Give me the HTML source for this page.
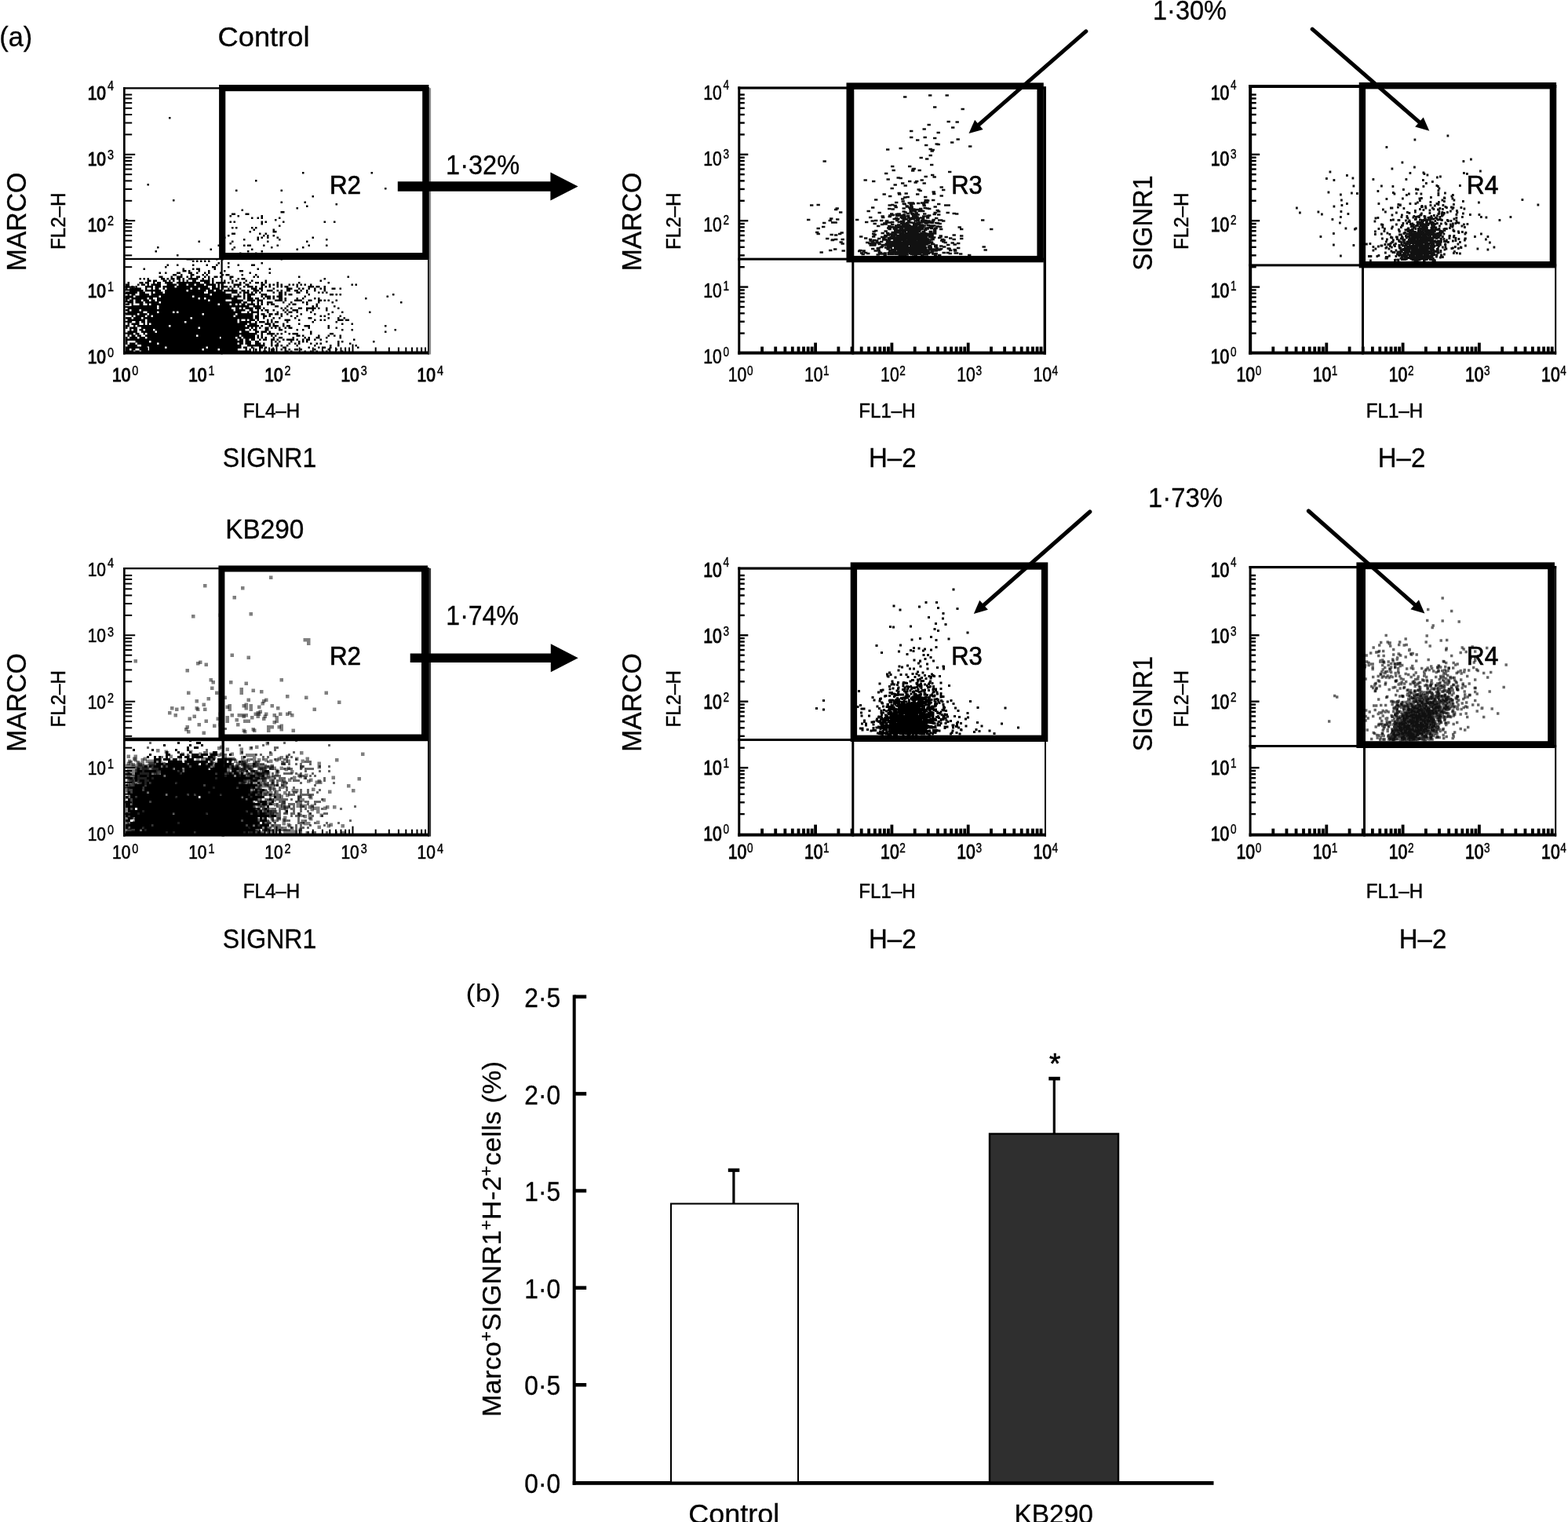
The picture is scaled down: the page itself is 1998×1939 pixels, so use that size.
<!DOCTYPE html>
<html lang="en"><head><meta charset="utf-8"><title>Figure</title>
<style>html,body{margin:0;padding:0;background:#fff}svg{display:block}text{font-family:'Liberation Sans', sans-serif;fill:#000}</style>
</head><body>
<svg width="1998" height="1939" viewBox="0 0 1998 1939">
<rect width="1998" height="1939" fill="#fff"/>
<path d="M215 150.25h2.5m65 47.5h2.5m100 22.5h2.5m85 0h2.5m-150 10h2.5m-140 5h2.5m300 5h2.5m-192.5 2.5h2.5m55 0h2.5m37.5 7.5h2.5m-180 5h2.5m135 2.5h2.5m27.5 0h2.5m37.5 2.5h2.5m-40 2.5h2.5m-15 2.5h2.5m-72.5 2.5h2.5m47.5 2.5h5m-67.5 2.5h5m12.5 0h5m-25 2.5h2.5m7.5 0h2.5m27.5 0h2.5m-15 2.5h2.5m5 0h2.5m2.5 0h2.5m20 0h2.5m-197.5 2.5h2.5m187.5 0h2.5m-60 2.5h2.5m2.5 0h2.5m32.5 0h2.5m2.5 0h2.5m20 0h2.5m50 0h2.5m10 0h2.5m-95 2.5h2.5m20 2.5h2.5m-62.5 2.5h2.5m2.5 0h2.5m17.5 0h2.5m2.5 0h2.5m-5 2.5h2.5m22.5 0h2.5m-32.5 2.5h2.5m27.5 0h5m-57.5 2.5h5m30 0h2.5m5 0h2.5m-57.5 2.5h2.5m5 0h2.5m42.5 0h2.5m2.5 0h2.5m5 0h2.5m-65 2.5h2.5m40 0h2.5m2.5 0h2.5m5 0h2.5m10 0h2.5m42.5 0h2.5m-90 2.5h2.5m15 0h2.5m25 0h2.5m57.5 0h2.5m-165 2.5h2.5m40 0h2.5m42.5 0h2.5m47.5 0h2.5m-100 2.5h2.5m-17.5 2.5h2.5m30 0h2.5m2.5 0h5m15 0h2.5m15 0h2.5m37.5 0h2.5m20 0h2.5m-217.5 2.5h2.5m95 0h2.5m45 0h2.5m37.5 0h2.5m-120 2.5h2.5m25 0h2.5m22.5 0h2.5m55 0h2.5m-182.5 2.5h2.5m115 0h2.5m15 0h2.5m-30 2.5h2.5m17.5 0h2.5m-102.5 2.5h2.5m52.5 0h2.5m55 0h2.5m10 0h2.5m-17.5 2.5h2.5m30 0h2.5m67.5 0h2.5m-202.5 2.5h7.5m30 0h2.5m5 0h2.5m72.5 0h2.5m-115 2.5h2.5m2.5 0h2.5m2.5 0h2.5m2.5 0h2.5m2.5 0h2.5m10 2.5h2.5m10 0h2.5m40 0h2.5m-122.5 2.5h2.5m10 0h2.5m17.5 0h2.5m15 0h2.5m10 0h2.5m25 0h2.5m15 0h5m-115 2.5h2.5m57.5 0h5m15 0h2.5m-110 2.5h2.5m47.5 0h2.5m10 0h2.5m2.5 0h5m17.5 0h2.5m52.5 0h2.5m12.5 0h2.5m-112.5 2.5h5m2.5 0h2.5m10 0h2.5m10 0h2.5m17.5 0h2.5m17.5 0h5m-107.5 2.5h2.5m5 0h2.5m12.5 0h5m10 0h5m5 0h2.5m7.5 0h2.5m2.5 0h2.5m12.5 0h2.5m35 0h2.5m22.5 0h2.5m-125 2.5h5m5 0h2.5m10 0h5m10 0h2.5m2.5 0h2.5m17.5 0h2.5m2.5 0h5m15 0h2.5m15 0h2.5m-125 2.5h5m10 0h2.5m5 0h7.5m5 0h2.5m2.5 0h2.5m5 0h5m5 0h2.5m2.5 0h2.5m5 0h5m2.5 0h2.5m10 0h5m25 0h2.5m2.5 0h2.5m50 0h2.5m60 0h2.5m-267.5 2.5h2.5m2.5 0h2.5m2.5 0h2.5m15 0h5m2.5 0h2.5m2.5 0h5m2.5 0h5m2.5 0h2.5m5 0h12.5m5 0h2.5m5 0h2.5m2.5 0h2.5m20 0h2.5m7.5 0h2.5m2.5 0h5m100 0h2.5m-227.5 2.5h5m2.5 0h5m7.5 0h5m2.5 0h2.5m2.5 0h2.5m5 0h2.5m2.5 0h2.5m2.5 0h2.5m5 0h5m5 0h12.5m2.5 0h2.5m12.5 0h2.5m7.5 0h2.5m2.5 0h2.5m10 0h2.5m5 0h2.5m15 0h2.5m67.5 0h2.5m-247.5 2.5h2.5m12.5 0h5m2.5 0h5m5 0h2.5m2.5 0h5m5 0h10m5 0h30m5 0h7.5m2.5 0h2.5m2.5 0h12.5m2.5 0h2.5m2.5 0h2.5m7.5 0h2.5m2.5 0h2.5m5 0h2.5m5 0h5m2.5 0h2.5m2.5 0h2.5m12.5 0h2.5m25 0h2.5m35 0h2.5m-260 2.5h5m10 0h2.5m2.5 0h5m2.5 0h2.5m2.5 0h12.5m7.5 0h12.5m2.5 0h10m2.5 0h7.5m2.5 0h10m2.5 0h12.5m2.5 0h2.5m2.5 0h2.5m12.5 0h10m5 0h5m15 0h5m5 0h2.5m2.5 0h2.5m2.5 0h2.5m2.5 0h2.5m7.5 0h2.5m2.5 0h2.5m2.5 0h2.5m2.5 0h2.5m2.5 0h2.5m5 0h2.5m50 0h2.5m2.5 0h2.5m-295 2.5h5m2.5 0h2.5m2.5 0h2.5m10 0h10m2.5 0h7.5m2.5 0h15m2.5 0h40m5 0h5m2.5 0h2.5m2.5 0h7.5m2.5 0h2.5m2.5 0h2.5m2.5 0h2.5m5 0h2.5m2.5 0h7.5m2.5 0h2.5m5 0h2.5m2.5 0h2.5m2.5 0h2.5m7.5 0h2.5m2.5 0h2.5m2.5 0h5m10 0h2.5m12.5 0h7.5m2.5 0h5m5 0h2.5m-255 2.5h2.5m2.5 0h15m5 0h2.5m5 0h2.5m2.5 0h5m5 0h2.5m2.5 0h30m2.5 0h7.5m2.5 0h12.5m2.5 0h10m2.5 0h2.5m5 0h2.5m2.5 0h2.5m7.5 0h2.5m12.5 0h7.5m2.5 0h5m12.5 0h2.5m15 0h7.5m7.5 0h2.5m2.5 0h2.5m5 0h2.5m5 0h2.5m5 0h2.5m2.5 0h2.5m7.5 0h5m5 0h2.5m-270 2.5h17.5m2.5 0h20m5 0h27.5m2.5 0h22.5m2.5 0h7.5m2.5 0h7.5m2.5 0h17.5m5 0h5m2.5 0h2.5m5 0h7.5m2.5 0h2.5m5 0h7.5m5 0h2.5m2.5 0h2.5m5 0h5m5 0h5m2.5 0h2.5m5 0h2.5m7.5 0h2.5m10 0h2.5m-255 2.5h15m2.5 0h7.5m7.5 0h2.5m2.5 0h10m2.5 0h50m5 0h22.5m7.5 0h7.5m2.5 0h2.5m2.5 0h7.5m2.5 0h2.5m2.5 0h2.5m2.5 0h2.5m15 0h2.5m5 0h5m2.5 0h2.5m12.5 0h5m7.5 0h2.5m12.5 0h2.5m2.5 0h2.5m2.5 0h2.5m-255 2.5h2.5m2.5 0h5m5 0h12.5m2.5 0h75m2.5 0h25m7.5 0h2.5m5 0h2.5m2.5 0h10m7.5 0h7.5m15 0h5m2.5 0h2.5m2.5 0h5m20 0h2.5m25 0h5m2.5 0h2.5m2.5 0h2.5m65 0h2.5m-342.5 2.5h10m2.5 0h30m2.5 0h40m2.5 0h47.5m2.5 0h10m2.5 0h2.5m2.5 0h5m12.5 0h2.5m2.5 0h7.5m2.5 0h2.5m2.5 0h7.5m27.5 0h2.5m102.5 0h2.5m-335 2.5h5m2.5 0h20m2.5 0h5m5 0h52.5m2.5 0h5m2.5 0h40m7.5 0h2.5m2.5 0h7.5m2.5 0h5m5 0h2.5m2.5 0h5m2.5 0h2.5m5 0h5m2.5 0h2.5m12.5 0h2.5m5 0h2.5m12.5 0h2.5m2.5 0h2.5m57.5 0h2.5m-307.5 2.5h2.5m2.5 0h5m2.5 0h7.5m2.5 0h7.5m2.5 0h5m2.5 0h65m2.5 0h20m7.5 0h15m5 0h10m2.5 0h7.5m15 0h10m2.5 0h2.5m10 0h10m7.5 0h5m7.5 0h5m2.5 0h2.5m2.5 0h2.5m7.5 0h2.5m-267.5 2.5h7.5m2.5 0h10m2.5 0h17.5m2.5 0h102.5m2.5 0h5m5 0h2.5m5 0h2.5m2.5 0h2.5m5 0h7.5m12.5 0h2.5m7.5 0h2.5m12.5 0h2.5m2.5 0h2.5m12.5 0h2.5m15 0h2.5m85 0h2.5m-352.5 2.5h5m2.5 0h2.5m7.5 0h5m5 0h2.5m2.5 0h85m2.5 0h12.5m2.5 0h5m2.5 0h2.5m2.5 0h5m2.5 0h10m2.5 0h2.5m2.5 0h2.5m5 0h2.5m2.5 0h5m17.5 0h2.5m2.5 0h5m12.5 0h2.5m10 0h2.5m-237.5 2.5h32.5m2.5 0h115m5 0h10m17.5 0h5m10 0h2.5m30 0h2.5m2.5 0h2.5m20 0h2.5m-265 2.5h37.5m2.5 0h92.5m5 0h5m2.5 0h2.5m2.5 0h10m2.5 0h7.5m2.5 0h2.5m20 0h2.5m2.5 0h2.5m5 0h2.5m7.5 0h5m5 0h12.5m2.5 0h2.5m7.5 0h2.5m12.5 0h2.5m-272.5 2.5h5m2.5 0h10m2.5 0h117.5m2.5 0h12.5m5 0h5m5 0h2.5m2.5 0h2.5m2.5 0h5m5 0h2.5m10 0h2.5m2.5 0h2.5m5 0h7.5m10 0h2.5m5 0h2.5m15 0h2.5m-255 2.5h20m5 0h12.5m2.5 0h17.5m2.5 0h2.5m2.5 0h80m7.5 0h2.5m2.5 0h10m10 0h2.5m10 0h2.5m7.5 0h2.5m2.5 0h5m5 0h2.5m15 0h2.5m25 0h2.5m10 0h2.5m32.5 0h2.5m-312.5 2.5h15m2.5 0h10m2.5 0h67.5m2.5 0h40m2.5 0h20m5 0h2.5m2.5 0h5m5 0h5m2.5 0h5m2.5 0h2.5m5 0h2.5m15 0h2.5m15 0h2.5m15 0h2.5m-252.5 2.5h2.5m2.5 0h12.5m2.5 0h5m2.5 0h102.5m2.5 0h22.5m2.5 0h5m5 0h5m2.5 0h2.5m12.5 0h2.5m10 0h2.5m5 0h2.5m27.5 0h2.5m2.5 0h2.5m17.5 0h2.5m-275 2.5h7.5m2.5 0h10m2.5 0h60m2.5 0h77.5m2.5 0h5m5 0h2.5m10 0h2.5m5 0h2.5m17.5 0h2.5m15 0h5m20 0h2.5m10 0h2.5m5 0h2.5m-277.5 2.5h22.5m2.5 0h115m2.5 0h2.5m5 0h2.5m2.5 0h7.5m2.5 0h2.5m10 0h2.5m2.5 0h2.5m15 0h7.5m10 0h2.5m17.5 0h2.5m5 0h2.5m2.5 0h2.5m15 0h7.5m2.5 0h5m-282.5 2.5h5m5 0h5m2.5 0h5m2.5 0h47.5m2.5 0h65m2.5 0h15m5 0h2.5m2.5 0h7.5m2.5 0h2.5m2.5 0h2.5m2.5 0h5m10 0h2.5m30 0h2.5m27.5 0h2.5m-267.5 2.5h2.5m2.5 0h10m5 0h2.5m2.5 0h2.5m2.5 0h122.5m2.5 0h10m10 0h7.5m2.5 0h2.5m10 0h2.5m17.5 0h2.5m52.5 0h2.5m10 0h2.5m-290 2.5h5m5 0h2.5m2.5 0h40m2.5 0h95m2.5 0h15m2.5 0h2.5m7.5 0h2.5m2.5 0h7.5m5 0h2.5m2.5 0h5m17.5 0h7.5m22.5 0h2.5m70 0h2.5m-332.5 2.5h2.5m2.5 0h10m5 0h72.5m2.5 0h62.5m2.5 0h2.5m2.5 0h2.5m2.5 0h2.5m5 0h5m2.5 0h2.5m2.5 0h2.5m2.5 0h2.5m5 0h2.5m2.5 0h5m20 0h2.5m22.5 0h2.5m7.5 0h2.5m-265 2.5h2.5m2.5 0h5m2.5 0h5m2.5 0h10m2.5 0h115m5 0h2.5m2.5 0h5m10 0h5m12.5 0h5m17.5 0h2.5m5 0h2.5m47.5 0h2.5m10 0h2.5m52.5 0h2.5m-342.5 2.5h12.5m5 0h17.5m2.5 0h105m2.5 0h10m7.5 0h5m2.5 0h7.5m2.5 0h2.5m17.5 0h2.5m30 0h2.5m92.5 0h2.5m-330 2.5h7.5m2.5 0h5m5 0h2.5m2.5 0h140m5 0h2.5m5 0h10m2.5 0h2.5m2.5 0h2.5m7.5 0h2.5m2.5 0h7.5m15 0h2.5m22.5 0h5m-262.5 2.5h2.5m2.5 0h5m2.5 0h5m5 0h65m2.5 0h52.5m2.5 0h17.5m2.5 0h2.5m2.5 0h2.5m10 0h2.5m2.5 0h2.5m25 0h5m2.5 0h2.5m17.5 0h2.5m10 0h2.5m5 0h2.5m5 0h2.5m-275 2.5h2.5m2.5 0h10m2.5 0h7.5m2.5 0h92.5m2.5 0h17.5m2.5 0h5m2.5 0h15m2.5 0h2.5m2.5 0h2.5m2.5 0h2.5m7.5 0h2.5m5 0h5m12.5 0h2.5m12.5 0h2.5m2.5 0h2.5m7.5 0h5m7.5 0h2.5m15 0h2.5m-275 2.5h142.5m2.5 0h5m2.5 0h5m2.5 0h5m5 0h2.5m2.5 0h5m5 0h5m2.5 0h2.5m5 0h2.5m2.5 0h10m2.5 0h2.5m5 0h2.5m2.5 0h5m5 0h2.5m5 0h2.5m40 0h2.5m-292.5 2.5h2.5m10 0h17.5m2.5 0h117.5m2.5 0h7.5m5 0h5m15 0h2.5m2.5 0h2.5m2.5 0h2.5m12.5 0h2.5m7.5 0h2.5m2.5 0h2.5m2.5 0h2.5m22.5 0h2.5m12.5 0h2.5m2.5 0h2.5m37.5 0h2.5m-317.5 2.5h2.5m2.5 0h7.5m2.5 0h25m2.5 0h100m2.5 0h5m2.5 0h7.5m5 0h7.5m2.5 0h2.5m7.5 0h2.5m5 0h2.5m12.5 0h2.5m5 0h2.5m2.5 0h2.5m12.5 0h2.5m5 0h2.5m2.5 0h2.5m20 0h2.5m12.5 0h2.5m-285 2.5h12.5m5 0h127.5m7.5 0h22.5m7.5 0h2.5m2.5 0h5m2.5 0h2.5m5 0h2.5m10 0h2.5m20 0h2.5m17.5 0h2.5m7.5 0h2.5m20 0h2.5m-295 2.5h27.5m2.5 0h20m2.5 0h50m2.5 0h42.5m2.5 0h5m5 0h2.5m7.5 0h5m2.5 0h2.5m20 0h5m27.5 0h2.5m10 0h2.5m2.5 0h5m5 0h2.5m32.5 0h2.5m-297.5 2.5h5m2.5 0h5m5 0h10m2.5 0h67.5m2.5 0h17.5m2.5 0h22.5m10 0h2.5m2.5 0h2.5m5 0h2.5m2.5 0h2.5m12.5 0h5m7.5 0h2.5m2.5 0h2.5m2.5 0h2.5m5 0h5m2.5 0h2.5m15 0h2.5m15 0h2.5m7.5 0h2.5m-270 2.5h10m2.5 0h5m2.5 0h140m5 0h2.5m2.5 0h2.5m2.5 0h5m5 0h5m12.5 0h5m2.5 0h2.5m15 0h2.5m5 0h2.5m5 0h2.5m5 0h2.5m2.5 0h2.5m17.5 0h2.5" stroke="#000" stroke-width="2.5" fill="none"/>
<rect x="157.00" y="111.20" width="390.00" height="2.30" fill="#000"/>
<rect x="157.00" y="111.20" width="2.70" height="340.30" fill="#000"/>
<rect x="157.00" y="447.50" width="390.00" height="4.00" fill="#000"/>
<rect x="545.00" y="111.20" width="2.00" height="340.30" fill="#000"/>
<rect x="157.00" y="328.80" width="390.00" height="2.20" fill="#000"/>
<rect x="281.50" y="111.20" width="2.20" height="340.30" fill="#000"/>
<rect x="159.20" y="423.59" width="9.00" height="2.00" fill="#000"/>
<rect x="186.70" y="442.50" width="2.00" height="5.50" fill="#000"/>
<rect x="159.20" y="408.73" width="9.00" height="2.00" fill="#000"/>
<rect x="203.78" y="442.50" width="2.00" height="5.50" fill="#000"/>
<rect x="159.20" y="398.19" width="9.00" height="2.00" fill="#000"/>
<rect x="215.90" y="442.50" width="2.00" height="5.50" fill="#000"/>
<rect x="159.20" y="390.01" width="9.00" height="2.00" fill="#000"/>
<rect x="225.30" y="442.50" width="2.00" height="5.50" fill="#000"/>
<rect x="159.20" y="383.32" width="9.00" height="2.00" fill="#000"/>
<rect x="232.98" y="442.50" width="2.00" height="5.50" fill="#000"/>
<rect x="159.20" y="377.67" width="9.00" height="2.00" fill="#000"/>
<rect x="239.47" y="442.50" width="2.00" height="5.50" fill="#000"/>
<rect x="159.20" y="372.78" width="9.00" height="2.00" fill="#000"/>
<rect x="245.10" y="442.50" width="2.00" height="5.50" fill="#000"/>
<rect x="159.20" y="368.46" width="9.00" height="2.00" fill="#000"/>
<rect x="250.06" y="442.50" width="2.00" height="5.50" fill="#000"/>
<rect x="159.20" y="364.60" width="13.00" height="2.00" fill="#000"/>
<rect x="254.50" y="438.50" width="2.00" height="9.50" fill="#000"/>
<rect x="159.20" y="339.19" width="9.00" height="2.00" fill="#000"/>
<rect x="283.70" y="442.50" width="2.00" height="5.50" fill="#000"/>
<rect x="159.20" y="324.33" width="9.00" height="2.00" fill="#000"/>
<rect x="300.78" y="442.50" width="2.00" height="5.50" fill="#000"/>
<rect x="159.20" y="313.79" width="9.00" height="2.00" fill="#000"/>
<rect x="312.90" y="442.50" width="2.00" height="5.50" fill="#000"/>
<rect x="159.20" y="305.61" width="9.00" height="2.00" fill="#000"/>
<rect x="322.30" y="442.50" width="2.00" height="5.50" fill="#000"/>
<rect x="159.20" y="298.92" width="9.00" height="2.00" fill="#000"/>
<rect x="329.98" y="442.50" width="2.00" height="5.50" fill="#000"/>
<rect x="159.20" y="293.27" width="9.00" height="2.00" fill="#000"/>
<rect x="336.47" y="442.50" width="2.00" height="5.50" fill="#000"/>
<rect x="159.20" y="288.38" width="9.00" height="2.00" fill="#000"/>
<rect x="342.10" y="442.50" width="2.00" height="5.50" fill="#000"/>
<rect x="159.20" y="284.06" width="9.00" height="2.00" fill="#000"/>
<rect x="347.06" y="442.50" width="2.00" height="5.50" fill="#000"/>
<rect x="159.20" y="280.20" width="13.00" height="2.00" fill="#000"/>
<rect x="351.50" y="438.50" width="2.00" height="9.50" fill="#000"/>
<rect x="159.20" y="254.79" width="9.00" height="2.00" fill="#000"/>
<rect x="380.70" y="442.50" width="2.00" height="5.50" fill="#000"/>
<rect x="159.20" y="239.93" width="9.00" height="2.00" fill="#000"/>
<rect x="397.78" y="442.50" width="2.00" height="5.50" fill="#000"/>
<rect x="159.20" y="229.39" width="9.00" height="2.00" fill="#000"/>
<rect x="409.90" y="442.50" width="2.00" height="5.50" fill="#000"/>
<rect x="159.20" y="221.21" width="9.00" height="2.00" fill="#000"/>
<rect x="419.30" y="442.50" width="2.00" height="5.50" fill="#000"/>
<rect x="159.20" y="214.52" width="9.00" height="2.00" fill="#000"/>
<rect x="426.98" y="442.50" width="2.00" height="5.50" fill="#000"/>
<rect x="159.20" y="208.87" width="9.00" height="2.00" fill="#000"/>
<rect x="433.47" y="442.50" width="2.00" height="5.50" fill="#000"/>
<rect x="159.20" y="203.98" width="9.00" height="2.00" fill="#000"/>
<rect x="439.10" y="442.50" width="2.00" height="5.50" fill="#000"/>
<rect x="159.20" y="199.66" width="9.00" height="2.00" fill="#000"/>
<rect x="444.06" y="442.50" width="2.00" height="5.50" fill="#000"/>
<rect x="159.20" y="195.80" width="13.00" height="2.00" fill="#000"/>
<rect x="448.50" y="438.50" width="2.00" height="9.50" fill="#000"/>
<rect x="159.20" y="170.39" width="9.00" height="2.00" fill="#000"/>
<rect x="477.70" y="442.50" width="2.00" height="5.50" fill="#000"/>
<rect x="159.20" y="155.53" width="9.00" height="2.00" fill="#000"/>
<rect x="494.78" y="442.50" width="2.00" height="5.50" fill="#000"/>
<rect x="159.20" y="144.99" width="9.00" height="2.00" fill="#000"/>
<rect x="506.90" y="442.50" width="2.00" height="5.50" fill="#000"/>
<rect x="159.20" y="136.81" width="9.00" height="2.00" fill="#000"/>
<rect x="516.30" y="442.50" width="2.00" height="5.50" fill="#000"/>
<rect x="159.20" y="130.12" width="9.00" height="2.00" fill="#000"/>
<rect x="523.98" y="442.50" width="2.00" height="5.50" fill="#000"/>
<rect x="159.20" y="124.47" width="9.00" height="2.00" fill="#000"/>
<rect x="530.47" y="442.50" width="2.00" height="5.50" fill="#000"/>
<rect x="159.20" y="119.58" width="9.00" height="2.00" fill="#000"/>
<rect x="536.10" y="442.50" width="2.00" height="5.50" fill="#000"/>
<rect x="541.06" y="442.50" width="2.00" height="5.50" fill="#000"/>
<rect x="546.50" y="112.20" width="2.60" height="339.30" fill="#8a8a8a"/>
<rect x="283.20" y="112.10" width="259.10" height="214.00" fill="none" stroke="#000" stroke-width="8.2"/>
<path d="M259 746.25h4.5m54 36h4.5m-72 63h4.5m-18 9h4.5m27 22.5h4.5m58.5 4.5h4.5m-54 4.5h4.5m-22.5 4.5h4.5m162 4.5h4.5m-144 4.5h4.5m13.5 0h4.5m4.5 0h4.5m22.5 0h4.5m-126 4.5h4.5m22.5 0h4.5m4.5 0h4.5m27 0h4.5m22.5 0h4.5m76.5 0h4.5m-189 4.5h4.5m108 0h4.5m36 0h4.5m-126 4.5h4.5m58.5 0h4.5m13.5 0h4.5m4.5 0h4.5m-40.5 4.5h4.5m-22.5 4.5h4.5m-49.5 4.5h4.5m99 0h9m4.5 0h4.5m-49.5 4.5h4.5m9 0h4.5m13.5 0h4.5m27 0h4.5m-45 9h4.5m-58.5 13.5h4.5m36 0h4.5m-112.5 4.5h4.5m27 0h4.5m31.5 4.5h4.5m31.5 0h13.5m-157.5 4.5h4.5m9 0h4.5m40.5 0h4.5m18 0h4.5m4.5 0h13.5m13.5 0h13.5m22.5 0h4.5m27 0h4.5m18 0h4.5m9 0h4.5m-229.5 4.5h4.5m4.5 0h4.5m18 0h9m13.5 0h4.5m27 0h4.5m4.5 0h4.5m4.5 0h4.5m9 0h4.5m4.5 0h4.5m13.5 0h4.5m9 0h4.5m31.5 0h4.5m-202.5 4.5h58.5m9 0h18m13.5 0h9m4.5 0h4.5m9 0h4.5m9 0h4.5m4.5 0h9m4.5 0h4.5m4.5 0h9m4.5 0h4.5m-175.5 4.5h36m4.5 0h4.5m9 0h13.5m4.5 0h18m4.5 0h18m18 0h9m4.5 0h4.5m9 0h4.5m27 0h4.5m-207 4.5h4.5m9 0h18m4.5 0h4.5m4.5 0h13.5m4.5 0h18m4.5 0h9m4.5 0h49.5m4.5 0h4.5m9 0h18m-184.5 4.5h49.5m4.5 0h4.5m13.5 0h22.5m4.5 0h4.5m9 0h40.5m4.5 0h13.5m9 0h4.5m36 0h4.5m-220.5 4.5h31.5m4.5 0h99m13.5 0h9m4.5 0h9m31.5 0h4.5m22.5 0h4.5m-234 4.5h22.5m4.5 0h13.5m4.5 0h22.5m13.5 0h9m4.5 0h18m4.5 0h22.5m4.5 0h9m18 0h4.5m4.5 0h4.5m9 0h4.5m-198 4.5h18m4.5 0h31.5m4.5 0h4.5m9 0h18m4.5 0h27m4.5 0h22.5m4.5 0h13.5m27 0h4.5m-202.5 4.5h4.5m9 0h4.5m9 0h58.5m4.5 0h18m9 0h9m9 0h9m4.5 0h9m4.5 0h13.5m36 0h9m67.5 0h4.5m-283.5 4.5h18m4.5 0h13.5m9 0h4.5m9 0h31.5m4.5 0h4.5m4.5 0h13.5m9 0h4.5m13.5 0h9m13.5 0h4.5m-180 4.5h4.5m4.5 0h49.5m4.5 0h9m4.5 0h4.5m4.5 0h4.5m4.5 0h9m4.5 0h4.5m4.5 0h4.5m4.5 0h4.5m4.5 0h13.5m9 0h4.5m72 0h4.5m-229.5 4.5h4.5m4.5 0h9m9 0h36m4.5 0h18m4.5 0h27m9 0h4.5m4.5 0h18m18 0h9m-189 4.5h4.5m4.5 0h4.5m4.5 0h40.5m9 0h9m9 0h45m4.5 0h9m4.5 0h9m4.5 0h9m4.5 0h4.5m9 0h4.5m-193.5 4.5h9m9 0h13.5m4.5 0h9m9 0h9m4.5 0h31.5m4.5 0h18m4.5 0h4.5m4.5 0h18m4.5 0h9m36 0h4.5m31.5 0h9m4.5 0h4.5m-256.5 4.5h27m9 0h13.5m4.5 0h18m4.5 0h85.5m4.5 0h4.5m4.5 0h4.5m4.5 0h9m9 0h4.5m36 0h4.5m-247.5 4.5h45m4.5 0h4.5m18 0h4.5m4.5 0h4.5m4.5 0h13.5m4.5 0h49.5m4.5 0h9m4.5 0h4.5m4.5 0h4.5m31.5 0h4.5m22.5 0h4.5m-252 4.5h4.5m13.5 0h4.5m4.5 0h31.5m4.5 0h22.5m4.5 0h13.5m13.5 0h9m9 0h27m13.5 0h4.5m4.5 0h4.5m4.5 0h4.5m36 0h4.5m-238.5 4.5h4.5m4.5 0h4.5m4.5 0h9m4.5 0h9m4.5 0h4.5m4.5 0h31.5m4.5 0h4.5m13.5 0h22.5m4.5 0h4.5m4.5 0h27m9 0h4.5m58.5 0h4.5m-247.5 4.5h4.5m4.5 0h31.5m4.5 0h9m4.5 0h9m9 0h4.5m4.5 0h4.5m4.5 0h31.5m4.5 0h4.5m9 0h9m4.5 0h4.5m4.5 0h4.5m13.5 0h4.5m18 0h4.5m45 0h4.5m13.5 0h4.5m-279 4.5h13.5m9 0h27m4.5 0h22.5m4.5 0h13.5m4.5 0h22.5m4.5 0h31.5m4.5 0h4.5m13.5 0h4.5m36 0h4.5m-220.5 4.5h4.5m13.5 0h4.5m4.5 0h4.5m4.5 0h67.5m4.5 0h27m4.5 0h9m4.5 0h13.5m58.5 0h4.5m40.5 0h4.5" stroke="#000" stroke-width="4.5" fill="none" opacity="0.5"/>
<path d="M296.5 761.25h4.5m-22.5 22.5h4.5m103.5 31.5h9m-4.5 4.5h4.5m-81 18h4.5m-148.5 4.5h4.5m85.5 4.5h4.5m4.5 22.5h4.5m18 0h4.5m9 9h4.5m-72 4.5h4.5m31.5 0h4.5m27 0h4.5m103.5 0h4.5m-54 4.5h4.5m-54 4.5h4.5m18 0h4.5m-9 4.5h4.5m-49.5 4.5h4.5m36 0h4.5m-54 9h4.5m40.5 0h9m4.5 0h4.5m13.5 0h4.5m4.5 0h4.5m-81 4.5h4.5m27 0h4.5m27 0h4.5m-94.5 4.5h4.5m22.5 0h4.5m18 0h9m31.5 0h4.5m-103.5 4.5h4.5m22.5 0h4.5m18 0h4.5m-67.5 9h4.5m67.5 0h4.5m4.5 9h4.5m22.5 0h4.5m-63 13.5h4.5m13.5 0h4.5m-99 4.5h4.5m90 0h4.5m72 0h4.5m-225 4.5h4.5m4.5 0h4.5m40.5 0h4.5m18 0h4.5m121.5 0h4.5m-198 4.5h4.5m4.5 0h4.5m18 0h4.5m13.5 0h4.5m67.5 0h4.5m18 0h4.5m9 0h4.5m4.5 0h4.5m9 0h4.5m72 0h4.5m-270 4.5h4.5m9 0h9m4.5 0h9m4.5 0h9m9 0h4.5m4.5 0h4.5m4.5 0h4.5m13.5 0h9m4.5 0h13.5m18 0h4.5m4.5 0h4.5m9 0h4.5m31.5 0h4.5m40.5 0h4.5m-234 4.5h13.5m4.5 0h9m4.5 0h4.5m4.5 0h13.5m9 0h9m18 0h13.5m9 0h18m4.5 0h13.5m13.5 0h9m36 0h4.5m18 0h4.5m-247.5 4.5h27m4.5 0h13.5m4.5 0h22.5m9 0h22.5m9 0h9m13.5 0h18m4.5 0h4.5m27 0h4.5m-193.5 4.5h58.5m4.5 0h13.5m4.5 0h9m13.5 0h4.5m4.5 0h22.5m4.5 0h4.5m9 0h4.5m4.5 0h18m9 0h4.5m-193.5 4.5h4.5m4.5 0h49.5m4.5 0h13.5m4.5 0h22.5m4.5 0h27m4.5 0h27m4.5 0h18m22.5 0h4.5m9 0h4.5m31.5 0h4.5m-265.5 4.5h9m4.5 0h76.5m4.5 0h13.5m4.5 0h40.5m4.5 0h9m18 0h4.5m9 0h4.5m27 0h4.5m9 0h4.5m-247.5 4.5h4.5m4.5 0h4.5m4.5 0h27m4.5 0h9m4.5 0h4.5m4.5 0h9m4.5 0h4.5m4.5 0h9m4.5 0h4.5m4.5 0h31.5m4.5 0h18m4.5 0h4.5m4.5 0h4.5m-189 4.5h27m4.5 0h27m9 0h13.5m4.5 0h40.5m4.5 0h4.5m4.5 0h9m9 0h4.5m4.5 0h4.5m9 0h9m-189 4.5h22.5m9 0h58.5m4.5 0h13.5m9 0h9m9 0h4.5m4.5 0h4.5m9 0h9m4.5 0h9m9 0h4.5m63 0h4.5m-256.5 4.5h4.5m9 0h4.5m4.5 0h36m4.5 0h22.5m9 0h22.5m4.5 0h13.5m4.5 0h4.5m4.5 0h4.5m4.5 0h13.5m9 0h4.5m13.5 0h4.5m-202.5 4.5h27m4.5 0h36m4.5 0h9m9 0h22.5m13.5 0h4.5m18 0h9m4.5 0h4.5m-171 4.5h13.5m4.5 0h72m4.5 0h27m13.5 0h27m4.5 0h4.5m27 0h4.5m13.5 0h4.5m-216 4.5h4.5m4.5 0h4.5m4.5 0h31.5m4.5 0h9m13.5 0h13.5m4.5 0h54m4.5 0h4.5m4.5 0h9m18 0h4.5m18 0h13.5m4.5 0h4.5m-225 4.5h54m4.5 0h13.5m9 0h9m4.5 0h18m4.5 0h40.5m4.5 0h9m49.5 0h4.5m-234 4.5h36m4.5 0h9m4.5 0h9m4.5 0h4.5m4.5 0h4.5m4.5 0h36m13.5 0h13.5m4.5 0h13.5m4.5 0h9m-184.5 4.5h9m9 0h27m4.5 0h13.5m9 0h4.5m4.5 0h9m4.5 0h22.5m4.5 0h9m4.5 0h18m4.5 0h9m13.5 0h4.5m40.5 0h4.5m-220.5 4.5h54m4.5 0h58.5m9 0h4.5m13.5 0h18m27 0h4.5m-202.5 4.5h13.5m4.5 0h9m4.5 0h36m4.5 0h18m4.5 0h22.5m4.5 0h45m31.5 0h4.5m22.5 0h9m-225 4.5h31.5m4.5 0h18m4.5 0h13.5m4.5 0h9m9 0h9m4.5 0h4.5m4.5 0h31.5m18 0h4.5m63 0h4.5m-247.5 4.5h40.5m9 0h18m9 0h4.5m4.5 0h40.5m9 0h18m4.5 0h4.5m13.5 0h4.5m-180 4.5h13.5m4.5 0h18m4.5 0h4.5m4.5 0h54m4.5 0h4.5m9 0h31.5m4.5 0h4.5m9 0h4.5m18 0h4.5" stroke="#000" stroke-width="4.5" fill="none" opacity="0.5"/>
<path d="M343 735.75h4.5m-40.5 13.5h4.5m-67.5 36h4.5m45 49.5h4.5m-45 9h4.5m9 22.5h4.5m85.5 0h4.5m-49.5 4.5h4.5m4.5 9h4.5m-40.5 9h4.5m99 0h4.5m-144 4.5h4.5m81 0h4.5m-81 4.5h4.5m18 0h4.5m27 0h4.5m-99 4.5h4.5m9 0h4.5m13.5 0h4.5m58.5 0h4.5m36 0h4.5m-27 4.5h4.5m-112.5 4.5h4.5m67.5 0h4.5m4.5 0h13.5m31.5 0h4.5m18 0h4.5m-135 4.5h4.5m31.5 0h4.5m54 0h4.5m9 4.5h4.5m-81 4.5h4.5m81 0h4.5m-126 4.5h4.5m81 0h4.5m31.5 0h4.5m-103.5 4.5h4.5m76.5 13.5h4.5m-63 4.5h4.5m40.5 0h4.5m-130.5 4.5h4.5m27 4.5h4.5m18 0h4.5m9 0h4.5m9 0h4.5m9 0h4.5m45 0h4.5m112.5 0h4.5m-198 4.5h9m9 0h4.5m18 0h4.5m45 0h4.5m-198 4.5h4.5m18 0h13.5m18 0h4.5m13.5 0h9m22.5 0h4.5m9 0h4.5m13.5 0h4.5m4.5 0h9m27 0h4.5m18 0h4.5m13.5 0h4.5m-220.5 4.5h4.5m4.5 0h4.5m9 0h9m9 0h18m9 0h4.5m9 0h4.5m4.5 0h4.5m4.5 0h4.5m4.5 0h9m4.5 0h9m9 0h22.5m-157.5 4.5h4.5m4.5 0h9m4.5 0h9m4.5 0h13.5m4.5 0h4.5m4.5 0h4.5m9 0h4.5m9 0h4.5m4.5 0h36m4.5 0h9m9 0h9m4.5 0h9m4.5 0h4.5m4.5 0h4.5m-198 4.5h49.5m4.5 0h4.5m4.5 0h27m4.5 0h27m4.5 0h4.5m4.5 0h4.5m9 0h9m4.5 0h9m9 0h4.5m13.5 0h4.5m-202.5 4.5h18m9 0h4.5m9 0h9m4.5 0h9m4.5 0h4.5m9 0h13.5m13.5 0h4.5m4.5 0h9m4.5 0h22.5m4.5 0h4.5m45 0h4.5m4.5 0h4.5m-229.5 4.5h58.5m4.5 0h13.5m9 0h49.5m9 0h22.5m4.5 0h4.5m117 0h4.5m-292.5 4.5h4.5m4.5 0h49.5m4.5 0h81m4.5 0h4.5m13.5 0h4.5m22.5 0h4.5m36 0h9m-247.5 4.5h9m4.5 0h22.5m4.5 0h27m9 0h4.5m4.5 0h9m4.5 0h4.5m4.5 0h13.5m9 0h31.5m4.5 0h13.5m18 0h4.5m76.5 0h4.5m-283.5 4.5h99m4.5 0h13.5m4.5 0h13.5m9 0h9m9 0h9m13.5 0h4.5m45 0h4.5m-238.5 4.5h31.5m4.5 0h9m4.5 0h22.5m13.5 0h49.5m4.5 0h4.5m4.5 0h4.5m4.5 0h13.5m9 0h4.5m13.5 0h4.5m-202.5 4.5h18m4.5 0h22.5m4.5 0h27m18 0h9m4.5 0h9m9 0h9m4.5 0h13.5m4.5 0h13.5m22.5 0h4.5m18 0h4.5m9 0h4.5m-234 4.5h81m4.5 0h4.5m4.5 0h9m4.5 0h9m4.5 0h4.5m4.5 0h4.5m9 0h13.5m4.5 0h4.5m18 0h4.5m27 0h9m22.5 0h4.5m-247.5 4.5h13.5m4.5 0h13.5m4.5 0h18m4.5 0h9m4.5 0h27m4.5 0h9m4.5 0h13.5m4.5 0h9m4.5 0h9m18 0h4.5m-184.5 4.5h9m4.5 0h13.5m4.5 0h9m4.5 0h18m4.5 0h27m4.5 0h13.5m4.5 0h9m4.5 0h4.5m4.5 0h4.5m13.5 0h4.5m9 0h4.5m22.5 0h9m22.5 0h4.5m18 0h4.5m4.5 0h4.5m-265.5 4.5h9m4.5 0h36m4.5 0h36m9 0h4.5m9 0h4.5m4.5 0h9m4.5 0h18m4.5 0h4.5m4.5 0h9m-175.5 4.5h18m4.5 0h27m9 0h18m9 0h31.5m9 0h9m9 0h4.5m4.5 0h9m9 0h4.5m9 0h4.5m27 0h4.5m9 0h4.5m-229.5 4.5h18m4.5 0h4.5m4.5 0h4.5m4.5 0h9m4.5 0h4.5m4.5 0h18m4.5 0h13.5m4.5 0h31.5m4.5 0h4.5m4.5 0h13.5m4.5 0h4.5m22.5 0h4.5m27 0h4.5m-225 4.5h18m9 0h13.5m4.5 0h13.5m4.5 0h18m4.5 0h27m4.5 0h40.5m18 0h4.5m31.5 0h4.5m-225 4.5h22.5m9 0h9m4.5 0h27m4.5 0h4.5m4.5 0h9m4.5 0h27m4.5 0h13.5m4.5 0h18m4.5 0h9m22.5 0h4.5m49.5 0h4.5m-261 4.5h4.5m4.5 0h22.5m4.5 0h27m4.5 0h4.5m9 0h9m4.5 0h27m13.5 0h4.5m4.5 0h13.5m13.5 0h9m18 0h4.5m4.5 0h4.5m-207 4.5h9m4.5 0h13.5m4.5 0h40.5m9 0h4.5m4.5 0h9m4.5 0h4.5m4.5 0h22.5m4.5 0h22.5m4.5 0h4.5m4.5 0h4.5m13.5 0h18" stroke="#000" stroke-width="4.5" fill="none" opacity="0.5"/>
<path d="M286 928.5h3m87 15h3m-189 3h3m147 0h3m18 0h3m-60 3h3m27 0h3m81 0h3m-234 3h3m93 0h3m33 0h3m27 0h6m-93 3h3m84 0h3m-93 3h6m42 0h3m33 0h3m27 0h3m-138 3h3m45 0h3m36 0h3m3 0h3m33 0h3m-165 3h3m45 0h3m15 0h3m60 0h3m3 0h3m21 0h3m3 0h3m-117 3h3m21 0h3m9 0h9m18 0h3m12 0h3m12 0h3m9 0h6m9 0h3m-138 3h3m24 0h3m33 0h6m15 0h6m9 0h3m21 0h3m21 0h9m-120 3h3m9 0h3m3 0h3m6 0h9m15 0h9m21 0h6m3 0h3m6 0h3m3 0h3m9 0h3m-96 3h3m6 0h3m9 0h9m9 0h3m3 0h3m33 0h6m18 0h3m9 0h3m-165 3h3m42 0h3m3 0h6m3 0h3m9 0h12m3 0h6m12 0h3m3 0h6m9 0h3m3 0h12m-102 3h3m12 0h3m3 0h3m3 0h3m6 0h3m15 0h3m33 0h3m15 0h3m9 0h3m-171 3h3m63 0h6m3 0h12m3 0h3m3 0h3m12 0h12m3 0h3m3 0h3m12 0h3m-123 3h6m3 0h3m15 0h6m18 0h6m12 0h12m24 0h6m6 0h3m3 0h3m-126 3h3m18 0h3m3 0h3m18 0h3m3 0h9m9 0h3m3 0h9m6 0h3m15 0h3m21 0h3m-156 3h3m18 0h3m27 0h3m6 0h3m12 0h6m3 0h6m3 0h9m12 0h9m30 0h3m-141 3h3m30 0h6m15 0h6m6 0h3m3 0h3m3 0h3m9 0h3m15 0h3m39 0h3m-132 3h3m3 0h3m12 0h3m12 0h3m6 0h6m3 0h6m3 0h3m39 0h3m-114 3h6m21 0h6m21 0h3m9 0h3m6 0h3m6 0h3m-102 3h6m6 0h3m18 0h3m6 0h3m12 0h3m3 0h3m3 0h3m9 0h3m6 0h3m15 0h3m6 0h3m12 0h3m-135 3h3m18 0h3m18 0h6m3 0h9m6 0h3m6 0h3m15 0h3m3 0h6m3 0h3m6 0h3m9 0h3m-147 3h3m12 0h3m36 0h6m3 0h3m3 0h6m3 0h9m3 0h9m9 0h9m6 0h18m-135 3h3m9 0h3m3 0h3m12 0h3m9 0h3m6 0h9m3 0h3m9 0h3m3 0h9m21 0h6m-102 3h3m33 0h3m3 0h3m3 0h3m3 0h6m3 0h3m3 0h15m3 0h3m6 0h3m27 0h3m-120 3h6m18 0h6m6 0h3m3 0h6m6 0h3m6 0h9m12 0h3m3 0h3m3 0h6m6 0h9m-141 3h3m24 0h3m9 0h3m6 0h9m3 0h15m3 0h3m3 0h3m3 0h6m3 0h9m6 0h3m6 0h3m6 0h3m-129 3h3m6 0h3m15 0h3m6 0h6m15 0h3m18 0h3m3 0h6m3 0h3m3 0h3m6 0h6m9 0h3m51 0h3m-183 3h3m27 0h3m18 0h6m6 0h3m3 0h3m3 0h6m3 0h9m6 0h6m6 0h3m3 0h3m18 0h3m21 0h3m-126 3h3m9 0h3m6 0h3m9 0h9m3 0h3m15 0h3m6 0h3m6 0h3m-117 3h3m15 0h3m12 0h3m3 0h3m3 0h3m3 0h6m3 0h12m3 0h6m3 0h6m3 0h6m3 0h3m12 0h3m15 0h6m-102 3h9m6 0h3m9 0h3m6 0h6m12 0h3m3 0h6m3 0h3m9 0h3m9 0h3m-144 3h3m6 0h3m9 0h6m6 0h3m3 0h3m12 0h6m3 0h3m12 0h3m3 0h6m21 0h3m-72 3h3m18 0h6m3 0h3m3 0h3m3 0h3m6 0h9m9 0h3m6 0h3m54 0h3m-165 3h3m18 0h3m9 0h3m3 0h6m6 0h12m3 0h3m27 0h9m12 0h3m12 0h3m12 0h3m-177 3h3m3 0h3m24 0h3m6 0h3m15 0h6m6 0h3m3 0h3m9 0h12m18 0h3m3 0h3m9 0h3m15 0h3m-138 3h3m36 0h3m12 0h3m3 0h3m3 0h3m3 0h12m9 0h3m3 0h3m3 0h6m3 0h3m-111 3h3m36 0h9m3 0h21m3 0h12m6 0h3m3 0h3m-93 3h3m21 0h3m9 0h6m6 0h3m6 0h3m24 0h3m3 0h3m6 0h3m3 0h6m12 0h3m9 0h3m-135 3h3m9 0h3m3 0h9m3 0h6m3 0h3m6 0h12m9 0h3m3 0h6m27 0h3m3 0h3" stroke="#000" stroke-width="3" fill="none" opacity="0.6"/>
<path d="M241 943.5h3m-18 3h3m21 0h6m-48 3h3m30 0h3m12 0h3m-21 3h3m6 0h6m-84 3h3m21 0h3m27 0h3m12 0h3m-30 3h3m12 0h3m12 0h3m27 0h6m-87 3h3m18 0h6m12 0h6m9 0h9m3 0h9m3 0h9m6 0h3m6 0h3m-108 3h3m6 0h3m3 0h3m6 0h3m12 0h6m3 0h6m3 0h15m6 0h6m39 0h3m-117 3h9m3 0h9m3 0h6m12 0h9m15 0h6m3 0h3m3 0h6m3 0h9m-99 3h3m3 0h3m9 0h18m3 0h30m12 0h6m3 0h3m3 0h3m9 0h3m-108 3h9m3 0h27m3 0h12m3 0h6m3 0h6m3 0h9m3 0h9m27 0h3m-141 3h3m3 0h3m3 0h9m3 0h3m3 0h27m3 0h24m6 0h9m3 0h6m3 0h3m-123 3h3m24 0h18m3 0h9m3 0h30m3 0h21m6 0h9m-129 3h6m3 0h15m6 0h21m3 0h3m3 0h54m6 0h6m12 0h3m6 0h3m12 0h6m-180 3h3m6 0h6m12 0h3m12 0h24m3 0h42m3 0h9m6 0h3m3 0h6m3 0h3m18 0h3m-159 3h3m3 0h9m3 0h18m3 0h75m3 0h9m3 0h3m3 0h6m6 0h6m9 0h3m-171 3h3m3 0h3m12 0h6m3 0h78m3 0h45m6 0h3m-159 3h3m3 0h6m6 0h120m12 0h6m-147 3h3m3 0h3m3 0h30m3 0h78m15 0h3m6 0h3m-171 3h3m9 0h12m3 0h72m3 0h66m24 0h3m-189 3h15m3 0h87m3 0h27m3 0h15m3 0h3m-156 3h12m3 0h135m6 0h3m6 0h3m-174 3h3m3 0h18m3 0h75m3 0h51m3 0h6m3 0h3m-168 3h45m3 0h24m3 0h6m3 0h30m3 0h33m3 0h6m18 0h3m-186 3h3m3 0h6m3 0h48m3 0h27m3 0h51m3 0h9m3 0h15m12 0h3m-189 3h3m3 0h144m3 0h12m15 0h3m-186 3h6m3 0h21m3 0h129m9 0h9m6 0h3m-189 3h6m3 0h162m3 0h6m3 0h3m-186 3h162m18 0h3m-180 3h3m3 0h3m3 0h150m3 0h3m6 0h3m-177 3h18m3 0h129m3 0h12m3 0h3m6 0h3m21 0h3m-207 3h3m3 0h9m3 0h42m3 0h39m3 0h54m3 0h6m3 0h6m-177 3h3m3 0h177m3 0h6m-189 3h6m3 0h156m3 0h3m3 0h3m-180 3h6m6 0h135m3 0h18m3 0h9m-174 3h60m3 0h102m3 0h3m-177 3h33m3 0h117m3 0h6m3 0h3m3 0h12m-183 3h3m3 0h15m3 0h132m3 0h15m3 0h3m-168 3h6m3 0h3m3 0h138m12 0h3m15 0h3m-198 3h51m3 0h6m3 0h24m3 0h60m3 0h3m6 0h3m3 0h3m24 0h3m-198 3h3m3 0h6m3 0h138m3 0h9m3 0h3" stroke="#000" stroke-width="3" fill="none"/>
<rect x="157.00" y="723.00" width="390.00" height="2.30" fill="#000"/>
<rect x="157.00" y="723.00" width="2.70" height="342.60" fill="#000"/>
<rect x="157.00" y="1061.60" width="390.00" height="4.00" fill="#000"/>
<rect x="545.00" y="723.00" width="2.00" height="342.60" fill="#000"/>
<rect x="157.00" y="939.60" width="390.00" height="4.60" fill="#000"/>
<rect x="282.50" y="723.00" width="3.40" height="342.60" fill="#000"/>
<rect x="159.20" y="1036.09" width="9.00" height="2.00" fill="#000"/>
<rect x="186.70" y="1056.60" width="2.00" height="5.50" fill="#000"/>
<rect x="159.20" y="1021.23" width="9.00" height="2.00" fill="#000"/>
<rect x="203.78" y="1056.60" width="2.00" height="5.50" fill="#000"/>
<rect x="159.20" y="1010.69" width="9.00" height="2.00" fill="#000"/>
<rect x="215.90" y="1056.60" width="2.00" height="5.50" fill="#000"/>
<rect x="159.20" y="1002.51" width="9.00" height="2.00" fill="#000"/>
<rect x="225.30" y="1056.60" width="2.00" height="5.50" fill="#000"/>
<rect x="159.20" y="995.82" width="9.00" height="2.00" fill="#000"/>
<rect x="232.98" y="1056.60" width="2.00" height="5.50" fill="#000"/>
<rect x="159.20" y="990.17" width="9.00" height="2.00" fill="#000"/>
<rect x="239.47" y="1056.60" width="2.00" height="5.50" fill="#000"/>
<rect x="159.20" y="985.28" width="9.00" height="2.00" fill="#000"/>
<rect x="245.10" y="1056.60" width="2.00" height="5.50" fill="#000"/>
<rect x="159.20" y="980.96" width="9.00" height="2.00" fill="#000"/>
<rect x="250.06" y="1056.60" width="2.00" height="5.50" fill="#000"/>
<rect x="159.20" y="977.10" width="13.00" height="2.00" fill="#000"/>
<rect x="254.50" y="1052.60" width="2.00" height="9.50" fill="#000"/>
<rect x="159.20" y="951.69" width="9.00" height="2.00" fill="#000"/>
<rect x="283.70" y="1056.60" width="2.00" height="5.50" fill="#000"/>
<rect x="159.20" y="936.83" width="9.00" height="2.00" fill="#000"/>
<rect x="300.78" y="1056.60" width="2.00" height="5.50" fill="#000"/>
<rect x="159.20" y="926.29" width="9.00" height="2.00" fill="#000"/>
<rect x="312.90" y="1056.60" width="2.00" height="5.50" fill="#000"/>
<rect x="159.20" y="918.11" width="9.00" height="2.00" fill="#000"/>
<rect x="322.30" y="1056.60" width="2.00" height="5.50" fill="#000"/>
<rect x="159.20" y="911.42" width="9.00" height="2.00" fill="#000"/>
<rect x="329.98" y="1056.60" width="2.00" height="5.50" fill="#000"/>
<rect x="159.20" y="905.77" width="9.00" height="2.00" fill="#000"/>
<rect x="336.47" y="1056.60" width="2.00" height="5.50" fill="#000"/>
<rect x="159.20" y="900.88" width="9.00" height="2.00" fill="#000"/>
<rect x="342.10" y="1056.60" width="2.00" height="5.50" fill="#000"/>
<rect x="159.20" y="896.56" width="9.00" height="2.00" fill="#000"/>
<rect x="347.06" y="1056.60" width="2.00" height="5.50" fill="#000"/>
<rect x="159.20" y="892.70" width="13.00" height="2.00" fill="#000"/>
<rect x="351.50" y="1052.60" width="2.00" height="9.50" fill="#000"/>
<rect x="159.20" y="867.29" width="9.00" height="2.00" fill="#000"/>
<rect x="380.70" y="1056.60" width="2.00" height="5.50" fill="#000"/>
<rect x="159.20" y="852.43" width="9.00" height="2.00" fill="#000"/>
<rect x="397.78" y="1056.60" width="2.00" height="5.50" fill="#000"/>
<rect x="159.20" y="841.89" width="9.00" height="2.00" fill="#000"/>
<rect x="409.90" y="1056.60" width="2.00" height="5.50" fill="#000"/>
<rect x="159.20" y="833.71" width="9.00" height="2.00" fill="#000"/>
<rect x="419.30" y="1056.60" width="2.00" height="5.50" fill="#000"/>
<rect x="159.20" y="827.02" width="9.00" height="2.00" fill="#000"/>
<rect x="426.98" y="1056.60" width="2.00" height="5.50" fill="#000"/>
<rect x="159.20" y="821.37" width="9.00" height="2.00" fill="#000"/>
<rect x="433.47" y="1056.60" width="2.00" height="5.50" fill="#000"/>
<rect x="159.20" y="816.48" width="9.00" height="2.00" fill="#000"/>
<rect x="439.10" y="1056.60" width="2.00" height="5.50" fill="#000"/>
<rect x="159.20" y="812.16" width="9.00" height="2.00" fill="#000"/>
<rect x="444.06" y="1056.60" width="2.00" height="5.50" fill="#000"/>
<rect x="159.20" y="808.30" width="13.00" height="2.00" fill="#000"/>
<rect x="448.50" y="1052.60" width="2.00" height="9.50" fill="#000"/>
<rect x="159.20" y="782.89" width="9.00" height="2.00" fill="#000"/>
<rect x="477.70" y="1056.60" width="2.00" height="5.50" fill="#000"/>
<rect x="159.20" y="768.03" width="9.00" height="2.00" fill="#000"/>
<rect x="494.78" y="1056.60" width="2.00" height="5.50" fill="#000"/>
<rect x="159.20" y="757.49" width="9.00" height="2.00" fill="#000"/>
<rect x="506.90" y="1056.60" width="2.00" height="5.50" fill="#000"/>
<rect x="159.20" y="749.31" width="9.00" height="2.00" fill="#000"/>
<rect x="516.30" y="1056.60" width="2.00" height="5.50" fill="#000"/>
<rect x="159.20" y="742.62" width="9.00" height="2.00" fill="#000"/>
<rect x="523.98" y="1056.60" width="2.00" height="5.50" fill="#000"/>
<rect x="159.20" y="736.97" width="9.00" height="2.00" fill="#000"/>
<rect x="530.47" y="1056.60" width="2.00" height="5.50" fill="#000"/>
<rect x="159.20" y="732.08" width="9.00" height="2.00" fill="#000"/>
<rect x="536.10" y="1056.60" width="2.00" height="5.50" fill="#000"/>
<rect x="541.06" y="1056.60" width="2.00" height="5.50" fill="#000"/>
<rect x="546.50" y="724.00" width="2.60" height="341.60" fill="#333"/>
<rect x="282.40" y="724.50" width="258.60" height="215.00" fill="none" stroke="#000" stroke-width="8"/>
<path d="M1183 121.5h4.4M1204.5 121.5h4.4M1151 123.5h4.4M1189 136.5h4.4M1224.5 139h4.4M1206.5 155h4.4M1217.5 155.5h4.4M1181.5 159h4.4M1212 162.5h4.4M1175.5 164.5h4.4M1159 167h4.4M1193.5 169h4.4M1159 175h4.4M1176.5 175h4.4M1189 176h4.4M1218.5 177.5h4.4M1167 178.5h4.4M1211 181.5h4.4M1191.5 183.5h4.4M1193.5 184h4.4M1178 185h4.4M1234 186.5h4.4M1145.5 189h4.4M1183.5 190h4.4M1129 190.5h4.4M1186.5 191h4.4M1185.5 192.5h4.4M1183.5 198h4.4M1171.5 201h4.4M1179 202.5h4.4M1048.5 205.5h4.4M1185 210h4.4M1135 212h4.4M1157 212h4.4M1162.5 215h4.4M1161.5 215.5h4.4M1136.5 217h4.4M1169.5 217h4.4M1161 217.5h4.4M1208 219h4.4M1127 221h4.4M1186 223h4.4M1177.5 225h4.4M1188.5 225.5h4.4M1142.5 226.5h4.4M1145.5 227h4.4M1129.5 228.5h4.4M1100.5 229.5h4.4M1172.5 229.5h4.4M1111 231h4.4M1157 231h4.4M1166 231h4.4M1164.5 232.5h4.4M1148 233.5h4.4M1175.5 233.5h4.4M1138.5 235.5h4.4M1151.5 236.5h4.4M1197.5 238.5h4.4M1134.5 240h4.4M1168.5 241.5h4.4M1200 242h4.4M1170.5 243h4.4M1187.5 244.5h4.4M1143.5 246h4.4M1152.5 246.5h4.4M1188 247h4.4M1124.5 247.5h4.4M1144 247.5h4.4M1167 247.5h4.4M1197.5 249.5h4.4M1132 250h4.4M1154.5 251h4.4M1177 251h4.4M1151 251.5h4.4M1148 253.5h4.4M1114 254.5h4.4M1177.5 255h4.4M1178.5 255h4.4M1187 255h4.4M1180 255.5h4.4M1148.5 256.5h4.4M1177 257.5h4.4M1140 258h4.4M1179 258h4.4M1156.5 258.5h4.4M1160.5 258.5h4.4M1173 258.5h4.4M1168 259h4.4M1149.5 259.5h4.4M1161.5 259.5h4.4M1150.5 260h4.4M1158.5 260h4.4M1175 260h4.4M1194 260h4.4M1040.5 261h4.4M1135 261h4.4M1032 261.5h4.4M1131.5 261.5h4.4M1159 261.5h4.4M1203 261.5h4.4M1206.5 261.5h4.4M1138.5 262h4.4M1175.5 262h4.4M1153.5 262.5h4.4M1154 263.5h4.4M1189.5 263.5h4.4M1139.5 264h4.4M1159.5 264h4.4M1110 264.5h4.4M1157 264.5h4.4M1176.5 265h4.4M1064.5 265.5h4.4M1149.5 265.5h4.4M1179.5 265.5h4.4M1131 266h4.4M1158 266h4.4M1159 266h4.4M1171 266h4.4M1182 266h4.4M1135.5 266.5h4.4M1162 266.5h4.4M1063 267h4.4M1164.5 267h4.4M1168.5 267h4.4M1164 268h4.4M1192.5 268h4.4M1158.5 268.5h4.4M1160 268.5h4.4M1172 268.5h4.4M1104.5 269h4.4M1163.5 269h4.4M1164 269h4.4M1169.5 269h4.4M1174 269h4.4M1149.5 269.5h4.4M1194 269.5h4.4M1158.5 270h4.4M1069 270.5h4.4M1151.5 270.5h4.4M1118.5 271h4.4M1189.5 271h4.4M1205.5 271h4.4M1165.5 271.5h4.4M1155 272h4.4M1160 272h4.4M1160.5 272h4.4M1213.5 272h4.4M1134 272.5h4.4M1142.5 272.5h4.4M1143.5 272.5h4.4M1176 272.5h4.4M1217 272.5h4.4M1140.5 273h4.4M1161 273h4.4M1163.5 273h4.4M1188.5 273h4.4M1140.5 273.5h4.4M1142 273.5h4.4M1150 273.5h4.4M1161.5 273.5h4.4M1167.5 273.5h4.4M1194 273.5h4.4M1135.5 274h4.4M1141 274h4.4M1132 274.5h4.4M1143 274.5h4.4M1146.5 274.5h4.4M1165 274.5h4.4M1182 274.5h4.4M1141 275h4.4M1155 275h4.4M1180.5 275h4.4M1122.5 275.5h4.4M1175 275.5h4.4M1179.5 275.5h4.4M1131.5 276h4.4M1150.5 276h4.4M1162 276h4.4M1162 276.5h4.4M1163.5 276.5h4.4M1166.5 276.5h4.4M1107 277h4.4M1123 277h4.4M1146.5 277h4.4M1155.5 277.5h4.4M1161 277.5h4.4M1172 277.5h4.4M1174 277.5h4.4M1180 277.5h4.4M1140 278h4.4M1148 278h4.4M1158.5 278h4.4M1163 278h4.4M1164.5 278h4.4M1168 278h4.4M1191 278h4.4M1057 278.5h4.4M1150.5 278.5h4.4M1159 278.5h4.4M1161.5 278.5h4.4M1137.5 279h4.4M1142 279h4.4M1149.5 279h4.4M1157.5 279h4.4M1162 279h4.4M1174 279h4.4M1065 279.5h4.4M1149.5 279.5h4.4M1152.5 279.5h4.4M1157.5 279.5h4.4M1167 279.5h4.4M1168 279.5h4.4M1028 280h4.4M1090 280h4.4M1167.5 280h4.4M1168 280h4.4M1187.5 280h4.4M1195 280.5h4.4M1197 280.5h4.4M1250 280.5h4.4M1055.5 281h4.4M1114 281h4.4M1121 281h4.4M1141 281h4.4M1156 281h4.4M1168 281h4.4M1173 281h4.4M1177 281h4.4M1109.5 281.5h4.4M1128 281.5h4.4M1164.5 281.5h4.4M1178 281.5h4.4M1178.5 281.5h4.4M1181 281.5h4.4M1186.5 281.5h4.4M1200 281.5h4.4M1146.5 282h4.4M1149 282h4.4M1174.5 282h4.4M1180 282h4.4M1181.5 282h4.4M1147 282.5h4.4M1149 282.5h4.4M1174 282.5h4.4M1102 283h4.4M1127.5 283h4.4M1135 283h4.4M1143.5 283h4.4M1148.5 283h4.4M1155.5 283h4.4M1174 283h4.4M1176.5 283h4.4M1179 283h4.4M1185 283h4.4M1059 283.5h4.4M1062.5 283.5h4.4M1129.5 283.5h4.4M1132 283.5h4.4M1158.5 283.5h4.4M1169.5 283.5h4.4M1171.5 283.5h4.4M1178 283.5h4.4M1180.5 283.5h4.4M1183 283.5h4.4M1186 283.5h4.4M1048 284h4.4M1154 284h4.4M1161.5 284h4.4M1167.5 284h4.4M1179 284h4.4M1185.5 284h4.4M1191 284h4.4M1192.5 284h4.4M1125 284.5h4.4M1164 284.5h4.4M1166 284.5h4.4M1177.5 284.5h4.4M1193 284.5h4.4M1112.5 285h4.4M1147 285h4.4M1149.5 285h4.4M1166 285h4.4M1195.5 285h4.4M1126.5 285.5h4.4M1153 285.5h4.4M1163 285.5h4.4M1122 286h4.4M1135 286h4.4M1151 286h4.4M1169 286h4.4M1143 286.5h4.4M1153 286.5h4.4M1155 286.5h4.4M1166 286.5h4.4M1171 286.5h4.4M1172.5 286.5h4.4M1156 287h4.4M1172.5 287h4.4M1180.5 287h4.4M1140 287.5h4.4M1149 287.5h4.4M1151.5 287.5h4.4M1163 287.5h4.4M1164.5 287.5h4.4M1171 287.5h4.4M1172.5 287.5h4.4M1175.5 287.5h4.4M1183.5 287.5h4.4M1188 287.5h4.4M1117 288h4.4M1131 288h4.4M1147 288h4.4M1156 288h4.4M1156.5 288h4.4M1164 288h4.4M1143 288.5h4.4M1146 288.5h4.4M1149 288.5h4.4M1155.5 288.5h4.4M1160.5 288.5h4.4M1163.5 288.5h4.4M1173 288.5h4.4M1185.5 288.5h4.4M1192.5 288.5h4.4M1047 289h4.4M1134.5 289h4.4M1154.5 289h4.4M1157.5 289h4.4M1161 289h4.4M1165 289h4.4M1170 289h4.4M1196 289h4.4M1133 289.5h4.4M1138.5 289.5h4.4M1150 289.5h4.4M1153.5 289.5h4.4M1159 289.5h4.4M1162 289.5h4.4M1162.5 289.5h4.4M1168 289.5h4.4M1173.5 289.5h4.4M1220.5 289.5h4.4M1142.5 290h4.4M1157 290h4.4M1159.5 290h4.4M1162.5 290h4.4M1169 290h4.4M1170.5 290h4.4M1181.5 290h4.4M1130 290.5h4.4M1146.5 290.5h4.4M1152.5 290.5h4.4M1153.5 290.5h4.4M1158 290.5h4.4M1169 290.5h4.4M1178 290.5h4.4M1190.5 290.5h4.4M1040.5 291h4.4M1139.5 291h4.4M1154.5 291h4.4M1163 291h4.4M1165 291h4.4M1185 291h4.4M1190 291h4.4M1137.5 291.5h4.4M1160.5 291.5h4.4M1167 291.5h4.4M1171 291.5h4.4M1173 291.5h4.4M1179.5 291.5h4.4M1131.5 292h4.4M1146 292h4.4M1156 292h4.4M1157 292h4.4M1163.5 292h4.4M1170 292h4.4M1170.5 292h4.4M1172 292h4.4M1197 292h4.4M1223 292h4.4M1261 292h4.4M1148 292.5h4.4M1152 292.5h4.4M1152.5 292.5h4.4M1154.5 292.5h4.4M1162 292.5h4.4M1162.5 292.5h4.4M1166.5 292.5h4.4M1189 292.5h4.4M1144.5 293h4.4M1147 293h4.4M1162 293h4.4M1164.5 293h4.4M1166.5 293h4.4M1169.5 293h4.4M1177 293h4.4M1140.5 293.5h4.4M1147.5 293.5h4.4M1152.5 293.5h4.4M1153 293.5h4.4M1160.5 293.5h4.4M1114 294h4.4M1139 294h4.4M1145 294h4.4M1148 294h4.4M1156 294h4.4M1162.5 294h4.4M1167 294h4.4M1126.5 294.5h4.4M1144 294.5h4.4M1150.5 294.5h4.4M1157.5 294.5h4.4M1169 294.5h4.4M1111.5 295h4.4M1144 295h4.4M1149 295h4.4M1158.5 295h4.4M1165.5 295h4.4M1167 295h4.4M1168.5 295h4.4M1174.5 295h4.4M1175 295h4.4M1183.5 295h4.4M1188.5 295h4.4M1189 295h4.4M1139.5 295.5h4.4M1163.5 295.5h4.4M1039 296h4.4M1135.5 296h4.4M1136 296h4.4M1139 296h4.4M1159 296h4.4M1159.5 296h4.4M1160 296h4.4M1161 296h4.4M1163.5 296h4.4M1183.5 296h4.4M1070.5 296.5h4.4M1143 296.5h4.4M1148.5 296.5h4.4M1156 296.5h4.4M1159 296.5h4.4M1163.5 296.5h4.4M1122.5 297h4.4M1129 297h4.4M1138.5 297h4.4M1153 297h4.4M1155 297h4.4M1155.5 297h4.4M1156.5 297h4.4M1160 297h4.4M1162.5 297h4.4M1165 297h4.4M1166.5 297h4.4M1172.5 297h4.4M1175.5 297h4.4M1145.5 297.5h4.4M1147.5 297.5h4.4M1148 297.5h4.4M1153 297.5h4.4M1162.5 297.5h4.4M1165.5 297.5h4.4M1173.5 297.5h4.4M1177.5 297.5h4.4M1185 297.5h4.4M1189 297.5h4.4M1040.5 298h4.4M1068 298h4.4M1111 298h4.4M1134.5 298h4.4M1146.5 298h4.4M1147 298h4.4M1154.5 298h4.4M1160 298h4.4M1166 298h4.4M1167.5 298h4.4M1168 298h4.4M1169 298h4.4M1174 298h4.4M1177.5 298h4.4M1179.5 298h4.4M1184 298h4.4M1131 298.5h4.4M1148 298.5h4.4M1152.5 298.5h4.4M1153 298.5h4.4M1160 298.5h4.4M1161 298.5h4.4M1181 298.5h4.4M1057.5 299h4.4M1112.5 299h4.4M1146 299h4.4M1152.5 299h4.4M1153 299h4.4M1155 299h4.4M1155.5 299h4.4M1159 299h4.4M1160.5 299h4.4M1165.5 299h4.4M1171 299h4.4M1181.5 299h4.4M1063 299.5h4.4M1130 299.5h4.4M1139 299.5h4.4M1145.5 299.5h4.4M1147 299.5h4.4M1149.5 299.5h4.4M1158 299.5h4.4M1159.5 299.5h4.4M1162.5 299.5h4.4M1169.5 299.5h4.4M1170.5 299.5h4.4M1173.5 299.5h4.4M1175.5 299.5h4.4M1184.5 299.5h4.4M1213.5 299.5h4.4M1126 300h4.4M1135 300h4.4M1136.5 300h4.4M1142.5 300h4.4M1150 300h4.4M1152.5 300h4.4M1153.5 300h4.4M1155.5 300h4.4M1156 300h4.4M1160 300h4.4M1163 300h4.4M1169 300h4.4M1175.5 300h4.4M1181 300h4.4M1185.5 300h4.4M1147.5 300.5h4.4M1151.5 300.5h4.4M1153.5 300.5h4.4M1160 300.5h4.4M1160.5 300.5h4.4M1161.5 300.5h4.4M1164.5 300.5h4.4M1165 300.5h4.4M1165.5 300.5h4.4M1166 300.5h4.4M1169.5 300.5h4.4M1171.5 300.5h4.4M1174 300.5h4.4M1177.5 300.5h4.4M1196.5 300.5h4.4M1223 300.5h4.4M1126.5 301h4.4M1141.5 301h4.4M1155.5 301h4.4M1156 301h4.4M1156.5 301h4.4M1160.5 301h4.4M1170.5 301h4.4M1174 301h4.4M1176 301h4.4M1095 301.5h4.4M1111 301.5h4.4M1143.5 301.5h4.4M1144 301.5h4.4M1145 301.5h4.4M1145.5 301.5h4.4M1149 301.5h4.4M1158.5 301.5h4.4M1168.5 301.5h4.4M1172 301.5h4.4M1174 301.5h4.4M1174.5 301.5h4.4M1175.5 301.5h4.4M1196.5 301.5h4.4M1122 302h4.4M1125 302h4.4M1125.5 302h4.4M1133.5 302h4.4M1143.5 302h4.4M1149.5 302h4.4M1154.5 302h4.4M1166.5 302h4.4M1167 302h4.4M1172.5 302h4.4M1182.5 302h4.4M1203.5 302h4.4M1137 302.5h4.4M1140 302.5h4.4M1141 302.5h4.4M1145 302.5h4.4M1146 302.5h4.4M1154.5 302.5h4.4M1156.5 302.5h4.4M1164.5 302.5h4.4M1165.5 302.5h4.4M1169.5 302.5h4.4M1177.5 302.5h4.4M1185 302.5h4.4M1188 302.5h4.4M1130.5 303h4.4M1133 303h4.4M1148 303h4.4M1150.5 303h4.4M1151.5 303h4.4M1152.5 303h4.4M1159.5 303h4.4M1172 303h4.4M1195 303h4.4M1101 303.5h4.4M1124 303.5h4.4M1137 303.5h4.4M1153 303.5h4.4M1153.5 303.5h4.4M1156.5 303.5h4.4M1161.5 303.5h4.4M1163.5 303.5h4.4M1165 303.5h4.4M1177 303.5h4.4M1209 303.5h4.4M1052 304h4.4M1118 304h4.4M1135 304h4.4M1151.5 304h4.4M1152.5 304h4.4M1160.5 304h4.4M1162.5 304h4.4M1170.5 304h4.4M1223 304h4.4M1131 304.5h4.4M1148 304.5h4.4M1151.5 304.5h4.4M1156 304.5h4.4M1157.5 304.5h4.4M1164.5 304.5h4.4M1168 304.5h4.4M1169.5 304.5h4.4M1170.5 304.5h4.4M1172.5 304.5h4.4M1173 304.5h4.4M1179 304.5h4.4M1063 305h4.4M1071.5 305h4.4M1107 305h4.4M1126 305h4.4M1139 305h4.4M1141 305h4.4M1145 305h4.4M1147 305h4.4M1151 305h4.4M1163 305h4.4M1163.5 305h4.4M1171.5 305h4.4M1177 305h4.4M1180 305h4.4M1186.5 305h4.4M1199 305h4.4M1213.5 305h4.4M1059 305.5h4.4M1124 305.5h4.4M1144.5 305.5h4.4M1145 305.5h4.4M1145.5 305.5h4.4M1157.5 305.5h4.4M1164.5 305.5h4.4M1169 305.5h4.4M1171.5 305.5h4.4M1174.5 305.5h4.4M1184.5 305.5h4.4M1058.5 306h4.4M1112 306h4.4M1130.5 306h4.4M1138 306h4.4M1141 306h4.4M1145.5 306h4.4M1147.5 306h4.4M1148 306h4.4M1149.5 306h4.4M1150 306h4.4M1150.5 306h4.4M1151.5 306h4.4M1159.5 306h4.4M1164.5 306h4.4M1170.5 306h4.4M1171.5 306h4.4M1172.5 306h4.4M1200.5 306h4.4M1115 306.5h4.4M1128.5 306.5h4.4M1141.5 306.5h4.4M1150 306.5h4.4M1162 306.5h4.4M1177.5 306.5h4.4M1179.5 306.5h4.4M1180 306.5h4.4M1198 306.5h4.4M1200 306.5h4.4M1107.5 307h4.4M1129.5 307h4.4M1149.5 307h4.4M1154.5 307h4.4M1158.5 307h4.4M1170.5 307h4.4M1175.5 307h4.4M1138.5 307.5h4.4M1142.5 307.5h4.4M1152.5 307.5h4.4M1156.5 307.5h4.4M1158 307.5h4.4M1170.5 307.5h4.4M1178 307.5h4.4M1180 307.5h4.4M1110 308h4.4M1121 308h4.4M1132.5 308h4.4M1134.5 308h4.4M1139 308h4.4M1144.5 308h4.4M1151 308h4.4M1153 308h4.4M1155.5 308h4.4M1156 308h4.4M1159 308h4.4M1161 308h4.4M1162 308h4.4M1164.5 308h4.4M1167.5 308h4.4M1168 308h4.4M1169 308h4.4M1169.5 308h4.4M1174 308h4.4M1176.5 308h4.4M1180.5 308h4.4M1182 308h4.4M1200 308h4.4M1069.5 308.5h4.4M1129 308.5h4.4M1143 308.5h4.4M1150.5 308.5h4.4M1169.5 308.5h4.4M1184.5 308.5h4.4M1103 309h4.4M1116 309h4.4M1148 309h4.4M1161.5 309h4.4M1164.5 309h4.4M1165.5 309h4.4M1168 309h4.4M1175 309h4.4M1185 309h4.4M1202.5 309h4.4M1112 309.5h4.4M1117.5 309.5h4.4M1139 309.5h4.4M1141 309.5h4.4M1142 309.5h4.4M1149 309.5h4.4M1151.5 309.5h4.4M1152 309.5h4.4M1153.5 309.5h4.4M1155 309.5h4.4M1158.5 309.5h4.4M1159.5 309.5h4.4M1164.5 309.5h4.4M1168 309.5h4.4M1169.5 309.5h4.4M1171 309.5h4.4M1175 309.5h4.4M1175.5 309.5h4.4M1211.5 309.5h4.4M1106 310h4.4M1131 310h4.4M1137 310h4.4M1145 310h4.4M1148.5 310h4.4M1152 310h4.4M1166.5 310h4.4M1174 310h4.4M1174.5 310h4.4M1177.5 310h4.4M1178 310h4.4M1181 310h4.4M1219 310h4.4M1071.5 310.5h4.4M1109.5 310.5h4.4M1127.5 310.5h4.4M1131 310.5h4.4M1135.5 310.5h4.4M1137.5 310.5h4.4M1142 310.5h4.4M1146 310.5h4.4M1147 310.5h4.4M1150.5 310.5h4.4M1153.5 310.5h4.4M1159 310.5h4.4M1164 310.5h4.4M1166.5 310.5h4.4M1167.5 310.5h4.4M1174.5 310.5h4.4M1112.5 311h4.4M1118.5 311h4.4M1133.5 311h4.4M1160.5 311h4.4M1165.5 311h4.4M1173.5 311h4.4M1186 311h4.4M1187 311h4.4M1136 311.5h4.4M1146.5 311.5h4.4M1149 311.5h4.4M1150 311.5h4.4M1154.5 311.5h4.4M1157 311.5h4.4M1159 311.5h4.4M1162.5 311.5h4.4M1163.5 311.5h4.4M1166.5 311.5h4.4M1169.5 311.5h4.4M1170.5 311.5h4.4M1173.5 311.5h4.4M1178.5 311.5h4.4M1214.5 311.5h4.4M1123 312h4.4M1126 312h4.4M1131.5 312h4.4M1137 312h4.4M1137.5 312h4.4M1139 312h4.4M1145 312h4.4M1145.5 312h4.4M1147 312h4.4M1171 312h4.4M1206 312h4.4M1107.5 312.5h4.4M1108.5 312.5h4.4M1112 312.5h4.4M1127 312.5h4.4M1141.5 312.5h4.4M1142 312.5h4.4M1142.5 312.5h4.4M1143 312.5h4.4M1150.5 312.5h4.4M1152.5 312.5h4.4M1153 312.5h4.4M1160.5 312.5h4.4M1165 312.5h4.4M1167 312.5h4.4M1168.5 312.5h4.4M1171.5 312.5h4.4M1174.5 312.5h4.4M1175.5 312.5h4.4M1190.5 312.5h4.4M1134 313h4.4M1147 313h4.4M1152 313h4.4M1153.5 313h4.4M1162.5 313h4.4M1163.5 313h4.4M1170.5 313h4.4M1175.5 313h4.4M1183 313h4.4M1130 313.5h4.4M1132 313.5h4.4M1136 313.5h4.4M1142.5 313.5h4.4M1159.5 313.5h4.4M1161.5 313.5h4.4M1173 313.5h4.4M1190 313.5h4.4M1197 313.5h4.4M1122 314h4.4M1131.5 314h4.4M1147.5 314h4.4M1153.5 314h4.4M1159 314h4.4M1159.5 314h4.4M1161.5 314h4.4M1165.5 314h4.4M1169.5 314h4.4M1174.5 314h4.4M1190 314h4.4M1139 314.5h4.4M1146 314.5h4.4M1149 314.5h4.4M1151.5 314.5h4.4M1165 314.5h4.4M1166.5 314.5h4.4M1168 314.5h4.4M1171 314.5h4.4M1181.5 314.5h4.4M1190.5 314.5h4.4M1201 314.5h4.4M1251.5 314.5h4.4M1120.5 315h4.4M1149.5 315h4.4M1153 315h4.4M1158.5 315h4.4M1159 315h4.4M1161 315h4.4M1169 315h4.4M1169.5 315h4.4M1171.5 315h4.4M1176.5 315h4.4M1182 315h4.4M1183.5 315h4.4M1127 315.5h4.4M1132.5 315.5h4.4M1139 315.5h4.4M1141.5 315.5h4.4M1142.5 315.5h4.4M1146.5 315.5h4.4M1148.5 315.5h4.4M1150.5 315.5h4.4M1156.5 315.5h4.4M1157.5 315.5h4.4M1159 315.5h4.4M1160 315.5h4.4M1162 315.5h4.4M1168.5 315.5h4.4M1173.5 315.5h4.4M1175 315.5h4.4M1183 315.5h4.4M1117.5 316h4.4M1129 316h4.4M1140.5 316h4.4M1161 316h4.4M1162 316h4.4M1165.5 316h4.4M1170.5 316h4.4M1172.5 316h4.4M1219 316h4.4M1116.5 316.5h4.4M1143.5 316.5h4.4M1145 316.5h4.4M1146 316.5h4.4M1148.5 316.5h4.4M1153.5 316.5h4.4M1157.5 316.5h4.4M1159 316.5h4.4M1169 316.5h4.4M1173 316.5h4.4M1177 316.5h4.4M1182.5 316.5h4.4M1192 316.5h4.4M1206.5 316.5h4.4M1110 317h4.4M1144.5 317h4.4M1146 317h4.4M1147.5 317h4.4M1148 317h4.4M1151 317h4.4M1157 317h4.4M1161 317h4.4M1164.5 317h4.4M1166 317h4.4M1167.5 317h4.4M1168 317h4.4M1169 317h4.4M1182.5 317h4.4M1197 317h4.4M1207.5 317h4.4M1062 317.5h4.4M1129.5 317.5h4.4M1139 317.5h4.4M1143 317.5h4.4M1149 317.5h4.4M1159 317.5h4.4M1185 317.5h4.4M1188 317.5h4.4M1191 317.5h4.4M1134.5 318h4.4M1137.5 318h4.4M1148 318h4.4M1149.5 318h4.4M1150 318h4.4M1158 318h4.4M1159.5 318h4.4M1168.5 318h4.4M1172.5 318h4.4M1174.5 318h4.4M1175.5 318h4.4M1195.5 318h4.4M1214.5 318h4.4M1143 318.5h4.4M1149 318.5h4.4M1151.5 318.5h4.4M1152 318.5h4.4M1154 318.5h4.4M1155 318.5h4.4M1159.5 318.5h4.4M1161.5 318.5h4.4M1163 318.5h4.4M1165 318.5h4.4M1173 318.5h4.4M1178.5 318.5h4.4M1183 318.5h4.4M1194 318.5h4.4M1253.5 318.5h4.4M1056 319h4.4M1094 319h4.4M1117.5 319h4.4M1134 319h4.4M1135.5 319h4.4M1138 319h4.4M1152.5 319h4.4M1154 319h4.4M1155.5 319h4.4M1162 319h4.4M1162.5 319h4.4M1209 319h4.4M1072.5 319.5h4.4M1098.5 319.5h4.4M1113.5 319.5h4.4M1132 319.5h4.4M1146.5 319.5h4.4M1167 319.5h4.4M1167.5 319.5h4.4M1176 319.5h4.4M1186 319.5h4.4M1190.5 319.5h4.4M1215 319.5h4.4M1093 320h4.4M1144 320h4.4M1144.5 320h4.4M1147.5 320h4.4M1156 320h4.4M1160 320h4.4M1160.5 320h4.4M1166.5 320h4.4M1167 320h4.4M1170 320h4.4M1171.5 320h4.4M1186 320h4.4M1098.5 320.5h4.4M1136.5 320.5h4.4M1144 320.5h4.4M1149.5 320.5h4.4M1150.5 320.5h4.4M1152 320.5h4.4M1155 320.5h4.4M1165.5 320.5h4.4M1170.5 320.5h4.4M1180 320.5h4.4M1140 321h4.4M1151 321h4.4M1151.5 321h4.4M1154.5 321h4.4M1165 321h4.4M1171.5 321h4.4M1172 321h4.4M1176.5 321h4.4M1044.5 321.5h4.4M1118.5 321.5h4.4M1140.5 321.5h4.4M1154 321.5h4.4M1156 321.5h4.4M1159 321.5h4.4M1160 321.5h4.4M1161.5 321.5h4.4M1168.5 321.5h4.4M1183 321.5h4.4M1185.5 321.5h4.4M1101 322h4.4M1120 322h4.4M1130.5 322h4.4M1133 322h4.4M1136 322h4.4M1144 322h4.4M1145 322h4.4M1145.5 322h4.4M1158 322h4.4M1161.5 322h4.4M1162.5 322h4.4M1165 322h4.4M1171.5 322h4.4M1173 322h4.4M1175 322h4.4M1200.5 322h4.4M1205.5 322h4.4M1096 322.5h4.4M1125.5 322.5h4.4M1140 322.5h4.4M1143 322.5h4.4M1148 322.5h4.4M1149 322.5h4.4M1150 322.5h4.4M1151 322.5h4.4M1159.5 322.5h4.4M1163 322.5h4.4M1164.5 322.5h4.4M1165 322.5h4.4M1179 322.5h4.4M1180.5 322.5h4.4M1215.5 322.5h4.4M1217 322.5h4.4M1104 323h4.4M1141.5 323h4.4M1153 323h4.4M1158 323h4.4M1166 323h4.4M1175.5 323h4.4M1181 323h4.4M1190.5 323h4.4M1208.5 323h4.4M1119 323.5h4.4M1123 323.5h4.4M1132 323.5h4.4M1132.5 323.5h4.4M1146 323.5h4.4M1148 323.5h4.4M1149.5 323.5h4.4M1163 323.5h4.4M1165.5 323.5h4.4M1166.5 323.5h4.4M1176 323.5h4.4M1187 323.5h4.4M1222 323.5h4.4M1097.5 324h4.4M1125.5 324h4.4M1130.5 324h4.4M1131.5 324h4.4M1135.5 324h4.4M1140 324h4.4M1159.5 324h4.4M1164 324h4.4M1165.5 324h4.4M1170 324h4.4M1189.5 324h4.4M1116.5 324.5h4.4M1153.5 324.5h4.4M1162 324.5h4.4M1177 324.5h4.4M1178.5 324.5h4.4M1125.5 325h4.4M1144.5 325h4.4M1145 325h4.4M1148.5 325h4.4M1151 325h4.4M1164.5 325h4.4M1173 325h4.4M1190 325h4.4M1195 325h4.4M1233 325h4.4" stroke="#111" stroke-width="2.3" fill="none"/>
<rect x="940.30" y="110.40" width="392.70" height="3.20" fill="#000"/>
<rect x="940.30" y="110.40" width="3.00" height="341.20" fill="#000"/>
<rect x="940.30" y="447.60" width="392.70" height="4.00" fill="#000"/>
<rect x="1329.60" y="110.40" width="3.40" height="341.20" fill="#000"/>
<rect x="940.30" y="328.60" width="392.70" height="3.00" fill="#000"/>
<rect x="1085.30" y="110.40" width="3.00" height="341.20" fill="#000"/>
<rect x="942.80" y="423.39" width="6.00" height="2.40" fill="#000"/>
<rect x="969.19" y="441.60" width="3.80" height="6.50" fill="#000"/>
<rect x="942.80" y="408.53" width="6.00" height="2.40" fill="#000"/>
<rect x="986.32" y="441.60" width="3.80" height="6.50" fill="#000"/>
<rect x="942.80" y="397.99" width="6.00" height="2.40" fill="#000"/>
<rect x="998.48" y="441.60" width="3.80" height="6.50" fill="#000"/>
<rect x="942.80" y="389.81" width="6.00" height="2.40" fill="#000"/>
<rect x="1007.91" y="441.60" width="3.80" height="6.50" fill="#000"/>
<rect x="942.80" y="383.12" width="6.00" height="2.40" fill="#000"/>
<rect x="1015.61" y="441.60" width="3.80" height="6.50" fill="#000"/>
<rect x="942.80" y="377.47" width="6.00" height="2.40" fill="#000"/>
<rect x="1022.13" y="441.60" width="3.80" height="6.50" fill="#000"/>
<rect x="942.80" y="372.58" width="6.00" height="2.40" fill="#000"/>
<rect x="1027.77" y="441.60" width="3.80" height="6.50" fill="#000"/>
<rect x="942.80" y="368.26" width="6.00" height="2.40" fill="#000"/>
<rect x="1032.75" y="441.60" width="3.80" height="6.50" fill="#000"/>
<rect x="942.80" y="364.40" width="10.50" height="2.40" fill="#000"/>
<rect x="1037.20" y="436.60" width="3.80" height="11.50" fill="#000"/>
<rect x="942.80" y="338.99" width="6.00" height="2.40" fill="#000"/>
<rect x="1066.49" y="441.60" width="3.80" height="6.50" fill="#000"/>
<rect x="942.80" y="324.13" width="6.00" height="2.40" fill="#000"/>
<rect x="1083.62" y="441.60" width="3.80" height="6.50" fill="#000"/>
<rect x="942.80" y="313.59" width="6.00" height="2.40" fill="#000"/>
<rect x="1095.78" y="441.60" width="3.80" height="6.50" fill="#000"/>
<rect x="942.80" y="305.41" width="6.00" height="2.40" fill="#000"/>
<rect x="1105.21" y="441.60" width="3.80" height="6.50" fill="#000"/>
<rect x="942.80" y="298.72" width="6.00" height="2.40" fill="#000"/>
<rect x="1112.91" y="441.60" width="3.80" height="6.50" fill="#000"/>
<rect x="942.80" y="293.07" width="6.00" height="2.40" fill="#000"/>
<rect x="1119.43" y="441.60" width="3.80" height="6.50" fill="#000"/>
<rect x="942.80" y="288.18" width="6.00" height="2.40" fill="#000"/>
<rect x="1125.07" y="441.60" width="3.80" height="6.50" fill="#000"/>
<rect x="942.80" y="283.86" width="6.00" height="2.40" fill="#000"/>
<rect x="1130.05" y="441.60" width="3.80" height="6.50" fill="#000"/>
<rect x="942.80" y="280.00" width="10.50" height="2.40" fill="#000"/>
<rect x="1134.50" y="436.60" width="3.80" height="11.50" fill="#000"/>
<rect x="942.80" y="254.59" width="6.00" height="2.40" fill="#000"/>
<rect x="1163.79" y="441.60" width="3.80" height="6.50" fill="#000"/>
<rect x="942.80" y="239.73" width="6.00" height="2.40" fill="#000"/>
<rect x="1180.92" y="441.60" width="3.80" height="6.50" fill="#000"/>
<rect x="942.80" y="229.19" width="6.00" height="2.40" fill="#000"/>
<rect x="1193.08" y="441.60" width="3.80" height="6.50" fill="#000"/>
<rect x="942.80" y="221.01" width="6.00" height="2.40" fill="#000"/>
<rect x="1202.51" y="441.60" width="3.80" height="6.50" fill="#000"/>
<rect x="942.80" y="214.32" width="6.00" height="2.40" fill="#000"/>
<rect x="1210.21" y="441.60" width="3.80" height="6.50" fill="#000"/>
<rect x="942.80" y="208.67" width="6.00" height="2.40" fill="#000"/>
<rect x="1216.73" y="441.60" width="3.80" height="6.50" fill="#000"/>
<rect x="942.80" y="203.78" width="6.00" height="2.40" fill="#000"/>
<rect x="1222.37" y="441.60" width="3.80" height="6.50" fill="#000"/>
<rect x="942.80" y="199.46" width="6.00" height="2.40" fill="#000"/>
<rect x="1227.35" y="441.60" width="3.80" height="6.50" fill="#000"/>
<rect x="942.80" y="195.60" width="10.50" height="2.40" fill="#000"/>
<rect x="1231.80" y="436.60" width="3.80" height="11.50" fill="#000"/>
<rect x="942.80" y="170.19" width="6.00" height="2.40" fill="#000"/>
<rect x="1261.09" y="441.60" width="3.80" height="6.50" fill="#000"/>
<rect x="942.80" y="155.33" width="6.00" height="2.40" fill="#000"/>
<rect x="1278.22" y="441.60" width="3.80" height="6.50" fill="#000"/>
<rect x="942.80" y="144.79" width="6.00" height="2.40" fill="#000"/>
<rect x="1290.38" y="441.60" width="3.80" height="6.50" fill="#000"/>
<rect x="942.80" y="136.61" width="6.00" height="2.40" fill="#000"/>
<rect x="1299.81" y="441.60" width="3.80" height="6.50" fill="#000"/>
<rect x="942.80" y="129.92" width="6.00" height="2.40" fill="#000"/>
<rect x="1307.51" y="441.60" width="3.80" height="6.50" fill="#000"/>
<rect x="942.80" y="124.27" width="6.00" height="2.40" fill="#000"/>
<rect x="1314.03" y="441.60" width="3.80" height="6.50" fill="#000"/>
<rect x="942.80" y="119.38" width="6.00" height="2.40" fill="#000"/>
<rect x="1319.67" y="441.60" width="3.80" height="6.50" fill="#000"/>
<rect x="1324.65" y="441.60" width="3.80" height="6.50" fill="#000"/>
<rect x="1082.70" y="109.60" width="242.90" height="220.50" fill="none" stroke="#000" stroke-width="8.4"/>
<path d="M1213.5 751h3M1178.5 767.5h3M1192 767.5h3M1137.5 772h3M1170 773h3M1194 774.5h3M1218.5 775.5h3M1145.5 777h3M1200.5 781.5h3M1182 786.5h3M1200 788h3M1191 794.5h3M1203.5 795.5h3M1159 798h3M1133 798.5h3M1137 799h3M1189.5 801.5h3M1194 803.5h3M1231.5 806h3M1185 811.5h3M1171 813.5h3M1207.5 814h3M1160.5 815h3M1191.5 815.5h3M1146 822h3M1115.5 822.5h3M1191.5 824.5h3M1163 825.5h3M1169.5 826h3M1177 827h3M1185 828h3M1159 828.5h3M1175 829h3M1162.5 829.5h3M1144 830h3M1122 831.5h3M1154.5 833.5h3M1175.5 834.5h3M1181 834.5h3M1184.5 837.5h3M1177.5 839.5h3M1163.5 841h3M1171 842h3M1188 842h3M1171 842.5h3M1169 845h3M1180 846h3M1155 848h3M1144.5 849h3M1171.5 849h3M1200.5 849h3M1201 849.5h3M1148 850h3M1193 850.5h3M1158 852h3M1163 852h3M1180.5 852h3M1201 852h3M1143.5 854h3M1168 856h3M1132 857h3M1174.5 857h3M1161.5 858.5h3M1166.5 858.5h3M1129 859h3M1186 859h3M1133.5 859.5h3M1146.5 859.5h3M1153.5 859.5h3M1169.5 860.5h3M1177 860.5h3M1187.5 860.5h3M1129.5 861h3M1182.5 861.5h3M1189 861.5h3M1196 861.5h3M1130.5 862h3M1155.5 862.5h3M1164.5 862.5h3M1185 862.5h3M1139.5 863h3M1173 863.5h3M1184.5 864h3M1178.5 864.5h3M1171 865h3M1168 866h3M1161 866.5h3M1162 866.5h3M1168.5 867h3M1172.5 867.5h3M1175 867.5h3M1135.5 868h3M1158.5 868h3M1184 868h3M1143 869.5h3M1150 869.5h3M1152.5 870h3M1167.5 870h3M1183 870h3M1197.5 870h3M1154 870.5h3M1166.5 870.5h3M1186.5 870.5h3M1119.5 871h3M1136 871h3M1149.5 871h3M1172 871h3M1167 871.5h3M1172 871.5h3M1182 871.5h3M1134.5 872h3M1138 872h3M1177 872h3M1142 872.5h3M1171 872.5h3M1149.5 873h3M1168 873h3M1170.5 873h3M1172.5 873.5h3M1180 873.5h3M1208 873.5h3M1149.5 874h3M1172 874h3M1132 874.5h3M1154 874.5h3M1155 874.5h3M1159 874.5h3M1170.5 874.5h3M1184 874.5h3M1188 874.5h3M1156 875.5h3M1167 875.5h3M1182.5 875.5h3M1143.5 876h3M1151.5 876h3M1160.5 876h3M1164 876h3M1181 876h3M1163.5 876.5h3M1172.5 876.5h3M1136.5 877h3M1155.5 877h3M1143 877.5h3M1160 877.5h3M1188 877.5h3M1197.5 877.5h3M1132.5 878h3M1168.5 878h3M1191 878h3M1149 878.5h3M1154.5 878.5h3M1187.5 878.5h3M1123.5 879h3M1151 879h3M1177 879h3M1121 879.5h3M1174 879.5h3M1182 879.5h3M1191 879.5h3M1141.5 880h3M1158.5 880h3M1166 880h3M1176 880h3M1093 880.5h3M1151 880.5h3M1168 880.5h3M1121.5 881h3M1143.5 881h3M1154.5 881h3M1163 881h3M1172.5 881h3M1153 881.5h3M1162 881.5h3M1162.5 881.5h3M1170 881.5h3M1170.5 881.5h3M1188.5 881.5h3M1118 882h3M1152.5 882h3M1176.5 882h3M1187.5 882h3M1192.5 882h3M1132.5 882.5h3M1135 882.5h3M1143 883.5h3M1163.5 883.5h3M1197.5 883.5h3M1135 884h3M1137.5 884h3M1159.5 884h3M1163.5 884h3M1177.5 884h3M1193 884h3M1139.5 884.5h3M1153.5 884.5h3M1165.5 884.5h3M1172 884.5h3M1177 884.5h3M1143.5 885h3M1146.5 885h3M1149 885h3M1155 885h3M1163.5 885h3M1170.5 885h3M1176.5 885h3M1186 885h3M1142 885.5h3M1180 885.5h3M1139 886h3M1163.5 886h3M1168 886h3M1184 886h3M1186 886h3M1189.5 886h3M1127.5 886.5h3M1132 886.5h3M1154.5 886.5h3M1169.5 886.5h3M1171.5 886.5h3M1197.5 886.5h3M1126 887h3M1155 887h3M1157 887h3M1187.5 887h3M1188 887h3M1189 887h3M1138 887.5h3M1152.5 887.5h3M1166 887.5h3M1169 887.5h3M1200.5 887.5h3M1162 888h3M1164.5 888h3M1170 888h3M1178.5 888h3M1197.5 888h3M1110.5 888.5h3M1161 888.5h3M1162.5 888.5h3M1178 888.5h3M1182.5 888.5h3M1183 888.5h3M1150 889h3M1155 889h3M1163 889h3M1164.5 889h3M1170.5 889h3M1173.5 889h3M1174.5 889h3M1177 889h3M1178 889h3M1181.5 889h3M1182.5 889h3M1142 889.5h3M1147 889.5h3M1167.5 889.5h3M1173 889.5h3M1121 890h3M1152 890h3M1159.5 890h3M1175.5 890h3M1120 890.5h3M1148.5 890.5h3M1166.5 890.5h3M1173.5 890.5h3M1176 890.5h3M1192.5 890.5h3M1144 891h3M1161 891h3M1162 891h3M1165 891h3M1172 891h3M1176 891h3M1177.5 891h3M1189.5 891h3M1140 891.5h3M1144 891.5h3M1161.5 891.5h3M1165.5 891.5h3M1169.5 891.5h3M1185.5 891.5h3M1194 891.5h3M1112.5 892h3M1133 892h3M1136 892h3M1140.5 892h3M1143 892h3M1157 892h3M1162.5 892h3M1169 892h3M1170.5 892h3M1174 892h3M1178.5 892h3M1180.5 892h3M1182 892h3M1193.5 892h3M1048 892.5h3M1132 892.5h3M1139.5 892.5h3M1163 892.5h3M1169.5 892.5h3M1183 892.5h3M1198 892.5h3M1210.5 892.5h3M1119.5 893h3M1134 893h3M1142.5 893h3M1150.5 893h3M1172.5 893h3M1179 893h3M1189.5 893h3M1138.5 893.5h3M1162.5 893.5h3M1171 893.5h3M1181 893.5h3M1183 893.5h3M1235 893.5h3M1141 894h3M1142.5 894h3M1145.5 894h3M1151.5 894h3M1153.5 894h3M1157 894h3M1169 894h3M1171 894h3M1179 894h3M1194.5 894h3M1199.5 894h3M1206 894h3M1132.5 894.5h3M1134.5 894.5h3M1138 894.5h3M1148.5 894.5h3M1164 894.5h3M1172 894.5h3M1175 894.5h3M1177.5 894.5h3M1178 894.5h3M1182.5 894.5h3M1190.5 894.5h3M1122 895h3M1163 895h3M1164 895h3M1172 895h3M1173.5 895h3M1182 895h3M1185 895h3M1139 895.5h3M1141.5 895.5h3M1148 895.5h3M1160.5 895.5h3M1161.5 895.5h3M1163 895.5h3M1168.5 895.5h3M1183 895.5h3M1195.5 895.5h3M1123 896h3M1138 896h3M1144 896h3M1148.5 896h3M1163.5 896h3M1165.5 896h3M1170.5 896h3M1172.5 896h3M1173 896h3M1175.5 896h3M1178.5 896h3M1183.5 896h3M1150.5 896.5h3M1156 896.5h3M1159 896.5h3M1160 896.5h3M1166.5 896.5h3M1170 896.5h3M1174 896.5h3M1192 896.5h3M1213.5 896.5h3M1148 897h3M1150.5 897h3M1155 897h3M1164.5 897h3M1167 897h3M1190 897h3M1191 897h3M1191.5 897h3M1129.5 897.5h3M1130 897.5h3M1139.5 897.5h3M1143 897.5h3M1145 897.5h3M1153.5 897.5h3M1156 897.5h3M1163 897.5h3M1167 897.5h3M1170 897.5h3M1171 897.5h3M1177.5 897.5h3M1182.5 897.5h3M1200.5 897.5h3M1134.5 898h3M1139.5 898h3M1150 898h3M1159.5 898h3M1160 898h3M1161.5 898h3M1165 898h3M1173 898h3M1178.5 898h3M1179.5 898h3M1095 898.5h3M1143 898.5h3M1147 898.5h3M1148 898.5h3M1158.5 898.5h3M1159.5 898.5h3M1160 898.5h3M1162.5 898.5h3M1163 898.5h3M1182 898.5h3M1135.5 899h3M1136 899h3M1145.5 899h3M1158.5 899h3M1163.5 899h3M1168.5 899h3M1171 899h3M1171.5 899h3M1172.5 899h3M1182 899h3M1191 899h3M1142 899.5h3M1147 899.5h3M1151 899.5h3M1156.5 899.5h3M1162 899.5h3M1167 899.5h3M1170 899.5h3M1175.5 899.5h3M1116.5 900h3M1124 900h3M1144.5 900h3M1149.5 900h3M1154 900h3M1154.5 900h3M1162.5 900h3M1169.5 900h3M1170 900h3M1170.5 900h3M1171 900h3M1176 900h3M1186.5 900h3M1189.5 900h3M1091.5 900.5h3M1128.5 900.5h3M1131.5 900.5h3M1152 900.5h3M1155.5 900.5h3M1161 900.5h3M1161.5 900.5h3M1162 900.5h3M1162.5 900.5h3M1167.5 900.5h3M1174 900.5h3M1201 900.5h3M1134.5 901h3M1144 901h3M1151 901h3M1151.5 901h3M1155.5 901h3M1156 901h3M1156.5 901h3M1166 901h3M1176 901h3M1184 901h3M1186.5 901h3M1132.5 901.5h3M1133.5 901.5h3M1138 901.5h3M1149 901.5h3M1151 901.5h3M1153 901.5h3M1154.5 901.5h3M1155 901.5h3M1156.5 901.5h3M1159.5 901.5h3M1163.5 901.5h3M1166 901.5h3M1175.5 901.5h3M1180.5 901.5h3M1182 901.5h3M1183.5 901.5h3M1185 901.5h3M1187.5 901.5h3M1202 901.5h3M1244.5 901.5h3M1136 902h3M1147 902h3M1151.5 902h3M1153 902h3M1154.5 902h3M1160.5 902h3M1183.5 902h3M1201 902h3M1216 902h3M1279.5 902h3M1039 902.5h3M1119 902.5h3M1138 902.5h3M1144 902.5h3M1145.5 902.5h3M1147 902.5h3M1150 902.5h3M1154 902.5h3M1161.5 902.5h3M1167.5 902.5h3M1170 902.5h3M1174.5 902.5h3M1184.5 902.5h3M1186.5 902.5h3M1096.5 903h3M1099.5 903h3M1131.5 903h3M1134 903h3M1153 903h3M1161 903h3M1165 903h3M1166.5 903h3M1169.5 903h3M1170 903h3M1180 903h3M1185.5 903h3M1186 903h3M1187 903h3M1139 903.5h3M1140.5 903.5h3M1156.5 903.5h3M1159 903.5h3M1159.5 903.5h3M1161 903.5h3M1172.5 903.5h3M1174 903.5h3M1183.5 903.5h3M1048 904h3M1135.5 904h3M1137.5 904h3M1141.5 904h3M1145 904h3M1156.5 904h3M1157 904h3M1159.5 904h3M1161.5 904h3M1164.5 904h3M1165 904h3M1165.5 904h3M1170.5 904h3M1173.5 904h3M1176 904h3M1176.5 904h3M1188 904h3M1191 904h3M1125 904.5h3M1143.5 904.5h3M1145.5 904.5h3M1146.5 904.5h3M1156 904.5h3M1157.5 904.5h3M1163 904.5h3M1164 904.5h3M1166 904.5h3M1176 904.5h3M1177.5 904.5h3M1183 904.5h3M1188.5 904.5h3M1199.5 904.5h3M1131 905h3M1145 905h3M1145.5 905h3M1148 905h3M1149 905h3M1150 905h3M1151.5 905h3M1161 905h3M1164 905h3M1166 905h3M1167 905h3M1169 905h3M1174 905h3M1201.5 905h3M1106.5 905.5h3M1121.5 905.5h3M1140 905.5h3M1144.5 905.5h3M1145.5 905.5h3M1147 905.5h3M1151 905.5h3M1151.5 905.5h3M1152.5 905.5h3M1154.5 905.5h3M1159 905.5h3M1160.5 905.5h3M1165 905.5h3M1171 905.5h3M1172 905.5h3M1179.5 905.5h3M1191 905.5h3M1204 905.5h3M1219.5 905.5h3M1128 906h3M1132.5 906h3M1138 906h3M1156.5 906h3M1157.5 906h3M1158 906h3M1160 906h3M1168 906h3M1175.5 906h3M1177.5 906h3M1184 906h3M1149.5 906.5h3M1157.5 906.5h3M1159.5 906.5h3M1161.5 906.5h3M1162.5 906.5h3M1168.5 906.5h3M1149.5 907h3M1154.5 907h3M1157 907h3M1164 907h3M1165 907h3M1166.5 907h3M1167 907h3M1169.5 907h3M1171 907h3M1177.5 907h3M1193 907h3M1197.5 907h3M1134 907.5h3M1137.5 907.5h3M1138 907.5h3M1141.5 907.5h3M1142.5 907.5h3M1145.5 907.5h3M1148.5 907.5h3M1151 907.5h3M1152.5 907.5h3M1154.5 907.5h3M1159 907.5h3M1163 907.5h3M1163.5 907.5h3M1164 907.5h3M1166.5 907.5h3M1168.5 907.5h3M1184.5 907.5h3M1185.5 907.5h3M1096 908h3M1121.5 908h3M1124 908h3M1137.5 908h3M1144.5 908h3M1151 908h3M1154 908h3M1158.5 908h3M1164.5 908h3M1165 908h3M1168.5 908h3M1171 908h3M1181.5 908h3M1182.5 908h3M1183 908h3M1187.5 908h3M1130.5 908.5h3M1133.5 908.5h3M1141 908.5h3M1144.5 908.5h3M1151 908.5h3M1155 908.5h3M1155.5 908.5h3M1158 908.5h3M1159 908.5h3M1161 908.5h3M1165 908.5h3M1172.5 908.5h3M1174 908.5h3M1176.5 908.5h3M1193.5 908.5h3M1194.5 908.5h3M1231.5 908.5h3M1135.5 909h3M1137 909h3M1145.5 909h3M1147.5 909h3M1148.5 909h3M1149 909h3M1154 909h3M1154.5 909h3M1159.5 909h3M1162.5 909h3M1163 909h3M1166 909h3M1174 909h3M1174.5 909h3M1182 909h3M1184 909h3M1196 909h3M1131 909.5h3M1140 909.5h3M1140.5 909.5h3M1152.5 909.5h3M1157.5 909.5h3M1159 909.5h3M1162 909.5h3M1171.5 909.5h3M1172 909.5h3M1176.5 909.5h3M1186.5 909.5h3M1187 909.5h3M1187.5 909.5h3M1133 910h3M1145 910h3M1155.5 910h3M1156 910h3M1158.5 910h3M1161.5 910h3M1164 910h3M1176 910h3M1180 910h3M1183.5 910h3M1202.5 910h3M1122 910.5h3M1134 910.5h3M1136 910.5h3M1136.5 910.5h3M1139.5 910.5h3M1145.5 910.5h3M1146 910.5h3M1148.5 910.5h3M1153.5 910.5h3M1156.5 910.5h3M1159.5 910.5h3M1160.5 910.5h3M1163.5 910.5h3M1165 910.5h3M1166.5 910.5h3M1170.5 910.5h3M1173 910.5h3M1173.5 910.5h3M1177.5 910.5h3M1198.5 910.5h3M1205 910.5h3M1127 911h3M1127.5 911h3M1141 911h3M1142 911h3M1146 911h3M1148.5 911h3M1153 911h3M1157.5 911h3M1158 911h3M1159 911h3M1159.5 911h3M1160 911h3M1164 911h3M1166.5 911h3M1167 911h3M1170.5 911h3M1175 911h3M1176.5 911h3M1183.5 911h3M1185.5 911h3M1204 911h3M1135 911.5h3M1143.5 911.5h3M1144.5 911.5h3M1146 911.5h3M1156 911.5h3M1160 911.5h3M1160.5 911.5h3M1163 911.5h3M1173.5 911.5h3M1185.5 911.5h3M1096.5 912h3M1106 912h3M1145 912h3M1147 912h3M1152.5 912h3M1154.5 912h3M1158 912h3M1158.5 912h3M1159 912h3M1161 912h3M1162 912h3M1164.5 912h3M1165 912h3M1167 912h3M1174.5 912h3M1182 912h3M1187.5 912h3M1201.5 912h3M1128.5 912.5h3M1129 912.5h3M1133.5 912.5h3M1136.5 912.5h3M1138.5 912.5h3M1144 912.5h3M1146.5 912.5h3M1147.5 912.5h3M1148 912.5h3M1150 912.5h3M1155 912.5h3M1156 912.5h3M1156.5 912.5h3M1166.5 912.5h3M1169.5 912.5h3M1175 912.5h3M1178 912.5h3M1179 912.5h3M1179.5 912.5h3M1186.5 912.5h3M1194 912.5h3M1215 912.5h3M1118.5 913h3M1139.5 913h3M1141.5 913h3M1146.5 913h3M1147 913h3M1149.5 913h3M1155.5 913h3M1156.5 913h3M1158.5 913h3M1165.5 913h3M1166.5 913h3M1168 913h3M1181.5 913h3M1206 913h3M1121.5 913.5h3M1137.5 913.5h3M1143.5 913.5h3M1148.5 913.5h3M1155 913.5h3M1161 913.5h3M1168 913.5h3M1174 913.5h3M1183 913.5h3M1192 913.5h3M1200.5 913.5h3M1221 913.5h3M1118 914h3M1128 914h3M1129.5 914h3M1132.5 914h3M1135.5 914h3M1141 914h3M1146 914h3M1146.5 914h3M1147.5 914h3M1149.5 914h3M1151.5 914h3M1154.5 914h3M1156 914h3M1157 914h3M1163 914h3M1164.5 914h3M1167 914h3M1169 914h3M1171 914h3M1176 914h3M1177 914h3M1178.5 914h3M1180 914h3M1181.5 914h3M1182.5 914h3M1186.5 914h3M1232 914h3M1122 914.5h3M1126.5 914.5h3M1130.5 914.5h3M1133 914.5h3M1135 914.5h3M1138 914.5h3M1139 914.5h3M1141.5 914.5h3M1143 914.5h3M1150 914.5h3M1153 914.5h3M1159 914.5h3M1162.5 914.5h3M1163 914.5h3M1163.5 914.5h3M1166.5 914.5h3M1167 914.5h3M1167.5 914.5h3M1171 914.5h3M1171.5 914.5h3M1173.5 914.5h3M1187.5 914.5h3M1195 914.5h3M1136 915h3M1145.5 915h3M1147 915h3M1147.5 915h3M1148 915h3M1154.5 915h3M1155.5 915h3M1160.5 915h3M1164.5 915h3M1165.5 915h3M1166.5 915h3M1170.5 915h3M1174.5 915h3M1175 915h3M1178.5 915h3M1200.5 915h3M1203.5 915h3M1127.5 915.5h3M1135 915.5h3M1139.5 915.5h3M1143 915.5h3M1147.5 915.5h3M1148.5 915.5h3M1153.5 915.5h3M1154.5 915.5h3M1156.5 915.5h3M1159.5 915.5h3M1161 915.5h3M1162 915.5h3M1169 915.5h3M1170 915.5h3M1170.5 915.5h3M1177 915.5h3M1179 915.5h3M1187 915.5h3M1116 916h3M1125 916h3M1127.5 916h3M1134 916h3M1136.5 916h3M1142 916h3M1144 916h3M1148 916h3M1149 916h3M1151 916h3M1154 916h3M1154.5 916h3M1160 916h3M1163.5 916h3M1165 916h3M1169 916h3M1169.5 916h3M1176 916h3M1178 916h3M1190.5 916h3M1229 916h3M1121 916.5h3M1123 916.5h3M1136.5 916.5h3M1141 916.5h3M1143 916.5h3M1145.5 916.5h3M1148.5 916.5h3M1152 916.5h3M1153 916.5h3M1153.5 916.5h3M1155.5 916.5h3M1156.5 916.5h3M1157.5 916.5h3M1159.5 916.5h3M1166.5 916.5h3M1172 916.5h3M1172.5 916.5h3M1184.5 916.5h3M1185.5 916.5h3M1188.5 916.5h3M1190.5 916.5h3M1197.5 916.5h3M1200.5 916.5h3M1125 917h3M1126 917h3M1130.5 917h3M1137.5 917h3M1141.5 917h3M1142 917h3M1144.5 917h3M1147 917h3M1150.5 917h3M1151.5 917h3M1152 917h3M1157.5 917h3M1158 917h3M1166 917h3M1168 917h3M1169.5 917h3M1172 917h3M1185.5 917h3M1188.5 917h3M1124 917.5h3M1135.5 917.5h3M1141.5 917.5h3M1147.5 917.5h3M1156 917.5h3M1161.5 917.5h3M1163.5 917.5h3M1177.5 917.5h3M1179.5 917.5h3M1182 917.5h3M1184.5 917.5h3M1191 917.5h3M1100 918h3M1115.5 918h3M1128.5 918h3M1138 918h3M1141.5 918h3M1146.5 918h3M1148.5 918h3M1153 918h3M1157.5 918h3M1159 918h3M1166.5 918h3M1170 918h3M1170.5 918h3M1171 918h3M1179.5 918h3M1187 918h3M1197.5 918h3M1204.5 918h3M1120.5 918.5h3M1132 918.5h3M1133 918.5h3M1139 918.5h3M1140 918.5h3M1140.5 918.5h3M1147.5 918.5h3M1148 918.5h3M1157 918.5h3M1157.5 918.5h3M1158 918.5h3M1159.5 918.5h3M1166 918.5h3M1178 918.5h3M1183.5 918.5h3M1210 918.5h3M1117.5 919h3M1126 919h3M1133 919h3M1137.5 919h3M1142 919h3M1147 919h3M1153 919h3M1153.5 919h3M1154 919h3M1156 919h3M1157.5 919h3M1174.5 919h3M1177 919h3M1177.5 919h3M1179.5 919h3M1184 919h3M1100 919.5h3M1112 919.5h3M1119 919.5h3M1120 919.5h3M1135 919.5h3M1143.5 919.5h3M1147.5 919.5h3M1148 919.5h3M1157 919.5h3M1159.5 919.5h3M1160 919.5h3M1161 919.5h3M1162.5 919.5h3M1164 919.5h3M1165 919.5h3M1172 919.5h3M1174 919.5h3M1180 919.5h3M1185 919.5h3M1194.5 919.5h3M1206.5 919.5h3M1109.5 920h3M1131 920h3M1143.5 920h3M1144.5 920h3M1147.5 920h3M1151 920h3M1152.5 920h3M1155 920h3M1160 920h3M1161 920h3M1165.5 920h3M1166.5 920h3M1167 920h3M1168.5 920h3M1177.5 920h3M1179.5 920h3M1187 920h3M1187.5 920h3M1219 920h3M1123 920.5h3M1126.5 920.5h3M1139.5 920.5h3M1150 920.5h3M1154.5 920.5h3M1163 920.5h3M1165 920.5h3M1166.5 920.5h3M1167.5 920.5h3M1168 920.5h3M1169.5 920.5h3M1175 920.5h3M1176 920.5h3M1176.5 920.5h3M1181 920.5h3M1183.5 920.5h3M1244 920.5h3M1134.5 921h3M1151.5 921h3M1152 921h3M1154.5 921h3M1155.5 921h3M1156.5 921h3M1162.5 921h3M1165.5 921h3M1175 921h3M1176.5 921h3M1185.5 921h3M1188.5 921h3M1120.5 921.5h3M1121 921.5h3M1123 921.5h3M1128 921.5h3M1137 921.5h3M1139 921.5h3M1146.5 921.5h3M1147 921.5h3M1150.5 921.5h3M1151.5 921.5h3M1155 921.5h3M1161.5 921.5h3M1164 921.5h3M1165 921.5h3M1166 921.5h3M1167.5 921.5h3M1168 921.5h3M1172 921.5h3M1179 921.5h3M1188 921.5h3M1189.5 921.5h3M1197.5 921.5h3M1203.5 921.5h3M1218 921.5h3M1223 921.5h3M1097 922h3M1102 922h3M1123.5 922h3M1133 922h3M1135 922h3M1138.5 922h3M1143 922h3M1143.5 922h3M1144.5 922h3M1151 922h3M1155.5 922h3M1160 922h3M1163.5 922h3M1164.5 922h3M1166.5 922h3M1169.5 922h3M1174.5 922h3M1175 922h3M1177.5 922h3M1193.5 922h3M1275 922h3M1135 922.5h3M1136 922.5h3M1139 922.5h3M1141.5 922.5h3M1146.5 922.5h3M1154.5 922.5h3M1155 922.5h3M1158 922.5h3M1158.5 922.5h3M1162.5 922.5h3M1111.5 923h3M1136.5 923h3M1145.5 923h3M1146 923h3M1149 923h3M1150.5 923h3M1151.5 923h3M1153 923h3M1154 923h3M1155 923h3M1156 923h3M1157.5 923h3M1161 923h3M1165.5 923h3M1173 923h3M1175.5 923h3M1178.5 923h3M1121.5 923.5h3M1137 923.5h3M1139 923.5h3M1139.5 923.5h3M1141 923.5h3M1142 923.5h3M1144.5 923.5h3M1145.5 923.5h3M1146 923.5h3M1147 923.5h3M1149.5 923.5h3M1150.5 923.5h3M1153 923.5h3M1154 923.5h3M1160 923.5h3M1161.5 923.5h3M1163 923.5h3M1164 923.5h3M1167.5 923.5h3M1172 923.5h3M1177 923.5h3M1177.5 923.5h3M1102 924h3M1122 924h3M1124.5 924h3M1125.5 924h3M1129 924h3M1129.5 924h3M1136 924h3M1136.5 924h3M1145 924h3M1145.5 924h3M1149 924h3M1151.5 924h3M1153 924h3M1154 924h3M1158.5 924h3M1161.5 924h3M1162 924h3M1162.5 924h3M1168 924h3M1173 924h3M1178.5 924h3M1194 924h3M1196 924h3M1212.5 924h3M1213.5 924h3M1123 924.5h3M1127.5 924.5h3M1129 924.5h3M1131 924.5h3M1131.5 924.5h3M1133 924.5h3M1145 924.5h3M1146.5 924.5h3M1147.5 924.5h3M1148 924.5h3M1150.5 924.5h3M1153 924.5h3M1154.5 924.5h3M1162 924.5h3M1169.5 924.5h3M1172.5 924.5h3M1173.5 924.5h3M1180.5 924.5h3M1218 924.5h3M1125 925h3M1132.5 925h3M1141 925h3M1145.5 925h3M1147.5 925h3M1148 925h3M1149.5 925h3M1151.5 925h3M1155 925h3M1156.5 925h3M1159 925h3M1161 925h3M1162.5 925h3M1163 925h3M1166.5 925h3M1168.5 925h3M1170.5 925h3M1177.5 925h3M1190.5 925h3M1229.5 925h3M1249.5 925h3M1123.5 925.5h3M1126.5 925.5h3M1138 925.5h3M1138.5 925.5h3M1143.5 925.5h3M1147.5 925.5h3M1149 925.5h3M1150 925.5h3M1152 925.5h3M1159 925.5h3M1162 925.5h3M1163 925.5h3M1165.5 925.5h3M1167 925.5h3M1171 925.5h3M1171.5 925.5h3M1179.5 925.5h3M1181.5 925.5h3M1184.5 925.5h3M1185.5 925.5h3M1213 925.5h3M1217 925.5h3M1118 926h3M1125.5 926h3M1133.5 926h3M1135 926h3M1137 926h3M1142 926h3M1142.5 926h3M1143.5 926h3M1144.5 926h3M1145.5 926h3M1146.5 926h3M1147.5 926h3M1149 926h3M1149.5 926h3M1155 926h3M1155.5 926h3M1156.5 926h3M1157.5 926h3M1160 926h3M1163.5 926h3M1171 926h3M1172.5 926h3M1173 926h3M1175 926h3M1202.5 926h3M1205.5 926h3M1119.5 926.5h3M1127 926.5h3M1129.5 926.5h3M1141.5 926.5h3M1142 926.5h3M1143.5 926.5h3M1145 926.5h3M1148.5 926.5h3M1153 926.5h3M1154 926.5h3M1155.5 926.5h3M1157 926.5h3M1158 926.5h3M1158.5 926.5h3M1161 926.5h3M1162.5 926.5h3M1164 926.5h3M1171 926.5h3M1173.5 926.5h3M1178.5 926.5h3M1182 926.5h3M1188 926.5h3M1189 926.5h3M1190.5 926.5h3M1115.5 927h3M1118 927h3M1120.5 927h3M1127 927h3M1133 927h3M1138 927h3M1139.5 927h3M1146 927h3M1147.5 927h3M1150.5 927h3M1151 927h3M1152 927h3M1153.5 927h3M1154 927h3M1156 927h3M1156.5 927h3M1157 927h3M1157.5 927h3M1160.5 927h3M1164 927h3M1165.5 927h3M1177.5 927h3M1183.5 927h3M1185.5 927h3M1213 927h3M1220 927h3M1296 927h3M1111.5 927.5h3M1123.5 927.5h3M1128 927.5h3M1135 927.5h3M1139 927.5h3M1142 927.5h3M1143 927.5h3M1143.5 927.5h3M1146.5 927.5h3M1150 927.5h3M1151.5 927.5h3M1152 927.5h3M1152.5 927.5h3M1154.5 927.5h3M1163 927.5h3M1165 927.5h3M1169 927.5h3M1176.5 927.5h3M1177.5 927.5h3M1179.5 927.5h3M1202.5 927.5h3M1095 928h3M1097.5 928h3M1131.5 928h3M1135.5 928h3M1140 928h3M1141.5 928h3M1149 928h3M1153 928h3M1153.5 928h3M1154.5 928h3M1155 928h3M1157.5 928h3M1158 928h3M1159 928h3M1161.5 928h3M1165 928h3M1120.5 928.5h3M1126 928.5h3M1133.5 928.5h3M1144 928.5h3M1148 928.5h3M1150.5 928.5h3M1152.5 928.5h3M1154 928.5h3M1155.5 928.5h3M1159.5 928.5h3M1163.5 928.5h3M1167.5 928.5h3M1176 928.5h3M1178.5 928.5h3M1124.5 929h3M1127.5 929h3M1143 929h3M1147.5 929h3M1148 929h3M1148.5 929h3M1150.5 929h3M1157 929h3M1159.5 929h3M1161 929h3M1164 929h3M1168 929h3M1169.5 929h3M1173.5 929h3M1176.5 929h3M1177.5 929h3M1104 929.5h3M1125.5 929.5h3M1127.5 929.5h3M1131.5 929.5h3M1134 929.5h3M1135 929.5h3M1135.5 929.5h3M1146.5 929.5h3M1147 929.5h3M1147.5 929.5h3M1149.5 929.5h3M1163.5 929.5h3M1164 929.5h3M1166 929.5h3M1168 929.5h3M1171 929.5h3M1171.5 929.5h3M1174 929.5h3M1177.5 929.5h3M1223 929.5h3M1242.5 929.5h3M1097.5 930h3M1128 930h3M1136 930h3M1139.5 930h3M1141 930h3M1141.5 930h3M1143 930h3M1144.5 930h3M1148.5 930h3M1151.5 930h3M1152.5 930h3M1154 930h3M1154.5 930h3M1155.5 930h3M1158.5 930h3M1161.5 930h3M1164.5 930h3M1166.5 930h3M1173.5 930h3M1188 930h3M1191 930h3M1223.5 930h3M1111.5 930.5h3M1114 930.5h3M1133 930.5h3M1133.5 930.5h3M1135 930.5h3M1136.5 930.5h3M1139 930.5h3M1147 930.5h3M1156 930.5h3M1158 930.5h3M1159 930.5h3M1161 930.5h3M1164 930.5h3M1165 930.5h3M1174.5 930.5h3M1176 930.5h3M1189 930.5h3M1192 930.5h3M1192.5 930.5h3M1108.5 931h3M1134 931h3M1137.5 931h3M1139.5 931h3M1147 931h3M1149 931h3M1151 931h3M1154 931h3M1155.5 931h3M1156 931h3M1158 931h3M1167.5 931h3M1169 931h3M1172 931h3M1173 931h3M1177.5 931h3M1183 931h3M1195.5 931h3M1212.5 931h3M1259.5 931h3M1123.5 931.5h3M1124 931.5h3M1138 931.5h3M1145 931.5h3M1149 931.5h3M1150 931.5h3M1160 931.5h3M1170 931.5h3M1176 931.5h3M1179 931.5h3M1180.5 931.5h3M1182.5 931.5h3M1191.5 931.5h3M1246.5 931.5h3M1120 932h3M1131.5 932h3M1132.5 932h3M1134 932h3M1137 932h3M1138 932h3M1140.5 932h3M1141.5 932h3M1146 932h3M1148.5 932h3M1149 932h3M1151.5 932h3M1153.5 932h3M1155 932h3M1159 932h3M1159.5 932h3M1160.5 932h3M1161 932h3M1163 932h3M1167.5 932h3M1180 932h3M1135 932.5h3M1143.5 932.5h3M1145 932.5h3M1146.5 932.5h3M1149 932.5h3M1149.5 932.5h3M1150 932.5h3M1156 932.5h3M1157.5 932.5h3M1161.5 932.5h3M1179 932.5h3M1188 932.5h3M1240 932.5h3M1123 933h3M1128 933h3M1129.5 933h3M1136 933h3M1139 933h3M1140.5 933h3M1143 933h3M1147.5 933h3M1149 933h3M1152 933h3M1153 933h3M1157 933h3M1159 933h3M1166 933h3M1169.5 933h3M1172 933h3M1174.5 933h3M1189 933h3M1133 933.5h3M1140 933.5h3M1141 933.5h3M1145 933.5h3M1147 933.5h3M1149.5 933.5h3M1151.5 933.5h3M1156 933.5h3M1159 933.5h3M1162 933.5h3M1167 933.5h3M1167.5 933.5h3M1170.5 933.5h3M1173 933.5h3M1176 933.5h3M1184.5 933.5h3M1190.5 933.5h3M1211.5 933.5h3M1217.5 933.5h3M1117 934h3M1125 934h3M1135 934h3M1142 934h3M1148 934h3M1151 934h3M1151.5 934h3M1156.5 934h3M1157 934h3M1161.5 934h3M1162.5 934h3M1163.5 934h3M1168 934h3M1119 934.5h3M1133 934.5h3M1137.5 934.5h3M1140 934.5h3M1140.5 934.5h3M1145.5 934.5h3M1148 934.5h3M1148.5 934.5h3M1149 934.5h3M1149.5 934.5h3M1153 934.5h3M1156 934.5h3M1158 934.5h3M1166 934.5h3M1170.5 934.5h3M1179.5 934.5h3M1265.5 934.5h3M1121 935h3M1127.5 935h3M1133 935h3M1140 935h3M1162.5 935h3M1166.5 935h3M1173 935h3M1176 935h3M1181.5 935h3M1187 935h3M1210 935h3M1221.5 935h3M1123 935.5h3M1130.5 935.5h3M1133.5 935.5h3M1138 935.5h3M1139 935.5h3M1141 935.5h3M1149.5 935.5h3M1155.5 935.5h3M1157.5 935.5h3M1161.5 935.5h3M1166 935.5h3M1183 935.5h3" stroke="#000" stroke-width="3" fill="none"/>
<rect x="940.30" y="722.50" width="392.70" height="3.20" fill="#000"/>
<rect x="940.30" y="722.50" width="3.00" height="343.10" fill="#000"/>
<rect x="940.30" y="1061.60" width="392.70" height="4.00" fill="#000"/>
<rect x="1331.00" y="722.50" width="2.00" height="343.10" fill="#000"/>
<rect x="940.30" y="941.00" width="392.70" height="3.00" fill="#000"/>
<rect x="1085.30" y="722.50" width="3.00" height="343.10" fill="#000"/>
<rect x="942.80" y="1035.89" width="6.00" height="2.40" fill="#000"/>
<rect x="969.19" y="1055.60" width="3.80" height="6.50" fill="#000"/>
<rect x="942.80" y="1021.03" width="6.00" height="2.40" fill="#000"/>
<rect x="986.32" y="1055.60" width="3.80" height="6.50" fill="#000"/>
<rect x="942.80" y="1010.49" width="6.00" height="2.40" fill="#000"/>
<rect x="998.48" y="1055.60" width="3.80" height="6.50" fill="#000"/>
<rect x="942.80" y="1002.31" width="6.00" height="2.40" fill="#000"/>
<rect x="1007.91" y="1055.60" width="3.80" height="6.50" fill="#000"/>
<rect x="942.80" y="995.62" width="6.00" height="2.40" fill="#000"/>
<rect x="1015.61" y="1055.60" width="3.80" height="6.50" fill="#000"/>
<rect x="942.80" y="989.97" width="6.00" height="2.40" fill="#000"/>
<rect x="1022.13" y="1055.60" width="3.80" height="6.50" fill="#000"/>
<rect x="942.80" y="985.08" width="6.00" height="2.40" fill="#000"/>
<rect x="1027.77" y="1055.60" width="3.80" height="6.50" fill="#000"/>
<rect x="942.80" y="980.76" width="6.00" height="2.40" fill="#000"/>
<rect x="1032.75" y="1055.60" width="3.80" height="6.50" fill="#000"/>
<rect x="942.80" y="976.90" width="10.50" height="2.40" fill="#000"/>
<rect x="1037.20" y="1050.60" width="3.80" height="11.50" fill="#000"/>
<rect x="942.80" y="951.49" width="6.00" height="2.40" fill="#000"/>
<rect x="1066.49" y="1055.60" width="3.80" height="6.50" fill="#000"/>
<rect x="942.80" y="936.63" width="6.00" height="2.40" fill="#000"/>
<rect x="1083.62" y="1055.60" width="3.80" height="6.50" fill="#000"/>
<rect x="942.80" y="926.09" width="6.00" height="2.40" fill="#000"/>
<rect x="1095.78" y="1055.60" width="3.80" height="6.50" fill="#000"/>
<rect x="942.80" y="917.91" width="6.00" height="2.40" fill="#000"/>
<rect x="1105.21" y="1055.60" width="3.80" height="6.50" fill="#000"/>
<rect x="942.80" y="911.22" width="6.00" height="2.40" fill="#000"/>
<rect x="1112.91" y="1055.60" width="3.80" height="6.50" fill="#000"/>
<rect x="942.80" y="905.57" width="6.00" height="2.40" fill="#000"/>
<rect x="1119.43" y="1055.60" width="3.80" height="6.50" fill="#000"/>
<rect x="942.80" y="900.68" width="6.00" height="2.40" fill="#000"/>
<rect x="1125.07" y="1055.60" width="3.80" height="6.50" fill="#000"/>
<rect x="942.80" y="896.36" width="6.00" height="2.40" fill="#000"/>
<rect x="1130.05" y="1055.60" width="3.80" height="6.50" fill="#000"/>
<rect x="942.80" y="892.50" width="10.50" height="2.40" fill="#000"/>
<rect x="1134.50" y="1050.60" width="3.80" height="11.50" fill="#000"/>
<rect x="942.80" y="867.09" width="6.00" height="2.40" fill="#000"/>
<rect x="1163.79" y="1055.60" width="3.80" height="6.50" fill="#000"/>
<rect x="942.80" y="852.23" width="6.00" height="2.40" fill="#000"/>
<rect x="1180.92" y="1055.60" width="3.80" height="6.50" fill="#000"/>
<rect x="942.80" y="841.69" width="6.00" height="2.40" fill="#000"/>
<rect x="1193.08" y="1055.60" width="3.80" height="6.50" fill="#000"/>
<rect x="942.80" y="833.51" width="6.00" height="2.40" fill="#000"/>
<rect x="1202.51" y="1055.60" width="3.80" height="6.50" fill="#000"/>
<rect x="942.80" y="826.82" width="6.00" height="2.40" fill="#000"/>
<rect x="1210.21" y="1055.60" width="3.80" height="6.50" fill="#000"/>
<rect x="942.80" y="821.17" width="6.00" height="2.40" fill="#000"/>
<rect x="1216.73" y="1055.60" width="3.80" height="6.50" fill="#000"/>
<rect x="942.80" y="816.28" width="6.00" height="2.40" fill="#000"/>
<rect x="1222.37" y="1055.60" width="3.80" height="6.50" fill="#000"/>
<rect x="942.80" y="811.96" width="6.00" height="2.40" fill="#000"/>
<rect x="1227.35" y="1055.60" width="3.80" height="6.50" fill="#000"/>
<rect x="942.80" y="808.10" width="10.50" height="2.40" fill="#000"/>
<rect x="1231.80" y="1050.60" width="3.80" height="11.50" fill="#000"/>
<rect x="942.80" y="782.69" width="6.00" height="2.40" fill="#000"/>
<rect x="1261.09" y="1055.60" width="3.80" height="6.50" fill="#000"/>
<rect x="942.80" y="767.83" width="6.00" height="2.40" fill="#000"/>
<rect x="1278.22" y="1055.60" width="3.80" height="6.50" fill="#000"/>
<rect x="942.80" y="757.29" width="6.00" height="2.40" fill="#000"/>
<rect x="1290.38" y="1055.60" width="3.80" height="6.50" fill="#000"/>
<rect x="942.80" y="749.11" width="6.00" height="2.40" fill="#000"/>
<rect x="1299.81" y="1055.60" width="3.80" height="6.50" fill="#000"/>
<rect x="942.80" y="742.42" width="6.00" height="2.40" fill="#000"/>
<rect x="1307.51" y="1055.60" width="3.80" height="6.50" fill="#000"/>
<rect x="942.80" y="736.77" width="6.00" height="2.40" fill="#000"/>
<rect x="1314.03" y="1055.60" width="3.80" height="6.50" fill="#000"/>
<rect x="942.80" y="731.88" width="6.00" height="2.40" fill="#000"/>
<rect x="1319.67" y="1055.60" width="3.80" height="6.50" fill="#000"/>
<rect x="1324.65" y="1055.60" width="3.80" height="6.50" fill="#000"/>
<rect x="1087.90" y="720.60" width="243.20" height="220.20" fill="none" stroke="#000" stroke-width="8.4"/>
<path d="M1843.5 173h2.8M1801.5 178h2.8M1765.5 187.5h2.8M1873 203h2.8M1863.5 205.5h2.8M1785.5 207h2.8M1801 213h2.8M1772.5 215h2.8M1885 218h2.8M1693.5 219h2.8M1812.5 220h2.8M1795.5 220.5h2.8M1864 220.5h2.8M1813.5 221.5h2.8M1868 221.5h2.8M1817.5 223h2.8M1715 223.5h2.8M1834 225h2.8M1830 226h2.8M1722.5 227h2.8M1689 227.5h2.8M1748.5 228.5h2.8M1790.5 228.5h2.8M1698.5 229.5h2.8M1812 229.5h2.8M1824 231.5h2.8M1816 233.5h2.8M1829.5 236.5h2.8M1859 236.5h2.8M1723.5 237h2.8M1759 237h2.8M1773.5 237.5h2.8M1812.5 237.5h2.8M1831 237.5h2.8M1832.5 240h2.8M1803 241h2.8M1787 241.5h2.8M1805.5 241.5h2.8M1831.5 243h2.8M1754.5 243.5h2.8M1691.5 245h2.8M1774 245.5h2.8M1721 246h2.8M1840 246h2.8M1728 246.5h2.8M1803.5 246.5h2.8M1831.5 246.5h2.8M1775.5 247h2.8M1794 247h2.8M1809.5 247h2.8M1707 248h2.8M1791 248.5h2.8M1831.5 248.5h2.8M1850 248.5h2.8M1848.5 250h2.8M1822 251.5h2.8M1839 252h2.8M1810 252.5h2.8M1839.5 252.5h2.8M1786 253h2.8M1807.5 253h2.8M1849.5 253h2.8M1765.5 253.5h2.8M1938.5 254.5h2.8M1708 255h2.8M1836.5 255h2.8M1851.5 255h2.8M1808 255.5h2.8M1839 256.5h2.8M1863 256.5h2.8M1821.5 257.5h2.8M1832 257.5h2.8M1805 258h2.8M1883 258h2.8M1715 259.5h2.8M1755.5 259.5h2.8M1795.5 259.5h2.8M1802.5 259.5h2.8M1829.5 259.5h2.8M1780.5 260.5h2.8M1831.5 260.5h2.8M1851 260.5h2.8M1783 261h2.8M1958.5 261h2.8M1708.5 261.5h2.8M1783 261.5h2.8M1821.5 261.5h2.8M1837.5 261.5h2.8M1827 262h2.8M1810.5 262.5h2.8M1698.5 263h2.8M1815 263h2.8M1810 263.5h2.8M1811 263.5h2.8M1840.5 263.5h2.8M1780 264h2.8M1848 264h2.8M1842 264.5h2.8M1850.5 264.5h2.8M1860.5 264.5h2.8M1651 265h2.8M1771 265h2.8M1772.5 265h2.8M1815.5 265h2.8M1824 265h2.8M1787.5 265.5h2.8M1833.5 265.5h2.8M1849.5 266h2.8M1864.5 266h2.8M1808 266.5h2.8M1825.5 266.5h2.8M1837 266.5h2.8M1761 267h2.8M1831 267h2.8M1812.5 267.5h2.8M1820.5 268h2.8M1802 268.5h2.8M1855 268.5h2.8M1832.5 269h2.8M1847 269h2.8M1707.5 269.5h2.8M1678.5 270h2.8M1764 270h2.8M1802 270h2.8M1792 270.5h2.8M1836.5 270.5h2.8M1843 270.5h2.8M1855.5 270.5h2.8M1655 271h2.8M1778 271h2.8M1794.5 271.5h2.8M1820.5 271.5h2.8M1839 271.5h2.8M1810 272h2.8M1832.5 272h2.8M1836 272h2.8M1863 272h2.8M1716.5 272.5h2.8M1831.5 272.5h2.8M1683 273h2.8M1838 273h2.8M1809.5 273.5h2.8M1854.5 273.5h2.8M1872 273.5h2.8M1883.5 273.5h2.8M1772.5 274h2.8M1785 274h2.8M1808.5 274h2.8M1809 274h2.8M1837 274h2.8M1826 274.5h2.8M1830 275h2.8M1836 275h2.8M1791.5 275.5h2.8M1800.5 275.5h2.8M1807 275.5h2.8M1813.5 275.5h2.8M1822.5 275.5h2.8M1805 276h2.8M1814.5 276h2.8M1707 276.5h2.8M1784.5 276.5h2.8M1791.5 276.5h2.8M1803 276.5h2.8M1807 276.5h2.8M1833.5 276.5h2.8M1862 276.5h2.8M1886 276.5h2.8M1923.5 276.5h2.8M1799.5 277h2.8M1820.5 277h2.8M1892.5 277h2.8M1754.5 277.5h2.8M1818.5 277.5h2.8M1823 277.5h2.8M1828 277.5h2.8M1854.5 277.5h2.8M1751.5 278h2.8M1792.5 278h2.8M1821 278h2.8M1829.5 278.5h2.8M1803 279h2.8M1814 279h2.8M1815 279h2.8M1823.5 279h2.8M1825.5 279h2.8M1851.5 279h2.8M1696.5 279.5h2.8M1802 279.5h2.8M1833.5 279.5h2.8M1774 280h2.8M1808 280h2.8M1818.5 280h2.8M1831 280h2.8M1835 280h2.8M1771 280.5h2.8M1780.5 280.5h2.8M1781.5 280.5h2.8M1810 280.5h2.8M1813 280.5h2.8M1815 280.5h2.8M1816 280.5h2.8M1817 280.5h2.8M1836 280.5h2.8M1843 280.5h2.8M1909.5 280.5h2.8M1790 281h2.8M1794.5 281h2.8M1816.5 281h2.8M1821 281h2.8M1854.5 281h2.8M1812 281.5h2.8M1827.5 281.5h2.8M1844 281.5h2.8M1847.5 281.5h2.8M1750.5 282h2.8M1793.5 282.5h2.8M1795 282.5h2.8M1810.5 282.5h2.8M1816 282.5h2.8M1817 282.5h2.8M1804.5 283h2.8M1806 283h2.8M1823.5 283h2.8M1808 283.5h2.8M1811.5 283.5h2.8M1823.5 283.5h2.8M1855 283.5h2.8M1706 284h2.8M1807.5 284h2.8M1816.5 284h2.8M1821 284h2.8M1825 284h2.8M1840.5 284h2.8M1857.5 284h2.8M1786.5 284.5h2.8M1791.5 284.5h2.8M1809.5 284.5h2.8M1817 284.5h2.8M1824 284.5h2.8M1830 284.5h2.8M1853.5 284.5h2.8M1798.5 285h2.8M1811 285h2.8M1819.5 285h2.8M1835 285h2.8M1850 285h2.8M1796 285.5h2.8M1806 285.5h2.8M1812 285.5h2.8M1816 285.5h2.8M1824.5 285.5h2.8M1827 285.5h2.8M1827.5 285.5h2.8M1841.5 285.5h2.8M1868.5 285.5h2.8M1759 286h2.8M1778 286h2.8M1805 286h2.8M1814.5 286h2.8M1823 286h2.8M1847 286h2.8M1864 286h2.8M1760.5 286.5h2.8M1800 286.5h2.8M1809 286.5h2.8M1813 286.5h2.8M1818.5 286.5h2.8M1786 287h2.8M1850 287h2.8M1785 287.5h2.8M1799.5 287.5h2.8M1804 287.5h2.8M1805 287.5h2.8M1809.5 287.5h2.8M1812.5 287.5h2.8M1798 288h2.8M1803 288h2.8M1812 288h2.8M1816.5 288h2.8M1823.5 288h2.8M1833 288h2.8M1847 288h2.8M1861.5 288h2.8M1797 288.5h2.8M1811 288.5h2.8M1816 288.5h2.8M1826 288.5h2.8M1849.5 288.5h2.8M1773 289h2.8M1800 289h2.8M1807.5 289h2.8M1814.5 289h2.8M1849.5 289h2.8M1760.5 289.5h2.8M1784 289.5h2.8M1814.5 289.5h2.8M1826.5 289.5h2.8M1865 289.5h2.8M1801 290h2.8M1812.5 290h2.8M1816.5 290h2.8M1817 290h2.8M1823 290h2.8M1828.5 290h2.8M1812 290.5h2.8M1816.5 290.5h2.8M1817 290.5h2.8M1822.5 290.5h2.8M1825 290.5h2.8M1828 290.5h2.8M1846 290.5h2.8M1713.5 291h2.8M1726.5 291h2.8M1772 291h2.8M1793 291h2.8M1793.5 291h2.8M1808 291h2.8M1810 291h2.8M1811 291h2.8M1813 291h2.8M1816.5 291h2.8M1825 291h2.8M1828 291h2.8M1755.5 291.5h2.8M1763 291.5h2.8M1802.5 291.5h2.8M1806 291.5h2.8M1810.5 291.5h2.8M1811.5 291.5h2.8M1813 291.5h2.8M1828 291.5h2.8M1832.5 291.5h2.8M1840 291.5h2.8M1842 291.5h2.8M1725 292h2.8M1793.5 292h2.8M1798 292h2.8M1799 292h2.8M1815 292h2.8M1816.5 292h2.8M1824.5 292h2.8M1838.5 292h2.8M1781 292.5h2.8M1792 292.5h2.8M1811.5 292.5h2.8M1812.5 292.5h2.8M1823.5 292.5h2.8M1829 292.5h2.8M1831.5 292.5h2.8M1789.5 293h2.8M1850.5 293h2.8M1795.5 293.5h2.8M1796.5 293.5h2.8M1806 293.5h2.8M1808.5 293.5h2.8M1811.5 293.5h2.8M1819 293.5h2.8M1822 293.5h2.8M1824.5 293.5h2.8M1826 293.5h2.8M1839.5 293.5h2.8M1850.5 293.5h2.8M1781.5 294h2.8M1833.5 294h2.8M1762.5 294.5h2.8M1792.5 294.5h2.8M1794 294.5h2.8M1799 294.5h2.8M1814.5 294.5h2.8M1817 294.5h2.8M1819.5 294.5h2.8M1827 294.5h2.8M1835 294.5h2.8M1851.5 294.5h2.8M1751 295h2.8M1782 295h2.8M1807 295h2.8M1808 295h2.8M1809 295h2.8M1824.5 295h2.8M1834.5 295h2.8M1837 295h2.8M1857 295h2.8M1797.5 295.5h2.8M1801.5 295.5h2.8M1802 295.5h2.8M1807 295.5h2.8M1823 295.5h2.8M1825 295.5h2.8M1837 295.5h2.8M1862 295.5h2.8M1805.5 296h2.8M1812 296h2.8M1818 296h2.8M1823 296h2.8M1824.5 296h2.8M1789 296.5h2.8M1796 296.5h2.8M1797 296.5h2.8M1801 296.5h2.8M1810 296.5h2.8M1811 296.5h2.8M1811.5 296.5h2.8M1813 296.5h2.8M1816 296.5h2.8M1819.5 296.5h2.8M1820.5 296.5h2.8M1833 296.5h2.8M1857.5 296.5h2.8M1866.5 296.5h2.8M1766.5 297h2.8M1788 297h2.8M1788.5 297h2.8M1798 297h2.8M1802.5 297h2.8M1805 297h2.8M1809 297h2.8M1811 297h2.8M1820.5 297h2.8M1822.5 297h2.8M1698 297.5h2.8M1787.5 297.5h2.8M1795 297.5h2.8M1810 297.5h2.8M1810.5 297.5h2.8M1813 297.5h2.8M1818 297.5h2.8M1818.5 297.5h2.8M1821 297.5h2.8M1825 297.5h2.8M1825.5 297.5h2.8M1830.5 297.5h2.8M1835 297.5h2.8M1759 298h2.8M1791.5 298h2.8M1793.5 298h2.8M1795 298h2.8M1796.5 298h2.8M1800 298h2.8M1804 298h2.8M1806 298h2.8M1808 298h2.8M1809 298h2.8M1809.5 298h2.8M1813.5 298h2.8M1817.5 298h2.8M1819.5 298h2.8M1821 298h2.8M1827.5 298h2.8M1838.5 298h2.8M1865.5 298h2.8M1886 298h2.8M1751 298.5h2.8M1769.5 298.5h2.8M1797.5 298.5h2.8M1813.5 298.5h2.8M1814.5 298.5h2.8M1816.5 298.5h2.8M1817.5 298.5h2.8M1819.5 298.5h2.8M1823.5 298.5h2.8M1828 298.5h2.8M1831.5 298.5h2.8M1782 299h2.8M1784 299h2.8M1796.5 299h2.8M1803 299h2.8M1806.5 299h2.8M1811 299h2.8M1816 299h2.8M1825 299h2.8M1827 299h2.8M1797 299.5h2.8M1800.5 299.5h2.8M1801 299.5h2.8M1802 299.5h2.8M1816 299.5h2.8M1819 299.5h2.8M1820 299.5h2.8M1833.5 299.5h2.8M1798.5 300h2.8M1801.5 300h2.8M1809 300h2.8M1812 300h2.8M1828.5 300h2.8M1831 300h2.8M1834.5 300h2.8M1790 300.5h2.8M1794.5 300.5h2.8M1806.5 300.5h2.8M1813 300.5h2.8M1814 300.5h2.8M1815.5 300.5h2.8M1816 300.5h2.8M1825 300.5h2.8M1828.5 300.5h2.8M1830 300.5h2.8M1832.5 300.5h2.8M1846 300.5h2.8M1851.5 300.5h2.8M1790.5 301h2.8M1794.5 301h2.8M1797.5 301h2.8M1800 301h2.8M1804 301h2.8M1808 301h2.8M1814.5 301h2.8M1815 301h2.8M1821.5 301h2.8M1831 301h2.8M1845.5 301h2.8M1681.5 301.5h2.8M1785 301.5h2.8M1790.5 301.5h2.8M1793 301.5h2.8M1799.5 301.5h2.8M1802.5 301.5h2.8M1806.5 301.5h2.8M1813 301.5h2.8M1826 301.5h2.8M1830.5 301.5h2.8M1837 301.5h2.8M1878 301.5h2.8M1894.5 301.5h2.8M1771 302h2.8M1778 302h2.8M1779 302h2.8M1802.5 302h2.8M1804.5 302h2.8M1807 302h2.8M1812 302h2.8M1813 302h2.8M1814.5 302h2.8M1816.5 302h2.8M1819.5 302h2.8M1851 302h2.8M1771.5 302.5h2.8M1799.5 302.5h2.8M1800 302.5h2.8M1801 302.5h2.8M1804 302.5h2.8M1806 302.5h2.8M1811.5 302.5h2.8M1812 302.5h2.8M1826 302.5h2.8M1828.5 302.5h2.8M1832 302.5h2.8M1772.5 303h2.8M1786 303h2.8M1791 303h2.8M1798.5 303h2.8M1801.5 303h2.8M1803.5 303h2.8M1804 303h2.8M1805 303h2.8M1808 303h2.8M1809.5 303h2.8M1819 303h2.8M1825.5 303h2.8M1830 303h2.8M1798 303.5h2.8M1806 303.5h2.8M1809 303.5h2.8M1816.5 303.5h2.8M1821.5 303.5h2.8M1823 303.5h2.8M1829 303.5h2.8M1845.5 303.5h2.8M1853.5 303.5h2.8M1760 304h2.8M1784 304h2.8M1794.5 304h2.8M1796 304h2.8M1798 304h2.8M1809 304h2.8M1814.5 304h2.8M1817 304h2.8M1818.5 304h2.8M1821 304h2.8M1823.5 304h2.8M1835 304h2.8M1865.5 304h2.8M1866 304h2.8M1779 304.5h2.8M1805.5 304.5h2.8M1810 304.5h2.8M1812.5 304.5h2.8M1813.5 304.5h2.8M1838.5 304.5h2.8M1857.5 304.5h2.8M1766 305h2.8M1796.5 305h2.8M1798.5 305h2.8M1802 305h2.8M1815 305h2.8M1815.5 305h2.8M1816 305h2.8M1818.5 305h2.8M1824 305h2.8M1834.5 305h2.8M1892 305h2.8M1788 305.5h2.8M1794 305.5h2.8M1800 305.5h2.8M1800.5 305.5h2.8M1805.5 305.5h2.8M1809 305.5h2.8M1810.5 305.5h2.8M1812.5 305.5h2.8M1816 305.5h2.8M1816.5 305.5h2.8M1822 305.5h2.8M1822.5 305.5h2.8M1774 306h2.8M1781 306h2.8M1786.5 306h2.8M1788.5 306h2.8M1796 306h2.8M1796.5 306h2.8M1798.5 306h2.8M1801 306h2.8M1805 306h2.8M1810 306h2.8M1817.5 306h2.8M1821 306h2.8M1821.5 306h2.8M1823.5 306h2.8M1842 306h2.8M1865 306h2.8M1798 306.5h2.8M1800 306.5h2.8M1805.5 306.5h2.8M1807 306.5h2.8M1814.5 306.5h2.8M1815.5 306.5h2.8M1835 306.5h2.8M1853.5 306.5h2.8M1802 307h2.8M1803.5 307h2.8M1804.5 307h2.8M1807.5 307h2.8M1813 307h2.8M1815 307h2.8M1816 307h2.8M1819 307h2.8M1826.5 307h2.8M1827.5 307h2.8M1831 307h2.8M1850 307h2.8M1781.5 307.5h2.8M1793.5 307.5h2.8M1795.5 307.5h2.8M1796.5 307.5h2.8M1804.5 307.5h2.8M1805.5 307.5h2.8M1807.5 307.5h2.8M1812 307.5h2.8M1817 307.5h2.8M1832.5 307.5h2.8M1839 307.5h2.8M1841.5 307.5h2.8M1765 308h2.8M1773.5 308h2.8M1783 308h2.8M1792.5 308h2.8M1794 308h2.8M1795 308h2.8M1798 308h2.8M1799 308h2.8M1809.5 308h2.8M1811 308h2.8M1812.5 308h2.8M1815 308h2.8M1816.5 308h2.8M1821.5 308h2.8M1823 308h2.8M1823.5 308h2.8M1826 308h2.8M1830 308h2.8M1831.5 308h2.8M1835 308h2.8M1772.5 308.5h2.8M1791.5 308.5h2.8M1793 308.5h2.8M1796 308.5h2.8M1799 308.5h2.8M1799.5 308.5h2.8M1808.5 308.5h2.8M1812 308.5h2.8M1823 308.5h2.8M1828.5 308.5h2.8M1844 308.5h2.8M1859 308.5h2.8M1784.5 309h2.8M1787.5 309h2.8M1795 309h2.8M1795.5 309h2.8M1797 309h2.8M1800.5 309h2.8M1811.5 309h2.8M1814 309h2.8M1816.5 309h2.8M1822.5 309h2.8M1828.5 309h2.8M1829 309h2.8M1897 309h2.8M1788 309.5h2.8M1792.5 309.5h2.8M1796 309.5h2.8M1797 309.5h2.8M1800.5 309.5h2.8M1804 309.5h2.8M1804.5 309.5h2.8M1811 309.5h2.8M1815.5 309.5h2.8M1816 309.5h2.8M1821.5 309.5h2.8M1823 309.5h2.8M1824.5 309.5h2.8M1830 309.5h2.8M1771 310h2.8M1784.5 310h2.8M1790.5 310h2.8M1792 310h2.8M1799 310h2.8M1801 310h2.8M1803.5 310h2.8M1805 310h2.8M1807 310h2.8M1808 310h2.8M1832.5 310h2.8M1744.5 310.5h2.8M1777 310.5h2.8M1792.5 310.5h2.8M1805 310.5h2.8M1809 310.5h2.8M1809.5 310.5h2.8M1810 310.5h2.8M1811 310.5h2.8M1819 310.5h2.8M1823 310.5h2.8M1825 310.5h2.8M1831.5 310.5h2.8M1834 310.5h2.8M1740 311h2.8M1769.5 311h2.8M1790.5 311h2.8M1793 311h2.8M1799.5 311h2.8M1803 311h2.8M1803.5 311h2.8M1805 311h2.8M1810.5 311h2.8M1811 311h2.8M1815 311h2.8M1817 311h2.8M1818.5 311h2.8M1819 311h2.8M1832.5 311h2.8M1840.5 311h2.8M1856.5 311h2.8M1763.5 311.5h2.8M1767.5 311.5h2.8M1784.5 311.5h2.8M1806 311.5h2.8M1807.5 311.5h2.8M1808.5 311.5h2.8M1816.5 311.5h2.8M1817.5 311.5h2.8M1822.5 311.5h2.8M1823 311.5h2.8M1825.5 311.5h2.8M1830 311.5h2.8M1840 311.5h2.8M1698 312h2.8M1775 312h2.8M1791 312h2.8M1803 312h2.8M1803.5 312h2.8M1804.5 312h2.8M1807 312h2.8M1808 312h2.8M1814.5 312h2.8M1819.5 312h2.8M1822.5 312h2.8M1834 312h2.8M1723.5 312.5h2.8M1781.5 312.5h2.8M1786 312.5h2.8M1789.5 312.5h2.8M1795 312.5h2.8M1803 312.5h2.8M1803.5 312.5h2.8M1817.5 312.5h2.8M1823.5 312.5h2.8M1829.5 312.5h2.8M1758.5 313h2.8M1759.5 313h2.8M1786.5 313h2.8M1807.5 313h2.8M1808 313h2.8M1808.5 313h2.8M1810.5 313h2.8M1812.5 313h2.8M1818.5 313h2.8M1825 313h2.8M1866 313h2.8M1770 313.5h2.8M1776 313.5h2.8M1781.5 313.5h2.8M1789 313.5h2.8M1795 313.5h2.8M1798 313.5h2.8M1800.5 313.5h2.8M1802 313.5h2.8M1802.5 313.5h2.8M1805 313.5h2.8M1809 313.5h2.8M1810.5 313.5h2.8M1811.5 313.5h2.8M1813 313.5h2.8M1815 313.5h2.8M1822 313.5h2.8M1825 313.5h2.8M1826.5 313.5h2.8M1832 313.5h2.8M1755 314h2.8M1781.5 314h2.8M1782 314h2.8M1797.5 314h2.8M1798 314h2.8M1799 314h2.8M1800 314h2.8M1802.5 314h2.8M1808 314h2.8M1812 314h2.8M1822.5 314h2.8M1823.5 314h2.8M1748.5 314.5h2.8M1792 314.5h2.8M1793.5 314.5h2.8M1799 314.5h2.8M1800.5 314.5h2.8M1803.5 314.5h2.8M1804.5 314.5h2.8M1805 314.5h2.8M1810.5 314.5h2.8M1811 314.5h2.8M1813.5 314.5h2.8M1817 314.5h2.8M1817.5 314.5h2.8M1822.5 314.5h2.8M1825.5 314.5h2.8M1840.5 314.5h2.8M1853 314.5h2.8M1765.5 315h2.8M1772 315h2.8M1782 315h2.8M1795 315h2.8M1803 315h2.8M1809 315h2.8M1811.5 315h2.8M1812 315h2.8M1822.5 315h2.8M1837 315h2.8M1860 315h2.8M1902.5 315h2.8M1792 315.5h2.8M1796.5 315.5h2.8M1797 315.5h2.8M1799 315.5h2.8M1800.5 315.5h2.8M1801.5 315.5h2.8M1812 315.5h2.8M1812.5 315.5h2.8M1823.5 315.5h2.8M1860.5 315.5h2.8M1764.5 316h2.8M1782 316h2.8M1783.5 316h2.8M1789 316h2.8M1794 316h2.8M1796 316h2.8M1797.5 316h2.8M1799.5 316h2.8M1802 316h2.8M1803.5 316h2.8M1808.5 316h2.8M1810.5 316h2.8M1812 316h2.8M1813 316h2.8M1816 316h2.8M1817 316h2.8M1818 316h2.8M1819.5 316h2.8M1824.5 316h2.8M1850 316h2.8M1789.5 316.5h2.8M1792 316.5h2.8M1803 316.5h2.8M1803.5 316.5h2.8M1809.5 316.5h2.8M1812 316.5h2.8M1818.5 316.5h2.8M1821.5 316.5h2.8M1831 316.5h2.8M1848.5 316.5h2.8M1857 316.5h2.8M1751.5 317h2.8M1768.5 317h2.8M1790.5 317h2.8M1791 317h2.8M1799.5 317h2.8M1802.5 317h2.8M1803 317h2.8M1803.5 317h2.8M1805 317h2.8M1808 317h2.8M1812 317h2.8M1812.5 317h2.8M1817 317h2.8M1841.5 317h2.8M1881.5 317h2.8M1787 317.5h2.8M1789.5 317.5h2.8M1795 317.5h2.8M1800.5 317.5h2.8M1803.5 317.5h2.8M1808 317.5h2.8M1810.5 317.5h2.8M1811.5 317.5h2.8M1814 317.5h2.8M1830 317.5h2.8M1785.5 318h2.8M1789 318h2.8M1789.5 318h2.8M1791.5 318h2.8M1794 318h2.8M1801.5 318h2.8M1802.5 318h2.8M1803 318h2.8M1804 318h2.8M1805.5 318h2.8M1806.5 318h2.8M1811 318h2.8M1813 318h2.8M1815.5 318h2.8M1821.5 318h2.8M1825 318h2.8M1839.5 318h2.8M1894.5 318h2.8M1788 318.5h2.8M1791 318.5h2.8M1791.5 318.5h2.8M1793 318.5h2.8M1798.5 318.5h2.8M1801.5 318.5h2.8M1804.5 318.5h2.8M1809 318.5h2.8M1810 318.5h2.8M1810.5 318.5h2.8M1815.5 318.5h2.8M1823 318.5h2.8M1824 318.5h2.8M1748.5 319h2.8M1777.5 319h2.8M1783.5 319h2.8M1794 319h2.8M1798 319h2.8M1798.5 319h2.8M1810 319h2.8M1810.5 319h2.8M1811 319h2.8M1814 319h2.8M1790 319.5h2.8M1792.5 319.5h2.8M1793 319.5h2.8M1794 319.5h2.8M1799.5 319.5h2.8M1818 319.5h2.8M1825.5 319.5h2.8M1831 319.5h2.8M1834.5 319.5h2.8M1771.5 320h2.8M1792.5 320h2.8M1805 320h2.8M1805.5 320h2.8M1806 320h2.8M1806.5 320h2.8M1809.5 320h2.8M1812.5 320h2.8M1816 320h2.8M1828.5 320h2.8M1785 320.5h2.8M1789 320.5h2.8M1790 320.5h2.8M1794.5 320.5h2.8M1803 320.5h2.8M1806.5 320.5h2.8M1809.5 320.5h2.8M1817.5 320.5h2.8M1820 320.5h2.8M1827 320.5h2.8M1828.5 320.5h2.8M1852 320.5h2.8M1780.5 321h2.8M1781.5 321h2.8M1782.5 321h2.8M1797 321h2.8M1798 321h2.8M1807.5 321h2.8M1811.5 321h2.8M1812.5 321h2.8M1813 321h2.8M1818 321h2.8M1826 321h2.8M1834.5 321h2.8M1773.5 321.5h2.8M1775.5 321.5h2.8M1790 321.5h2.8M1792 321.5h2.8M1801 321.5h2.8M1806.5 321.5h2.8M1807 321.5h2.8M1811 321.5h2.8M1815.5 321.5h2.8M1822.5 321.5h2.8M1830.5 321.5h2.8M1764 322h2.8M1779.5 322h2.8M1792 322h2.8M1804 322h2.8M1808 322h2.8M1812.5 322h2.8M1814.5 322h2.8M1815.5 322h2.8M1817 322h2.8M1818 322h2.8M1824.5 322h2.8M1830.5 322h2.8M1831.5 322h2.8M1787.5 322.5h2.8M1789 322.5h2.8M1798.5 322.5h2.8M1803.5 322.5h2.8M1806 322.5h2.8M1811.5 322.5h2.8M1813 322.5h2.8M1817 322.5h2.8M1820.5 322.5h2.8M1851 322.5h2.8M1855 322.5h2.8M1782.5 323h2.8M1783.5 323h2.8M1789 323h2.8M1793 323h2.8M1799 323h2.8M1806.5 323h2.8M1807.5 323h2.8M1808 323h2.8M1809 323h2.8M1823 323h2.8M1859 323h2.8M1788 323.5h2.8M1790 323.5h2.8M1796.5 323.5h2.8M1801.5 323.5h2.8M1803 323.5h2.8M1807 323.5h2.8M1814 323.5h2.8M1815.5 323.5h2.8M1817 323.5h2.8M1779 324h2.8M1787 324h2.8M1789.5 324h2.8M1797 324h2.8M1805.5 324h2.8M1814 324h2.8M1816 324h2.8M1825.5 324h2.8M1839 324h2.8M1781 324.5h2.8M1793 324.5h2.8M1809.5 324.5h2.8M1810 324.5h2.8M1826.5 324.5h2.8M1784 325h2.8M1784.5 325h2.8M1789.5 325h2.8M1795.5 325h2.8M1803.5 325h2.8M1804.5 325h2.8M1806.5 325h2.8M1807.5 325h2.8M1818.5 325h2.8M1823 325h2.8M1824.5 325h2.8M1829.5 325h2.8M1835 325h2.8M1755.5 325.5h2.8M1781.5 325.5h2.8M1786 325.5h2.8M1804.5 325.5h2.8M1805.5 325.5h2.8M1806.5 325.5h2.8M1808.5 325.5h2.8M1811 325.5h2.8M1818 325.5h2.8M1822.5 325.5h2.8M1835.5 325.5h2.8M1707 326h2.8M1769 326h2.8M1785 326h2.8M1787 326h2.8M1788.5 326h2.8M1791 326h2.8M1797 326h2.8M1798.5 326h2.8M1799 326h2.8M1800.5 326h2.8M1805 326h2.8M1807.5 326h2.8M1810 326h2.8M1815.5 326h2.8M1818.5 326h2.8M1821 326h2.8M1743 326.5h2.8M1745.5 326.5h2.8M1753.5 326.5h2.8M1777.5 326.5h2.8M1791.5 326.5h2.8M1804 326.5h2.8M1806.5 326.5h2.8M1807 326.5h2.8M1811 326.5h2.8M1819 326.5h2.8M1823 326.5h2.8M1835 326.5h2.8M1791.5 327h2.8M1797 327h2.8M1804 327h2.8M1810 327h2.8M1811 327h2.8M1812 327h2.8M1814.5 327h2.8M1818 327h2.8M1821 327h2.8M1829 327h2.8M1765 327.5h2.8M1766.5 327.5h2.8M1786 327.5h2.8M1795 327.5h2.8M1795.5 327.5h2.8M1800.5 327.5h2.8M1805 327.5h2.8M1809 327.5h2.8M1811 327.5h2.8M1814 327.5h2.8M1821 327.5h2.8M1837 327.5h2.8M1785 328h2.8M1789 328h2.8M1802.5 328h2.8M1807 328h2.8M1809.5 328h2.8M1817.5 328h2.8M1819.5 328h2.8M1823.5 328h2.8M1834 328h2.8M1793 328.5h2.8M1795.5 328.5h2.8M1798.5 328.5h2.8M1799 328.5h2.8M1799.5 328.5h2.8M1802 328.5h2.8M1808 328.5h2.8M1819.5 328.5h2.8M1821 328.5h2.8M1764.5 329h2.8M1766 329h2.8M1783.5 329h2.8M1797 329h2.8M1800 329h2.8M1801 329h2.8M1804 329h2.8M1805.5 329h2.8M1810.5 329h2.8M1812 329h2.8M1813 329h2.8M1816 329h2.8M1818 329h2.8M1796.5 329.5h2.8M1806.5 329.5h2.8M1811 329.5h2.8M1814 329.5h2.8M1825 329.5h2.8M1786 330h2.8M1789.5 330h2.8M1791 330h2.8M1798.5 330h2.8M1802.5 330h2.8M1807.5 330h2.8M1809.5 330h2.8M1817 330h2.8M1785 330.5h2.8M1787.5 330.5h2.8M1789 330.5h2.8M1801.5 330.5h2.8M1803.5 330.5h2.8M1807 330.5h2.8M1816.5 330.5h2.8M1821 330.5h2.8M1822 330.5h2.8M1777 331h2.8M1780 331h2.8M1798.5 331h2.8M1799 331h2.8M1801.5 331h2.8M1803 331h2.8M1804.5 331h2.8M1807.5 331h2.8M1814 331h2.8M1776 331.5h2.8M1780.5 331.5h2.8M1801.5 331.5h2.8M1803.5 331.5h2.8M1804 331.5h2.8M1805 331.5h2.8M1824.5 331.5h2.8M1825.5 331.5h2.8M1826 331.5h2.8M1745 332h2.8M1813 332h2.8M1813.5 332h2.8M1827 332h2.8" stroke="#111" stroke-width="2.8" fill="none"/>
<rect x="1591.20" y="108.00" width="392.00" height="4.00" fill="#000"/>
<rect x="1591.20" y="108.00" width="4.00" height="343.60" fill="#000"/>
<rect x="1591.20" y="447.60" width="392.00" height="4.00" fill="#000"/>
<rect x="1981.20" y="108.00" width="2.00" height="343.60" fill="#000"/>
<rect x="1591.20" y="336.40" width="392.00" height="3.00" fill="#000"/>
<rect x="1735.00" y="108.00" width="3.00" height="343.60" fill="#000"/>
<rect x="1594.70" y="423.39" width="6.00" height="2.40" fill="#000"/>
<rect x="1620.39" y="441.60" width="3.80" height="6.50" fill="#000"/>
<rect x="1594.70" y="408.53" width="6.00" height="2.40" fill="#000"/>
<rect x="1637.52" y="441.60" width="3.80" height="6.50" fill="#000"/>
<rect x="1594.70" y="397.99" width="6.00" height="2.40" fill="#000"/>
<rect x="1649.68" y="441.60" width="3.80" height="6.50" fill="#000"/>
<rect x="1594.70" y="389.81" width="6.00" height="2.40" fill="#000"/>
<rect x="1659.11" y="441.60" width="3.80" height="6.50" fill="#000"/>
<rect x="1594.70" y="383.12" width="6.00" height="2.40" fill="#000"/>
<rect x="1666.81" y="441.60" width="3.80" height="6.50" fill="#000"/>
<rect x="1594.70" y="377.47" width="6.00" height="2.40" fill="#000"/>
<rect x="1673.33" y="441.60" width="3.80" height="6.50" fill="#000"/>
<rect x="1594.70" y="372.58" width="6.00" height="2.40" fill="#000"/>
<rect x="1678.97" y="441.60" width="3.80" height="6.50" fill="#000"/>
<rect x="1594.70" y="368.26" width="6.00" height="2.40" fill="#000"/>
<rect x="1683.95" y="441.60" width="3.80" height="6.50" fill="#000"/>
<rect x="1594.70" y="364.40" width="10.50" height="2.40" fill="#000"/>
<rect x="1688.40" y="436.60" width="3.80" height="11.50" fill="#000"/>
<rect x="1594.70" y="338.99" width="6.00" height="2.40" fill="#000"/>
<rect x="1717.69" y="441.60" width="3.80" height="6.50" fill="#000"/>
<rect x="1594.70" y="324.13" width="6.00" height="2.40" fill="#000"/>
<rect x="1734.82" y="441.60" width="3.80" height="6.50" fill="#000"/>
<rect x="1594.70" y="313.59" width="6.00" height="2.40" fill="#000"/>
<rect x="1746.98" y="441.60" width="3.80" height="6.50" fill="#000"/>
<rect x="1594.70" y="305.41" width="6.00" height="2.40" fill="#000"/>
<rect x="1756.41" y="441.60" width="3.80" height="6.50" fill="#000"/>
<rect x="1594.70" y="298.72" width="6.00" height="2.40" fill="#000"/>
<rect x="1764.11" y="441.60" width="3.80" height="6.50" fill="#000"/>
<rect x="1594.70" y="293.07" width="6.00" height="2.40" fill="#000"/>
<rect x="1770.63" y="441.60" width="3.80" height="6.50" fill="#000"/>
<rect x="1594.70" y="288.18" width="6.00" height="2.40" fill="#000"/>
<rect x="1776.27" y="441.60" width="3.80" height="6.50" fill="#000"/>
<rect x="1594.70" y="283.86" width="6.00" height="2.40" fill="#000"/>
<rect x="1781.25" y="441.60" width="3.80" height="6.50" fill="#000"/>
<rect x="1594.70" y="280.00" width="10.50" height="2.40" fill="#000"/>
<rect x="1785.70" y="436.60" width="3.80" height="11.50" fill="#000"/>
<rect x="1594.70" y="254.59" width="6.00" height="2.40" fill="#000"/>
<rect x="1814.99" y="441.60" width="3.80" height="6.50" fill="#000"/>
<rect x="1594.70" y="239.73" width="6.00" height="2.40" fill="#000"/>
<rect x="1832.12" y="441.60" width="3.80" height="6.50" fill="#000"/>
<rect x="1594.70" y="229.19" width="6.00" height="2.40" fill="#000"/>
<rect x="1844.28" y="441.60" width="3.80" height="6.50" fill="#000"/>
<rect x="1594.70" y="221.01" width="6.00" height="2.40" fill="#000"/>
<rect x="1853.71" y="441.60" width="3.80" height="6.50" fill="#000"/>
<rect x="1594.70" y="214.32" width="6.00" height="2.40" fill="#000"/>
<rect x="1861.41" y="441.60" width="3.80" height="6.50" fill="#000"/>
<rect x="1594.70" y="208.67" width="6.00" height="2.40" fill="#000"/>
<rect x="1867.93" y="441.60" width="3.80" height="6.50" fill="#000"/>
<rect x="1594.70" y="203.78" width="6.00" height="2.40" fill="#000"/>
<rect x="1873.57" y="441.60" width="3.80" height="6.50" fill="#000"/>
<rect x="1594.70" y="199.46" width="6.00" height="2.40" fill="#000"/>
<rect x="1878.55" y="441.60" width="3.80" height="6.50" fill="#000"/>
<rect x="1594.70" y="195.60" width="10.50" height="2.40" fill="#000"/>
<rect x="1883.00" y="436.60" width="3.80" height="11.50" fill="#000"/>
<rect x="1594.70" y="170.19" width="6.00" height="2.40" fill="#000"/>
<rect x="1912.29" y="441.60" width="3.80" height="6.50" fill="#000"/>
<rect x="1594.70" y="155.33" width="6.00" height="2.40" fill="#000"/>
<rect x="1929.42" y="441.60" width="3.80" height="6.50" fill="#000"/>
<rect x="1594.70" y="144.79" width="6.00" height="2.40" fill="#000"/>
<rect x="1941.58" y="441.60" width="3.80" height="6.50" fill="#000"/>
<rect x="1594.70" y="136.61" width="6.00" height="2.40" fill="#000"/>
<rect x="1951.01" y="441.60" width="3.80" height="6.50" fill="#000"/>
<rect x="1594.70" y="129.92" width="6.00" height="2.40" fill="#000"/>
<rect x="1958.71" y="441.60" width="3.80" height="6.50" fill="#000"/>
<rect x="1594.70" y="124.27" width="6.00" height="2.40" fill="#000"/>
<rect x="1965.23" y="441.60" width="3.80" height="6.50" fill="#000"/>
<rect x="1594.70" y="119.38" width="6.00" height="2.40" fill="#000"/>
<rect x="1970.87" y="441.60" width="3.80" height="6.50" fill="#000"/>
<rect x="1975.85" y="441.60" width="3.80" height="6.50" fill="#000"/>
<rect x="1735.90" y="109.20" width="243.00" height="228.00" fill="none" stroke="#000" stroke-width="8.4"/>
<path d="M1791 762h3.4M1836.5 762h3.4M1818 776.5h3.4M1836.5 791h3.4M1824.5 797h3.4M1823.5 799.5h3.4M1769.5 819h3.4M1768.5 820h3.4M1787.5 822h3.4M1770 823h3.4M1893 825.5h3.4M1863.5 827h3.4M1794.5 827.5h3.4M1794 828.5h3.4M1878 830h3.4M1754.5 830.5h3.4M1866.5 830.5h3.4M1859.5 831.5h3.4M1796 833h3.4M1774 834h3.4M1739.5 835h3.4M1773 840h3.4M1818.5 840.5h3.4M1761.5 843h3.4M1838.5 843h3.4M1876.5 844h3.4M1742.5 844.5h3.4M1779.5 845h3.4M1781.5 845h3.4M1775.5 845.5h3.4M1778 846h3.4M1917.5 847h3.4M1742.5 847.5h3.4M1760 847.5h3.4M1767.5 847.5h3.4M1822 849h3.4M1832 849h3.4M1747.5 850h3.4M1830 850h3.4M1834 850h3.4M1737 851h3.4M1844.5 851h3.4M1780 851.5h3.4M1823 851.5h3.4M1770 852.5h3.4M1839.5 853.5h3.4M1864.5 853.5h3.4M1814.5 854.5h3.4M1770 855h3.4M1825 855h3.4M1764.5 855.5h3.4M1766 855.5h3.4M1813 856h3.4M1864 856h3.4M1771 856.5h3.4M1776.5 857.5h3.4M1838 857.5h3.4M1789.5 858.5h3.4M1793 859.5h3.4M1843 860.5h3.4M1754.5 861.5h3.4M1782 861.5h3.4M1748 862.5h3.4M1828 862.5h3.4M1846.5 862.5h3.4M1764.5 863h3.4M1834.5 863.5h3.4M1838 863.5h3.4M1849.5 863.5h3.4M1786.5 865.5h3.4M1802 865.5h3.4M1837 866.5h3.4M1778 867h3.4M1812.5 867h3.4M1817 868h3.4M1845 868h3.4M1853.5 868.5h3.4M1808 869.5h3.4M1833.5 869.5h3.4M1751.5 870.5h3.4M1830 871h3.4M1763.5 872h3.4M1805 872h3.4M1843 872h3.4M1821.5 872.5h3.4M1829.5 872.5h3.4M1851 872.5h3.4M1828 873h3.4M1862.5 873h3.4M1746 874.5h3.4M1806.5 874.5h3.4M1854 875h3.4M1837 875.5h3.4M1914.5 875.5h3.4M1752.5 876.5h3.4M1787 876.5h3.4M1831 876.5h3.4M1817.5 878h3.4M1831.5 878h3.4M1838.5 878h3.4M1844.5 878h3.4M1807 878.5h3.4M1806 879h3.4M1832.5 879h3.4M1856 879h3.4M1796 879.5h3.4M1801 880h3.4M1821 880h3.4M1831 881h3.4M1837.5 881h3.4M1864.5 881h3.4M1810 881.5h3.4M1843.5 881.5h3.4M1878 881.5h3.4M1796 882h3.4M1845.5 882h3.4M1832 883h3.4M1822.5 883.5h3.4M1792 884h3.4M1809.5 884h3.4M1880.5 884h3.4M1824 884.5h3.4M1832 884.5h3.4M1806 885h3.4M1830 885h3.4M1791.5 885.5h3.4M1832 885.5h3.4M1840 885.5h3.4M1871.5 885.5h3.4M1802.5 886h3.4M1699 886.5h3.4M1785 886.5h3.4M1793.5 886.5h3.4M1810.5 886.5h3.4M1831 886.5h3.4M1835.5 886.5h3.4M1800 887h3.4M1828.5 887h3.4M1804.5 887.5h3.4M1843 887.5h3.4M1856 887.5h3.4M1702 888h3.4M1823.5 888h3.4M1765 888.5h3.4M1798 888.5h3.4M1801.5 888.5h3.4M1807 888.5h3.4M1840.5 888.5h3.4M1797.5 889h3.4M1810 889h3.4M1820.5 889h3.4M1821.5 889.5h3.4M1841.5 889.5h3.4M1819 890h3.4M1827 890.5h3.4M1827 891h3.4M1832 891h3.4M1842 891.5h3.4M1815.5 892h3.4M1849.5 892h3.4M1857 892h3.4M1835 893h3.4M1836.5 893h3.4M1771 893.5h3.4M1807.5 893.5h3.4M1811 893.5h3.4M1827.5 893.5h3.4M1838.5 893.5h3.4M1779.5 894h3.4M1798.5 894h3.4M1803 894h3.4M1776 894.5h3.4M1786 894.5h3.4M1798.5 894.5h3.4M1821.5 894.5h3.4M1824.5 894.5h3.4M1829 894.5h3.4M1846 894.5h3.4M1773 895h3.4M1799.5 895h3.4M1818 895h3.4M1837.5 895h3.4M1816.5 895.5h3.4M1819.5 895.5h3.4M1823.5 895.5h3.4M1838.5 895.5h3.4M1841 895.5h3.4M1841.5 895.5h3.4M1819 896h3.4M1829 896h3.4M1849 896h3.4M1783.5 897h3.4M1791 897h3.4M1810.5 897h3.4M1840 897h3.4M1772.5 897.5h3.4M1796 897.5h3.4M1815 897.5h3.4M1847 897.5h3.4M1793 898h3.4M1826.5 898h3.4M1758 898.5h3.4M1788.5 898.5h3.4M1849 898.5h3.4M1778.5 899h3.4M1781.5 899h3.4M1787 899h3.4M1788 899h3.4M1793 899h3.4M1796.5 899h3.4M1806 899h3.4M1808 899h3.4M1810 899h3.4M1837.5 899h3.4M1791.5 899.5h3.4M1803 899.5h3.4M1816 899.5h3.4M1805.5 900h3.4M1832 900h3.4M1846.5 900h3.4M1818 900.5h3.4M1820 900.5h3.4M1824.5 900.5h3.4M1828 900.5h3.4M1840.5 900.5h3.4M1819 901h3.4M1825 901h3.4M1842.5 901h3.4M1798.5 901.5h3.4M1801.5 901.5h3.4M1809 901.5h3.4M1831 901.5h3.4M1839 901.5h3.4M1863.5 901.5h3.4M1799.5 902h3.4M1804.5 902h3.4M1818 902h3.4M1827.5 902h3.4M1825.5 902.5h3.4M1774.5 903h3.4M1778.5 903h3.4M1813.5 903h3.4M1787 903.5h3.4M1794 903.5h3.4M1844.5 903.5h3.4M1860.5 903.5h3.4M1798 904h3.4M1816.5 904h3.4M1817.5 904h3.4M1826 904h3.4M1841 904h3.4M1793 904.5h3.4M1807.5 904.5h3.4M1827.5 904.5h3.4M1806.5 905h3.4M1811.5 905h3.4M1817 905h3.4M1850 905h3.4M1765 905.5h3.4M1812 905.5h3.4M1819 905.5h3.4M1820.5 905.5h3.4M1825 905.5h3.4M1811 906h3.4M1820.5 906h3.4M1822 906h3.4M1831 906h3.4M1880.5 906h3.4M1782.5 906.5h3.4M1797.5 906.5h3.4M1828.5 906.5h3.4M1831 906.5h3.4M1763.5 907h3.4M1800.5 907h3.4M1805 907h3.4M1812 907h3.4M1817.5 907h3.4M1824.5 907h3.4M1835.5 907h3.4M1798 907.5h3.4M1830 907.5h3.4M1830.5 907.5h3.4M1839 907.5h3.4M1759 908h3.4M1784 908h3.4M1788.5 908h3.4M1819.5 908h3.4M1831.5 908h3.4M1800.5 908.5h3.4M1803 908.5h3.4M1811 908.5h3.4M1812 908.5h3.4M1842 908.5h3.4M1777.5 909h3.4M1790 909h3.4M1794 909h3.4M1800.5 909h3.4M1803 909h3.4M1811 909h3.4M1812.5 909h3.4M1820.5 909h3.4M1824.5 909h3.4M1832 909h3.4M1866.5 909h3.4M1793 909.5h3.4M1798.5 909.5h3.4M1802.5 909.5h3.4M1829 909.5h3.4M1794 910h3.4M1800.5 910h3.4M1807 910h3.4M1811.5 910h3.4M1813.5 910h3.4M1819 910h3.4M1830 910h3.4M1792 910.5h3.4M1822.5 910.5h3.4M1852 910.5h3.4M1798.5 911h3.4M1813 911h3.4M1814.5 911h3.4M1833.5 911h3.4M1771.5 911.5h3.4M1776 911.5h3.4M1797.5 911.5h3.4M1820 911.5h3.4M1820.5 911.5h3.4M1833 911.5h3.4M1789.5 912h3.4M1794.5 912h3.4M1798.5 912h3.4M1802 912h3.4M1804 912h3.4M1816 912h3.4M1748 912.5h3.4M1782.5 912.5h3.4M1786 912.5h3.4M1791.5 912.5h3.4M1799 912.5h3.4M1799.5 912.5h3.4M1803 912.5h3.4M1807 912.5h3.4M1808.5 912.5h3.4M1810 912.5h3.4M1816 912.5h3.4M1843.5 912.5h3.4M1846 912.5h3.4M1773 913h3.4M1792 913h3.4M1798.5 913h3.4M1808 913h3.4M1838.5 913h3.4M1783 913.5h3.4M1790 913.5h3.4M1802.5 913.5h3.4M1804.5 913.5h3.4M1805 913.5h3.4M1806.5 913.5h3.4M1807 913.5h3.4M1820.5 913.5h3.4M1823.5 913.5h3.4M1788.5 914h3.4M1797.5 914h3.4M1800 914h3.4M1824 914h3.4M1837.5 914h3.4M1782 914.5h3.4M1796.5 914.5h3.4M1812 914.5h3.4M1813.5 914.5h3.4M1817.5 914.5h3.4M1833 914.5h3.4M1766 915h3.4M1779.5 915h3.4M1801.5 915h3.4M1804.5 915h3.4M1808.5 915h3.4M1821.5 915h3.4M1764.5 915.5h3.4M1787 915.5h3.4M1789.5 915.5h3.4M1796.5 915.5h3.4M1806.5 915.5h3.4M1810.5 915.5h3.4M1790.5 916h3.4M1804 916h3.4M1817.5 916h3.4M1833 916h3.4M1797.5 916.5h3.4M1803.5 916.5h3.4M1808 916.5h3.4M1810 916.5h3.4M1817.5 916.5h3.4M1832 916.5h3.4M1788 917h3.4M1789.5 917h3.4M1790 917h3.4M1794.5 917h3.4M1812.5 917h3.4M1817.5 917h3.4M1824 917h3.4M1779 917.5h3.4M1784.5 917.5h3.4M1797.5 917.5h3.4M1803.5 917.5h3.4M1804 917.5h3.4M1824 917.5h3.4M1824.5 917.5h3.4M1795 918h3.4M1802.5 918h3.4M1812 918h3.4M1759 918.5h3.4M1791.5 918.5h3.4M1815 918.5h3.4M1817.5 918.5h3.4M1820.5 918.5h3.4M1832.5 918.5h3.4M1834 918.5h3.4M1692 919h3.4M1765.5 919h3.4M1776 919h3.4M1787.5 919h3.4M1792 919h3.4M1795.5 919h3.4M1799 919h3.4M1799.5 919h3.4M1803 919h3.4M1822 919h3.4M1823.5 919h3.4M1776.5 919.5h3.4M1787.5 919.5h3.4M1788.5 919.5h3.4M1798 919.5h3.4M1802 919.5h3.4M1803.5 919.5h3.4M1804.5 919.5h3.4M1814 919.5h3.4M1822.5 919.5h3.4M1769 920h3.4M1814 920h3.4M1823 920h3.4M1778 920.5h3.4M1789.5 920.5h3.4M1797 920.5h3.4M1801 920.5h3.4M1814 920.5h3.4M1784 921h3.4M1797 921h3.4M1817.5 921h3.4M1782.5 921.5h3.4M1809 921.5h3.4M1809.5 921.5h3.4M1819.5 921.5h3.4M1826.5 921.5h3.4M1782 922h3.4M1783 922h3.4M1787 922h3.4M1805 922h3.4M1816.5 922h3.4M1797 922.5h3.4M1798 922.5h3.4M1802 922.5h3.4M1810 922.5h3.4M1817 922.5h3.4M1823 922.5h3.4M1830.5 922.5h3.4M1831 922.5h3.4M1832 922.5h3.4M1850.5 922.5h3.4M1765.5 923h3.4M1784.5 923h3.4M1798.5 923h3.4M1799.5 923h3.4M1811.5 923h3.4M1763 923.5h3.4M1782.5 923.5h3.4M1816 923.5h3.4M1755 924h3.4M1776 924h3.4M1798.5 924h3.4M1807.5 924h3.4M1821.5 924h3.4M1830 924h3.4M1787.5 924.5h3.4M1793.5 924.5h3.4M1806 924.5h3.4M1824.5 924.5h3.4M1825.5 924.5h3.4M1830 924.5h3.4M1777.5 925h3.4M1793 925h3.4M1800 925h3.4M1804 925h3.4M1807 925h3.4M1811 925h3.4M1791 925.5h3.4M1800.5 925.5h3.4M1805 925.5h3.4M1805.5 925.5h3.4M1812.5 925.5h3.4M1813.5 925.5h3.4M1751.5 926h3.4M1768 926h3.4M1783.5 926h3.4M1802 926h3.4M1805 926h3.4M1812 926h3.4M1775 926.5h3.4M1778.5 926.5h3.4M1779.5 926.5h3.4M1781 926.5h3.4M1783 926.5h3.4M1786.5 926.5h3.4M1788.5 926.5h3.4M1800.5 926.5h3.4M1805 926.5h3.4M1810 926.5h3.4M1821 926.5h3.4M1869 926.5h3.4M1784.5 927h3.4M1800 927h3.4M1808 927h3.4M1815.5 927h3.4M1817 927h3.4M1822.5 927h3.4M1827 927h3.4M1780.5 927.5h3.4M1793 927.5h3.4M1813.5 927.5h3.4M1815.5 927.5h3.4M1823.5 927.5h3.4M1781 928h3.4M1784 928h3.4M1786 928h3.4M1786.5 928h3.4M1791 928h3.4M1799.5 928h3.4M1806 928h3.4M1808.5 928h3.4M1816 928h3.4M1781.5 928.5h3.4M1794 928.5h3.4M1823.5 928.5h3.4M1859.5 928.5h3.4M1772 929h3.4M1780 929h3.4M1786 929h3.4M1812.5 929h3.4M1813 929h3.4M1813.5 929h3.4M1817 929h3.4M1830.5 929h3.4M1780 929.5h3.4M1785.5 929.5h3.4M1791 929.5h3.4M1805.5 929.5h3.4M1812 929.5h3.4M1740.5 930h3.4M1783.5 930h3.4M1794.5 930h3.4M1797 930h3.4M1806.5 930h3.4M1837 930h3.4M1760.5 930.5h3.4M1801 930.5h3.4M1801.5 930.5h3.4M1806 930.5h3.4M1808.5 930.5h3.4M1824.5 930.5h3.4M1773 931h3.4M1777 931h3.4M1787.5 931h3.4M1794 931h3.4M1796.5 931h3.4M1797 931h3.4M1800 931h3.4M1810.5 931h3.4M1804.5 931.5h3.4M1808 931.5h3.4M1809.5 931.5h3.4M1818.5 931.5h3.4M1789 932h3.4M1792 932h3.4M1802.5 932h3.4M1805.5 932h3.4M1818.5 932h3.4M1776.5 932.5h3.4M1795 932.5h3.4M1798 932.5h3.4M1801 932.5h3.4M1803.5 932.5h3.4M1819 932.5h3.4M1791.5 933h3.4M1798 933h3.4M1801.5 933h3.4M1812 933h3.4M1814.5 933h3.4M1819.5 933h3.4M1840 933h3.4M1852 933h3.4M1779 933.5h3.4M1784.5 933.5h3.4M1792 933.5h3.4M1794.5 933.5h3.4M1809 933.5h3.4M1815.5 933.5h3.4M1777.5 934h3.4M1790.5 934h3.4M1808 934h3.4M1787 934.5h3.4M1797.5 934.5h3.4M1799.5 934.5h3.4M1802 934.5h3.4M1810.5 934.5h3.4M1774.5 935h3.4M1780.5 935h3.4M1789 935h3.4M1793 935h3.4M1804 935h3.4M1816.5 935h3.4M1817.5 935h3.4M1775 935.5h3.4M1779 935.5h3.4M1786.5 935.5h3.4M1820 935.5h3.4M1805 936h3.4M1753 936.5h3.4M1768 936.5h3.4M1815.5 936.5h3.4M1837.5 936.5h3.4M1793.5 937h3.4M1797 937h3.4M1822.5 937h3.4M1785.5 937.5h3.4M1811.5 937.5h3.4M1776 938h3.4M1799 938h3.4M1812.5 938h3.4M1813.5 938h3.4M1795 938.5h3.4M1797.5 938.5h3.4M1802 938.5h3.4M1786.5 939h3.4M1791.5 939h3.4M1816 939h3.4M1830 939h3.4M1828.5 939.5h3.4M1768.5 940h3.4M1789.5 940h3.4M1801 940h3.4M1821.5 940h3.4M1785 940.5h3.4M1800 940.5h3.4M1838 940.5h3.4M1793 941h3.4M1794 941h3.4M1810 941h3.4M1822 941h3.4M1770.5 941.5h3.4M1774.5 941.5h3.4M1787 941.5h3.4M1797 941.5h3.4M1800 941.5h3.4M1803 941.5h3.4M1807 941.5h3.4M1812.5 941.5h3.4M1761 942h3.4M1797 942h3.4M1803.5 942h3.4M1804.5 942h3.4M1773.5 942.5h3.4M1785 942.5h3.4M1794.5 942.5h3.4M1797 942.5h3.4M1803.5 942.5h3.4M1804.5 942.5h3.4M1813 943h3.4" stroke="#000" stroke-width="3.4" fill="none" opacity="0.6"/>
<path d="M1817 790.5h3.4M1834.5 816h3.4M1766.5 818h3.4M1782 818h3.4M1758 818.5h3.4M1756 822h3.4M1820.5 823h3.4M1861.5 825h3.4M1774 827.5h3.4M1841 828h3.4M1756 829.5h3.4M1761 829.5h3.4M1752 831h3.4M1798.5 832.5h3.4M1797 834h3.4M1783 835h3.4M1848 835.5h3.4M1878 838h3.4M1760 841h3.4M1757.5 841.5h3.4M1878 841.5h3.4M1757 843h3.4M1759.5 843h3.4M1767.5 843h3.4M1850.5 844.5h3.4M1782.5 845h3.4M1855.5 846h3.4M1853 847h3.4M1738 847.5h3.4M1798 848.5h3.4M1737.5 849.5h3.4M1840 849.5h3.4M1771 850h3.4M1776 850.5h3.4M1876 850.5h3.4M1796.5 851h3.4M1850 851h3.4M1844.5 851.5h3.4M1769 852h3.4M1791 852h3.4M1760.5 853h3.4M1815.5 853h3.4M1880 853h3.4M1819.5 853.5h3.4M1870 854h3.4M1843.5 854.5h3.4M1859.5 854.5h3.4M1831 855.5h3.4M1841 855.5h3.4M1856.5 856h3.4M1898 856.5h3.4M1763.5 857h3.4M1802.5 857h3.4M1762.5 857.5h3.4M1780.5 857.5h3.4M1889 857.5h3.4M1860.5 858h3.4M1840.5 858.5h3.4M1813.5 859h3.4M1758 859.5h3.4M1800 860h3.4M1766.5 861h3.4M1813 861h3.4M1837.5 861h3.4M1770.5 861.5h3.4M1834 861.5h3.4M1868 861.5h3.4M1772.5 862.5h3.4M1796.5 862.5h3.4M1816 862.5h3.4M1759.5 863h3.4M1851.5 863.5h3.4M1783.5 864.5h3.4M1841 864.5h3.4M1805 865h3.4M1832.5 865.5h3.4M1878 866h3.4M1843 866.5h3.4M1852 866.5h3.4M1754.5 867h3.4M1822.5 867h3.4M1844 867h3.4M1776.5 867.5h3.4M1838.5 868h3.4M1842.5 868.5h3.4M1784.5 869h3.4M1798.5 869h3.4M1801.5 870h3.4M1806 870h3.4M1844.5 870h3.4M1862.5 871h3.4M1870.5 871h3.4M1750.5 871.5h3.4M1795.5 871.5h3.4M1802 872h3.4M1816 872.5h3.4M1750 873h3.4M1820.5 873.5h3.4M1828 873.5h3.4M1834.5 874h3.4M1848 874.5h3.4M1865.5 874.5h3.4M1839 875h3.4M1808 875.5h3.4M1847.5 875.5h3.4M1773.5 876h3.4M1748 876.5h3.4M1817.5 876.5h3.4M1834.5 876.5h3.4M1861.5 876.5h3.4M1877.5 876.5h3.4M1782.5 877h3.4M1830 877.5h3.4M1855 877.5h3.4M1825.5 878h3.4M1845 878h3.4M1856 878.5h3.4M1791.5 879.5h3.4M1751 880h3.4M1839 880h3.4M1802 880.5h3.4M1830.5 880.5h3.4M1896.5 881h3.4M1828.5 881.5h3.4M1794 882h3.4M1807.5 882h3.4M1819.5 882h3.4M1817 882.5h3.4M1823 882.5h3.4M1796.5 883h3.4M1850.5 883h3.4M1832 884h3.4M1804 885h3.4M1839.5 885h3.4M1865 885h3.4M1777 885.5h3.4M1814 885.5h3.4M1808.5 886h3.4M1814 886.5h3.4M1782 887h3.4M1786 887h3.4M1855 887h3.4M1766 887.5h3.4M1833 887.5h3.4M1834 887.5h3.4M1814.5 888h3.4M1816 888h3.4M1821.5 888h3.4M1838.5 888h3.4M1844.5 888h3.4M1868.5 888h3.4M1831 888.5h3.4M1841 888.5h3.4M1815.5 889h3.4M1836.5 889.5h3.4M1798.5 890h3.4M1804.5 890h3.4M1845 890h3.4M1793 890.5h3.4M1793.5 890.5h3.4M1808 890.5h3.4M1823 890.5h3.4M1832 890.5h3.4M1840.5 890.5h3.4M1847 890.5h3.4M1854.5 890.5h3.4M1863 890.5h3.4M1755 891h3.4M1817.5 891h3.4M1801 891.5h3.4M1807 891.5h3.4M1811.5 891.5h3.4M1825.5 891.5h3.4M1800.5 892h3.4M1801 892h3.4M1809 892h3.4M1841.5 892h3.4M1802.5 892.5h3.4M1839.5 892.5h3.4M1848.5 892.5h3.4M1780.5 893h3.4M1803 893h3.4M1809.5 893h3.4M1838 893h3.4M1773 893.5h3.4M1816 893.5h3.4M1779 894h3.4M1813 894h3.4M1833 894h3.4M1779.5 894.5h3.4M1789.5 894.5h3.4M1784.5 895h3.4M1810 895h3.4M1815.5 895h3.4M1821.5 895h3.4M1824 895h3.4M1836 895h3.4M1817.5 895.5h3.4M1806.5 896h3.4M1837 896h3.4M1796 896.5h3.4M1805.5 896.5h3.4M1843 896.5h3.4M1785 897h3.4M1831 897h3.4M1812.5 897.5h3.4M1822.5 897.5h3.4M1823.5 897.5h3.4M1792 898h3.4M1820.5 898h3.4M1826.5 898h3.4M1828 898h3.4M1832 898h3.4M1856.5 898h3.4M1882 898h3.4M1764 898.5h3.4M1779.5 898.5h3.4M1785 898.5h3.4M1812.5 898.5h3.4M1830 898.5h3.4M1749 899h3.4M1752 899h3.4M1799 899h3.4M1843.5 899h3.4M1807.5 899.5h3.4M1812.5 899.5h3.4M1841.5 899.5h3.4M1787.5 900h3.4M1815.5 900h3.4M1852 900h3.4M1777 900.5h3.4M1797.5 900.5h3.4M1822.5 900.5h3.4M1828 900.5h3.4M1829.5 900.5h3.4M1855.5 900.5h3.4M1793 901h3.4M1801 901h3.4M1812.5 901h3.4M1868 901h3.4M1800.5 901.5h3.4M1830 901.5h3.4M1832 901.5h3.4M1834 901.5h3.4M1801 902h3.4M1814 902h3.4M1818 902h3.4M1814 902.5h3.4M1828.5 902.5h3.4M1837.5 902.5h3.4M1842.5 902.5h3.4M1855 902.5h3.4M1793 903h3.4M1805 903h3.4M1819.5 903h3.4M1899.5 903h3.4M1778.5 903.5h3.4M1803.5 903.5h3.4M1814 903.5h3.4M1819 903.5h3.4M1840 903.5h3.4M1856 903.5h3.4M1810 904h3.4M1826 904h3.4M1843 904h3.4M1778.5 904.5h3.4M1795.5 904.5h3.4M1800.5 904.5h3.4M1807 904.5h3.4M1829.5 904.5h3.4M1833 904.5h3.4M1837.5 904.5h3.4M1739 905h3.4M1807 905h3.4M1808 905h3.4M1809 905h3.4M1809.5 905h3.4M1820 905h3.4M1830.5 905h3.4M1760.5 905.5h3.4M1793.5 905.5h3.4M1795 905.5h3.4M1796 905.5h3.4M1797 905.5h3.4M1800.5 905.5h3.4M1804.5 905.5h3.4M1816 905.5h3.4M1801.5 906h3.4M1814 906h3.4M1823 906h3.4M1828.5 906h3.4M1774 906.5h3.4M1780 906.5h3.4M1791 906.5h3.4M1797 906.5h3.4M1810 906.5h3.4M1819 906.5h3.4M1834.5 906.5h3.4M1767.5 907h3.4M1793.5 907h3.4M1796 907h3.4M1801.5 907h3.4M1805 907h3.4M1814 907h3.4M1791.5 907.5h3.4M1808 907.5h3.4M1836 907.5h3.4M1756 908h3.4M1778.5 908h3.4M1793.5 908h3.4M1824 908h3.4M1827 908h3.4M1829 908h3.4M1850.5 908h3.4M1852 908h3.4M1787.5 908.5h3.4M1794 908.5h3.4M1807.5 908.5h3.4M1819 908.5h3.4M1820 908.5h3.4M1823 908.5h3.4M1826.5 908.5h3.4M1808.5 909h3.4M1812 909h3.4M1815 909h3.4M1754.5 909.5h3.4M1776 909.5h3.4M1791 909.5h3.4M1821.5 909.5h3.4M1825 909.5h3.4M1850.5 909.5h3.4M1785.5 910h3.4M1817.5 910h3.4M1835 910h3.4M1859.5 910h3.4M1788 910.5h3.4M1807 910.5h3.4M1832.5 910.5h3.4M1836.5 910.5h3.4M1798 911h3.4M1800 911h3.4M1816.5 911h3.4M1786 911.5h3.4M1795 911.5h3.4M1797 911.5h3.4M1802.5 911.5h3.4M1807.5 911.5h3.4M1814 911.5h3.4M1818 911.5h3.4M1819 911.5h3.4M1822.5 911.5h3.4M1792.5 912h3.4M1805.5 912h3.4M1850.5 912h3.4M1785.5 912.5h3.4M1792 912.5h3.4M1794 912.5h3.4M1811.5 912.5h3.4M1825 912.5h3.4M1831 912.5h3.4M1834.5 912.5h3.4M1772 913h3.4M1778 913h3.4M1791 913h3.4M1803.5 913h3.4M1810 913h3.4M1819.5 913h3.4M1807.5 913.5h3.4M1813 913.5h3.4M1814.5 913.5h3.4M1819 913.5h3.4M1821.5 913.5h3.4M1822 913.5h3.4M1828.5 913.5h3.4M1847 913.5h3.4M1780.5 914h3.4M1792 914h3.4M1798.5 914h3.4M1808.5 914h3.4M1811.5 914h3.4M1815 914h3.4M1825.5 914h3.4M1829.5 914h3.4M1791.5 914.5h3.4M1792 914.5h3.4M1800.5 914.5h3.4M1803 914.5h3.4M1808.5 914.5h3.4M1821 914.5h3.4M1824 914.5h3.4M1757 915h3.4M1786.5 915h3.4M1813 915h3.4M1830 915h3.4M1831 915h3.4M1775 915.5h3.4M1799.5 915.5h3.4M1805.5 915.5h3.4M1815 915.5h3.4M1821 915.5h3.4M1788 916h3.4M1799.5 916h3.4M1802.5 916h3.4M1807.5 916h3.4M1811 916h3.4M1814.5 916h3.4M1819.5 916h3.4M1820.5 916h3.4M1788.5 916.5h3.4M1801.5 916.5h3.4M1809.5 916.5h3.4M1810 916.5h3.4M1839.5 916.5h3.4M1802 917h3.4M1820 917h3.4M1825 917h3.4M1833 917h3.4M1803.5 917.5h3.4M1806 917.5h3.4M1810 917.5h3.4M1822 917.5h3.4M1830.5 917.5h3.4M1832.5 917.5h3.4M1738.5 918h3.4M1796 918h3.4M1805.5 918h3.4M1817.5 918h3.4M1824 918h3.4M1819.5 918.5h3.4M1795.5 919h3.4M1799.5 919h3.4M1809.5 919h3.4M1813.5 919h3.4M1818 919h3.4M1827 919h3.4M1787.5 919.5h3.4M1796 919.5h3.4M1797.5 919.5h3.4M1803 919.5h3.4M1810 919.5h3.4M1780 920h3.4M1793 920h3.4M1825 920h3.4M1769.5 920.5h3.4M1786.5 920.5h3.4M1793 920.5h3.4M1805.5 920.5h3.4M1821.5 920.5h3.4M1835 920.5h3.4M1844 920.5h3.4M1855 920.5h3.4M1786 921h3.4M1798.5 921h3.4M1766 921.5h3.4M1777 921.5h3.4M1785 921.5h3.4M1788.5 921.5h3.4M1797 921.5h3.4M1803.5 921.5h3.4M1806.5 921.5h3.4M1840.5 921.5h3.4M1842 921.5h3.4M1782 922h3.4M1804.5 922h3.4M1827.5 922h3.4M1758 922.5h3.4M1775 922.5h3.4M1785.5 922.5h3.4M1788 922.5h3.4M1791.5 922.5h3.4M1798 922.5h3.4M1802 922.5h3.4M1807.5 922.5h3.4M1809.5 922.5h3.4M1814.5 922.5h3.4M1821.5 922.5h3.4M1822.5 922.5h3.4M1769.5 923h3.4M1773.5 923h3.4M1779 923h3.4M1808.5 923h3.4M1816.5 923h3.4M1763.5 923.5h3.4M1788 923.5h3.4M1807 923.5h3.4M1841 923.5h3.4M1777.5 924h3.4M1797 924h3.4M1797.5 924h3.4M1806 924h3.4M1808 924h3.4M1810.5 924h3.4M1811 924h3.4M1780.5 924.5h3.4M1800.5 924.5h3.4M1807 924.5h3.4M1767.5 925h3.4M1777 925h3.4M1788 925h3.4M1788.5 925h3.4M1789 925h3.4M1794 925h3.4M1803.5 925h3.4M1806.5 925h3.4M1814 925h3.4M1825 925h3.4M1775 925.5h3.4M1780 925.5h3.4M1792.5 925.5h3.4M1804 925.5h3.4M1810.5 925.5h3.4M1813.5 925.5h3.4M1827.5 925.5h3.4M1762.5 926h3.4M1783.5 926h3.4M1788.5 926h3.4M1819 926h3.4M1787.5 926.5h3.4M1791.5 926.5h3.4M1795.5 926.5h3.4M1816.5 926.5h3.4M1823.5 926.5h3.4M1776.5 927h3.4M1818.5 927h3.4M1831.5 927h3.4M1778 927.5h3.4M1782 927.5h3.4M1787.5 927.5h3.4M1788 927.5h3.4M1788.5 927.5h3.4M1791.5 927.5h3.4M1792 927.5h3.4M1797.5 927.5h3.4M1793 928h3.4M1810 928h3.4M1778 928.5h3.4M1792 928.5h3.4M1795 928.5h3.4M1796 928.5h3.4M1808.5 928.5h3.4M1814 928.5h3.4M1837.5 928.5h3.4M1787.5 929h3.4M1796.5 929h3.4M1797.5 929h3.4M1803 929h3.4M1804.5 929h3.4M1815.5 929h3.4M1776 929.5h3.4M1784 929.5h3.4M1795.5 929.5h3.4M1798 929.5h3.4M1833 929.5h3.4M1789.5 930h3.4M1795 930h3.4M1802.5 930h3.4M1803 930h3.4M1813 930h3.4M1865 930h3.4M1784 930.5h3.4M1803.5 930.5h3.4M1813 930.5h3.4M1823 930.5h3.4M1825 930.5h3.4M1778 931h3.4M1783.5 931h3.4M1801 931h3.4M1802 931h3.4M1803 931h3.4M1806.5 931h3.4M1814.5 931h3.4M1826 931h3.4M1773 931.5h3.4M1776 931.5h3.4M1778.5 931.5h3.4M1780.5 931.5h3.4M1781.5 931.5h3.4M1795.5 931.5h3.4M1801.5 931.5h3.4M1802.5 931.5h3.4M1808 931.5h3.4M1813.5 931.5h3.4M1815 931.5h3.4M1818 931.5h3.4M1828.5 931.5h3.4M1833.5 931.5h3.4M1780.5 932h3.4M1809.5 932h3.4M1814 932h3.4M1827.5 932h3.4M1789 932.5h3.4M1794 932.5h3.4M1772 933.5h3.4M1804 933.5h3.4M1806.5 933.5h3.4M1807.5 933.5h3.4M1808 933.5h3.4M1817.5 933.5h3.4M1774 934h3.4M1790.5 934h3.4M1794.5 934h3.4M1750 934.5h3.4M1760 934.5h3.4M1785.5 934.5h3.4M1789 934.5h3.4M1805 934.5h3.4M1807.5 934.5h3.4M1821 934.5h3.4M1779.5 935h3.4M1796.5 935h3.4M1806.5 935h3.4M1810 935h3.4M1829.5 935h3.4M1773.5 935.5h3.4M1782.5 935.5h3.4M1794 935.5h3.4M1798 935.5h3.4M1778.5 936h3.4M1787 936h3.4M1789 936h3.4M1798.5 936h3.4M1804 936h3.4M1806 936h3.4M1810 936h3.4M1760.5 936.5h3.4M1774 936.5h3.4M1780 936.5h3.4M1786.5 936.5h3.4M1790.5 936.5h3.4M1792.5 936.5h3.4M1755.5 937h3.4M1759.5 937h3.4M1776.5 937h3.4M1796 937h3.4M1798 937h3.4M1799.5 937h3.4M1803.5 937h3.4M1761.5 937.5h3.4M1782.5 937.5h3.4M1798 937.5h3.4M1825 937.5h3.4M1773 938h3.4M1781.5 938h3.4M1784.5 938h3.4M1786.5 938h3.4M1813.5 938h3.4M1772 938.5h3.4M1785.5 938.5h3.4M1801 938.5h3.4M1803.5 938.5h3.4M1815.5 938.5h3.4M1841.5 938.5h3.4M1850.5 938.5h3.4M1774.5 939h3.4M1776 939h3.4M1800 939h3.4M1799.5 939.5h3.4M1822 939.5h3.4M1832.5 939.5h3.4M1753.5 940h3.4M1785 940h3.4M1795 940h3.4M1796 940h3.4M1796.5 940h3.4M1819.5 940h3.4M1771.5 940.5h3.4M1786.5 940.5h3.4M1794.5 940.5h3.4M1806.5 940.5h3.4M1849.5 940.5h3.4M1787.5 941h3.4M1806.5 941h3.4M1746 941.5h3.4M1771 941.5h3.4M1775 941.5h3.4M1776.5 941.5h3.4M1778 941.5h3.4M1762.5 942h3.4M1770 942h3.4M1771.5 942h3.4M1797.5 942h3.4M1799 942h3.4M1800 942h3.4M1820 942h3.4M1823.5 942h3.4M1757 942.5h3.4M1774 942.5h3.4M1786 942.5h3.4M1796 942.5h3.4M1790.5 943h3.4" stroke="#000" stroke-width="3.4" fill="none" opacity="0.6"/>
<path d="M1848 778.5h3.4M1857.5 792h3.4M1764.5 809.5h3.4M1816.5 810h3.4M1789.5 814h3.4M1842 815.5h3.4M1815.5 818h3.4M1781 821.5h3.4M1790.5 821.5h3.4M1874.5 824h3.4M1748.5 825h3.4M1841.5 826h3.4M1745 832h3.4M1780.5 833h3.4M1781 833.5h3.4M1803.5 834h3.4M1755 835.5h3.4M1761.5 835.5h3.4M1789.5 837h3.4M1779 838h3.4M1872.5 838h3.4M1778.5 840h3.4M1773.5 842h3.4M1803 842h3.4M1837.5 842.5h3.4M1740 843h3.4M1762 844h3.4M1841 844.5h3.4M1771 845.5h3.4M1746 846h3.4M1747.5 846h3.4M1780 846h3.4M1776 846.5h3.4M1785 847.5h3.4M1831.5 848h3.4M1782.5 848.5h3.4M1776 849.5h3.4M1763 850.5h3.4M1817.5 851h3.4M1830.5 851h3.4M1810 851.5h3.4M1799 852h3.4M1747.5 852.5h3.4M1831.5 854.5h3.4M1836 854.5h3.4M1836.5 854.5h3.4M1881.5 854.5h3.4M1780 855h3.4M1759 856h3.4M1828.5 856.5h3.4M1854.5 857.5h3.4M1757.5 858.5h3.4M1777 861h3.4M1761.5 861.5h3.4M1805.5 862h3.4M1894 863h3.4M1768.5 863.5h3.4M1846.5 864h3.4M1738.5 865h3.4M1811 866h3.4M1860 866h3.4M1816.5 866.5h3.4M1756 868h3.4M1777 868h3.4M1800 868h3.4M1790 868.5h3.4M1764 870h3.4M1822 870h3.4M1854.5 870h3.4M1799.5 870.5h3.4M1840 870.5h3.4M1782 871h3.4M1788 871h3.4M1823 871h3.4M1832.5 871h3.4M1784 871.5h3.4M1780.5 872h3.4M1839 872.5h3.4M1850 872.5h3.4M1814 873.5h3.4M1832.5 873.5h3.4M1836 873.5h3.4M1756.5 874h3.4M1817 874h3.4M1856 874h3.4M1801.5 874.5h3.4M1821.5 874.5h3.4M1776 875.5h3.4M1788 875.5h3.4M1878.5 876.5h3.4M1822.5 877h3.4M1826.5 877h3.4M1848 877h3.4M1752 877.5h3.4M1825 877.5h3.4M1855 878h3.4M1768.5 878.5h3.4M1808 878.5h3.4M1849 878.5h3.4M1792.5 879h3.4M1805 879.5h3.4M1846.5 879.5h3.4M1849.5 879.5h3.4M1779 880h3.4M1841.5 880h3.4M1750.5 880.5h3.4M1836 881h3.4M1842 881h3.4M1800.5 881.5h3.4M1845 881.5h3.4M1813.5 882h3.4M1817 882h3.4M1819.5 882h3.4M1830 882.5h3.4M1846 882.5h3.4M1813 883h3.4M1816.5 883.5h3.4M1845 883.5h3.4M1800 884h3.4M1801 884h3.4M1817.5 884h3.4M1812 884.5h3.4M1813 884.5h3.4M1804.5 885h3.4M1829.5 885h3.4M1823.5 885.5h3.4M1830 885.5h3.4M1848.5 885.5h3.4M1870.5 885.5h3.4M1794.5 886h3.4M1823.5 886h3.4M1817 886.5h3.4M1822.5 886.5h3.4M1827.5 886.5h3.4M1838.5 886.5h3.4M1801 887h3.4M1808.5 887h3.4M1836 887h3.4M1786 887.5h3.4M1795.5 887.5h3.4M1825 887.5h3.4M1831 887.5h3.4M1855.5 887.5h3.4M1816 888h3.4M1815 888.5h3.4M1828.5 888.5h3.4M1865 888.5h3.4M1796 889h3.4M1811.5 889h3.4M1823.5 889h3.4M1824.5 889h3.4M1830 889h3.4M1853.5 889h3.4M1800 889.5h3.4M1843 889.5h3.4M1816 890h3.4M1816.5 890h3.4M1826.5 890h3.4M1813 890.5h3.4M1819.5 890.5h3.4M1843 890.5h3.4M1827 891h3.4M1841 891h3.4M1845.5 891h3.4M1847 891h3.4M1802.5 891.5h3.4M1836.5 891.5h3.4M1847.5 891.5h3.4M1807.5 892h3.4M1818 892h3.4M1794.5 892.5h3.4M1802.5 892.5h3.4M1817 892.5h3.4M1840 892.5h3.4M1878 892.5h3.4M1806.5 893h3.4M1827.5 893h3.4M1834.5 893h3.4M1792.5 893.5h3.4M1804 893.5h3.4M1825.5 893.5h3.4M1840.5 893.5h3.4M1800.5 894h3.4M1794 894.5h3.4M1800.5 894.5h3.4M1820 894.5h3.4M1831 894.5h3.4M1844.5 894.5h3.4M1855 894.5h3.4M1810 895h3.4M1867 895h3.4M1817.5 895.5h3.4M1822 895.5h3.4M1826 895.5h3.4M1827 895.5h3.4M1828 896h3.4M1833 896h3.4M1861.5 896h3.4M1820 896.5h3.4M1821.5 896.5h3.4M1826.5 896.5h3.4M1850 896.5h3.4M1805 897h3.4M1813 897h3.4M1829.5 897h3.4M1778.5 897.5h3.4M1784 897.5h3.4M1815 897.5h3.4M1822 897.5h3.4M1825 897.5h3.4M1798 898h3.4M1807.5 898h3.4M1875 898h3.4M1811.5 898.5h3.4M1814 898.5h3.4M1821.5 898.5h3.4M1840.5 898.5h3.4M1802 899h3.4M1812.5 899h3.4M1815 899h3.4M1829.5 899h3.4M1840.5 899h3.4M1805 899.5h3.4M1790 900h3.4M1799 900h3.4M1833.5 900h3.4M1866 900h3.4M1780.5 900.5h3.4M1789.5 900.5h3.4M1810 900.5h3.4M1823.5 900.5h3.4M1849.5 900.5h3.4M1800.5 901h3.4M1810 901h3.4M1851 901h3.4M1774.5 901.5h3.4M1784 901.5h3.4M1829.5 901.5h3.4M1832.5 901.5h3.4M1843.5 901.5h3.4M1775.5 902h3.4M1787 902h3.4M1791 902h3.4M1807.5 902h3.4M1812.5 902h3.4M1815.5 902h3.4M1824 902h3.4M1826.5 902h3.4M1832 902h3.4M1832.5 902h3.4M1887 902h3.4M1793 902.5h3.4M1803 902.5h3.4M1805 902.5h3.4M1839 902.5h3.4M1840 902.5h3.4M1846 902.5h3.4M1886.5 902.5h3.4M1792.5 903h3.4M1799 903h3.4M1801.5 903h3.4M1811 903h3.4M1819 903h3.4M1789.5 903.5h3.4M1791 903.5h3.4M1795.5 903.5h3.4M1806 903.5h3.4M1817 903.5h3.4M1824 903.5h3.4M1796 904h3.4M1819 904h3.4M1833 904h3.4M1750.5 904.5h3.4M1794 904.5h3.4M1800.5 904.5h3.4M1816 904.5h3.4M1819 904.5h3.4M1819.5 904.5h3.4M1832.5 904.5h3.4M1836 904.5h3.4M1778.5 905h3.4M1787 905h3.4M1801 905h3.4M1808.5 905h3.4M1799 905.5h3.4M1801 905.5h3.4M1805.5 905.5h3.4M1811 905.5h3.4M1823.5 905.5h3.4M1796 906h3.4M1798.5 906h3.4M1805 906h3.4M1808 906h3.4M1797.5 906.5h3.4M1812.5 906.5h3.4M1819 906.5h3.4M1827.5 906.5h3.4M1834.5 906.5h3.4M1849 906.5h3.4M1743.5 907h3.4M1780.5 907h3.4M1798 907h3.4M1799.5 907h3.4M1803 907h3.4M1804.5 907h3.4M1807 907h3.4M1811 907h3.4M1814 907h3.4M1816 907h3.4M1792.5 907.5h3.4M1796 907.5h3.4M1804 907.5h3.4M1807.5 908h3.4M1811.5 908h3.4M1817 908h3.4M1818 908h3.4M1821.5 908h3.4M1838 908h3.4M1779.5 908.5h3.4M1790.5 908.5h3.4M1797 908.5h3.4M1807 908.5h3.4M1813.5 908.5h3.4M1824.5 908.5h3.4M1825 908.5h3.4M1825.5 908.5h3.4M1828.5 908.5h3.4M1841 908.5h3.4M1805 909h3.4M1806 909h3.4M1810.5 909h3.4M1814 909h3.4M1843.5 909h3.4M1907 909h3.4M1790.5 909.5h3.4M1800 909.5h3.4M1808 909.5h3.4M1798.5 910h3.4M1800 910h3.4M1819.5 910h3.4M1844 910h3.4M1799.5 910.5h3.4M1812.5 910.5h3.4M1813.5 910.5h3.4M1820.5 910.5h3.4M1776.5 911h3.4M1785.5 911h3.4M1803 911h3.4M1807.5 911h3.4M1818 911h3.4M1778.5 911.5h3.4M1786.5 911.5h3.4M1812.5 911.5h3.4M1828.5 911.5h3.4M1760.5 912h3.4M1797 912h3.4M1809.5 912h3.4M1812 912h3.4M1813 912h3.4M1738.5 912.5h3.4M1791 912.5h3.4M1796 912.5h3.4M1807 912.5h3.4M1815.5 912.5h3.4M1819.5 912.5h3.4M1797 913h3.4M1803 913h3.4M1803.5 913h3.4M1830.5 913h3.4M1831 913h3.4M1832.5 913h3.4M1843.5 913h3.4M1787.5 913.5h3.4M1793.5 913.5h3.4M1818 913.5h3.4M1839 913.5h3.4M1841 913.5h3.4M1868 913.5h3.4M1889 913.5h3.4M1788.5 914h3.4M1794.5 914h3.4M1807.5 914h3.4M1808 914h3.4M1816 914h3.4M1821 914h3.4M1834 914h3.4M1799 914.5h3.4M1800 914.5h3.4M1804 914.5h3.4M1805 914.5h3.4M1822 914.5h3.4M1830.5 914.5h3.4M1741.5 915h3.4M1783 915h3.4M1789.5 915h3.4M1799.5 915h3.4M1805 915h3.4M1814.5 915h3.4M1794.5 915.5h3.4M1798.5 915.5h3.4M1822 915.5h3.4M1798 916h3.4M1823.5 916h3.4M1779 916.5h3.4M1780.5 916.5h3.4M1792.5 916.5h3.4M1804.5 916.5h3.4M1809 916.5h3.4M1816.5 916.5h3.4M1787 917h3.4M1804 917h3.4M1805 917h3.4M1818 917h3.4M1788.5 917.5h3.4M1789.5 917.5h3.4M1795 917.5h3.4M1825.5 917.5h3.4M1839 917.5h3.4M1772.5 918h3.4M1782.5 918h3.4M1787 918h3.4M1799.5 918h3.4M1810.5 918h3.4M1812 918h3.4M1790.5 918.5h3.4M1795 918.5h3.4M1796 918.5h3.4M1805 918.5h3.4M1809.5 918.5h3.4M1819.5 918.5h3.4M1824.5 918.5h3.4M1825.5 918.5h3.4M1783.5 919h3.4M1790.5 919h3.4M1792.5 919h3.4M1798 919h3.4M1807.5 919h3.4M1809.5 919h3.4M1812.5 919h3.4M1814 919h3.4M1832 919h3.4M1776 919.5h3.4M1815 919.5h3.4M1818 919.5h3.4M1823.5 919.5h3.4M1789.5 920h3.4M1795 920h3.4M1798 920h3.4M1798.5 920h3.4M1801 920h3.4M1783 920.5h3.4M1798.5 920.5h3.4M1803.5 920.5h3.4M1824.5 920.5h3.4M1833.5 920.5h3.4M1775.5 921h3.4M1809 921h3.4M1814 921h3.4M1815.5 921h3.4M1816.5 921h3.4M1840.5 921h3.4M1782.5 921.5h3.4M1783 921.5h3.4M1796 921.5h3.4M1797 921.5h3.4M1798.5 921.5h3.4M1811.5 921.5h3.4M1812.5 921.5h3.4M1815 921.5h3.4M1776.5 922h3.4M1778.5 922h3.4M1782 922h3.4M1785 922h3.4M1788.5 922h3.4M1809 922h3.4M1816.5 922h3.4M1825 922h3.4M1755.5 922.5h3.4M1759.5 922.5h3.4M1785.5 922.5h3.4M1794 922.5h3.4M1811 922.5h3.4M1812.5 922.5h3.4M1784.5 923h3.4M1791.5 923h3.4M1809.5 923h3.4M1818 923h3.4M1825.5 923h3.4M1804.5 923.5h3.4M1812.5 923.5h3.4M1817.5 923.5h3.4M1820.5 923.5h3.4M1781.5 924h3.4M1803 924h3.4M1806 924h3.4M1813.5 924h3.4M1826 924h3.4M1760 924.5h3.4M1780.5 924.5h3.4M1787.5 924.5h3.4M1794 924.5h3.4M1800 924.5h3.4M1804.5 924.5h3.4M1805 924.5h3.4M1806 924.5h3.4M1807.5 924.5h3.4M1813.5 924.5h3.4M1814 924.5h3.4M1817.5 924.5h3.4M1819 924.5h3.4M1800 925h3.4M1810 925h3.4M1824.5 925h3.4M1789 925.5h3.4M1791 925.5h3.4M1799 925.5h3.4M1801 925.5h3.4M1806.5 925.5h3.4M1811.5 925.5h3.4M1794 926h3.4M1797 926h3.4M1808 926h3.4M1830.5 926h3.4M1804.5 926.5h3.4M1808 926.5h3.4M1817 926.5h3.4M1823 926.5h3.4M1782 927h3.4M1790.5 927h3.4M1799 927h3.4M1803.5 927h3.4M1807.5 927h3.4M1810 927h3.4M1783 927.5h3.4M1786.5 927.5h3.4M1789 927.5h3.4M1791.5 927.5h3.4M1794 927.5h3.4M1795 927.5h3.4M1799 927.5h3.4M1761.5 928h3.4M1782.5 928h3.4M1790.5 928h3.4M1806.5 928h3.4M1807 928h3.4M1829 928h3.4M1803 928.5h3.4M1815 928.5h3.4M1820 928.5h3.4M1822 928.5h3.4M1788.5 929h3.4M1789.5 929h3.4M1797 929h3.4M1766.5 929.5h3.4M1774 929.5h3.4M1777 929.5h3.4M1789.5 929.5h3.4M1794 929.5h3.4M1809.5 929.5h3.4M1791.5 930h3.4M1798.5 930h3.4M1805 930h3.4M1808.5 930h3.4M1813.5 930h3.4M1820.5 930h3.4M1826 930h3.4M1773 930.5h3.4M1780 930.5h3.4M1782.5 930.5h3.4M1790.5 930.5h3.4M1791.5 930.5h3.4M1803.5 930.5h3.4M1813 930.5h3.4M1784.5 931h3.4M1794 931h3.4M1816.5 931h3.4M1822 931h3.4M1822.5 931h3.4M1826.5 931h3.4M1829 931h3.4M1766.5 931.5h3.4M1791.5 931.5h3.4M1799 931.5h3.4M1823 931.5h3.4M1781 932h3.4M1794.5 932h3.4M1801.5 932h3.4M1804 932h3.4M1823.5 932h3.4M1829 932h3.4M1772.5 932.5h3.4M1788 932.5h3.4M1806 932.5h3.4M1812 932.5h3.4M1784 933h3.4M1788.5 933h3.4M1795 933h3.4M1805 933h3.4M1748.5 933.5h3.4M1782.5 933.5h3.4M1774.5 934h3.4M1782 934h3.4M1783 934h3.4M1786 934h3.4M1790.5 934h3.4M1793 934h3.4M1795 934h3.4M1797 934h3.4M1812.5 934h3.4M1825 934h3.4M1759.5 934.5h3.4M1774 934.5h3.4M1786 934.5h3.4M1800 934.5h3.4M1808 934.5h3.4M1821.5 934.5h3.4M1783.5 935h3.4M1795 935h3.4M1796.5 935h3.4M1811 935h3.4M1827 935h3.4M1771 935.5h3.4M1800.5 935.5h3.4M1822 935.5h3.4M1822.5 935.5h3.4M1850 935.5h3.4M1798 936h3.4M1804.5 936h3.4M1815 936h3.4M1781.5 936.5h3.4M1794.5 936.5h3.4M1796 936.5h3.4M1777 937h3.4M1780 937h3.4M1794.5 937h3.4M1815.5 937h3.4M1821 937h3.4M1821.5 937h3.4M1776 937.5h3.4M1792 937.5h3.4M1802 937.5h3.4M1802.5 937.5h3.4M1767 938h3.4M1774 938h3.4M1788.5 938h3.4M1789.5 938h3.4M1802.5 938h3.4M1771.5 938.5h3.4M1779 938.5h3.4M1788 938.5h3.4M1793.5 938.5h3.4M1796.5 938.5h3.4M1770 939h3.4M1800 939h3.4M1802 939h3.4M1810 939h3.4M1812 939h3.4M1830 939h3.4M1783 939.5h3.4M1785.5 939.5h3.4M1799 939.5h3.4M1808.5 939.5h3.4M1815 939.5h3.4M1821.5 939.5h3.4M1757.5 940h3.4M1785.5 940h3.4M1787.5 940h3.4M1797 940h3.4M1797.5 940h3.4M1807 940h3.4M1812.5 940h3.4M1816.5 940h3.4M1787.5 940.5h3.4M1793 940.5h3.4M1804 940.5h3.4M1769 941h3.4M1774 941h3.4M1776.5 941h3.4M1780.5 941h3.4M1781 941h3.4M1787 941h3.4M1802 941h3.4M1806 941h3.4M1807.5 941h3.4M1813.5 941h3.4M1779 941.5h3.4M1782.5 941.5h3.4M1816.5 941.5h3.4M1768 942h3.4M1773.5 942h3.4M1775.5 942h3.4M1789 942h3.4M1793.5 942h3.4M1802.5 942h3.4M1811 942h3.4M1788.5 942.5h3.4M1793.5 942.5h3.4M1799.5 942.5h3.4M1815 942.5h3.4M1782.5 943h3.4" stroke="#000" stroke-width="3.4" fill="none" opacity="0.6"/>
<rect x="1591.60" y="721.00" width="391.60" height="3.20" fill="#000"/>
<rect x="1591.60" y="721.00" width="3.00" height="344.60" fill="#000"/>
<rect x="1591.60" y="1061.60" width="391.60" height="4.00" fill="#000"/>
<rect x="1981.20" y="721.00" width="2.00" height="344.60" fill="#000"/>
<rect x="1591.60" y="949.00" width="391.60" height="3.00" fill="#000"/>
<rect x="1737.00" y="721.00" width="3.00" height="344.60" fill="#000"/>
<rect x="1594.10" y="1035.89" width="6.00" height="2.40" fill="#000"/>
<rect x="1620.39" y="1055.60" width="3.80" height="6.50" fill="#000"/>
<rect x="1594.10" y="1021.03" width="6.00" height="2.40" fill="#000"/>
<rect x="1637.52" y="1055.60" width="3.80" height="6.50" fill="#000"/>
<rect x="1594.10" y="1010.49" width="6.00" height="2.40" fill="#000"/>
<rect x="1649.68" y="1055.60" width="3.80" height="6.50" fill="#000"/>
<rect x="1594.10" y="1002.31" width="6.00" height="2.40" fill="#000"/>
<rect x="1659.11" y="1055.60" width="3.80" height="6.50" fill="#000"/>
<rect x="1594.10" y="995.62" width="6.00" height="2.40" fill="#000"/>
<rect x="1666.81" y="1055.60" width="3.80" height="6.50" fill="#000"/>
<rect x="1594.10" y="989.97" width="6.00" height="2.40" fill="#000"/>
<rect x="1673.33" y="1055.60" width="3.80" height="6.50" fill="#000"/>
<rect x="1594.10" y="985.08" width="6.00" height="2.40" fill="#000"/>
<rect x="1678.97" y="1055.60" width="3.80" height="6.50" fill="#000"/>
<rect x="1594.10" y="980.76" width="6.00" height="2.40" fill="#000"/>
<rect x="1683.95" y="1055.60" width="3.80" height="6.50" fill="#000"/>
<rect x="1594.10" y="976.90" width="10.50" height="2.40" fill="#000"/>
<rect x="1688.40" y="1050.60" width="3.80" height="11.50" fill="#000"/>
<rect x="1594.10" y="951.49" width="6.00" height="2.40" fill="#000"/>
<rect x="1717.69" y="1055.60" width="3.80" height="6.50" fill="#000"/>
<rect x="1594.10" y="936.63" width="6.00" height="2.40" fill="#000"/>
<rect x="1734.82" y="1055.60" width="3.80" height="6.50" fill="#000"/>
<rect x="1594.10" y="926.09" width="6.00" height="2.40" fill="#000"/>
<rect x="1746.98" y="1055.60" width="3.80" height="6.50" fill="#000"/>
<rect x="1594.10" y="917.91" width="6.00" height="2.40" fill="#000"/>
<rect x="1756.41" y="1055.60" width="3.80" height="6.50" fill="#000"/>
<rect x="1594.10" y="911.22" width="6.00" height="2.40" fill="#000"/>
<rect x="1764.11" y="1055.60" width="3.80" height="6.50" fill="#000"/>
<rect x="1594.10" y="905.57" width="6.00" height="2.40" fill="#000"/>
<rect x="1770.63" y="1055.60" width="3.80" height="6.50" fill="#000"/>
<rect x="1594.10" y="900.68" width="6.00" height="2.40" fill="#000"/>
<rect x="1776.27" y="1055.60" width="3.80" height="6.50" fill="#000"/>
<rect x="1594.10" y="896.36" width="6.00" height="2.40" fill="#000"/>
<rect x="1781.25" y="1055.60" width="3.80" height="6.50" fill="#000"/>
<rect x="1594.10" y="892.50" width="10.50" height="2.40" fill="#000"/>
<rect x="1785.70" y="1050.60" width="3.80" height="11.50" fill="#000"/>
<rect x="1594.10" y="867.09" width="6.00" height="2.40" fill="#000"/>
<rect x="1814.99" y="1055.60" width="3.80" height="6.50" fill="#000"/>
<rect x="1594.10" y="852.23" width="6.00" height="2.40" fill="#000"/>
<rect x="1832.12" y="1055.60" width="3.80" height="6.50" fill="#000"/>
<rect x="1594.10" y="841.69" width="6.00" height="2.40" fill="#000"/>
<rect x="1844.28" y="1055.60" width="3.80" height="6.50" fill="#000"/>
<rect x="1594.10" y="833.51" width="6.00" height="2.40" fill="#000"/>
<rect x="1853.71" y="1055.60" width="3.80" height="6.50" fill="#000"/>
<rect x="1594.10" y="826.82" width="6.00" height="2.40" fill="#000"/>
<rect x="1861.41" y="1055.60" width="3.80" height="6.50" fill="#000"/>
<rect x="1594.10" y="821.17" width="6.00" height="2.40" fill="#000"/>
<rect x="1867.93" y="1055.60" width="3.80" height="6.50" fill="#000"/>
<rect x="1594.10" y="816.28" width="6.00" height="2.40" fill="#000"/>
<rect x="1873.57" y="1055.60" width="3.80" height="6.50" fill="#000"/>
<rect x="1594.10" y="811.96" width="6.00" height="2.40" fill="#000"/>
<rect x="1878.55" y="1055.60" width="3.80" height="6.50" fill="#000"/>
<rect x="1594.10" y="808.10" width="10.50" height="2.40" fill="#000"/>
<rect x="1883.00" y="1050.60" width="3.80" height="11.50" fill="#000"/>
<rect x="1594.10" y="782.69" width="6.00" height="2.40" fill="#000"/>
<rect x="1912.29" y="1055.60" width="3.80" height="6.50" fill="#000"/>
<rect x="1594.10" y="767.83" width="6.00" height="2.40" fill="#000"/>
<rect x="1929.42" y="1055.60" width="3.80" height="6.50" fill="#000"/>
<rect x="1594.10" y="757.29" width="6.00" height="2.40" fill="#000"/>
<rect x="1941.58" y="1055.60" width="3.80" height="6.50" fill="#000"/>
<rect x="1594.10" y="749.11" width="6.00" height="2.40" fill="#000"/>
<rect x="1951.01" y="1055.60" width="3.80" height="6.50" fill="#000"/>
<rect x="1594.10" y="742.42" width="6.00" height="2.40" fill="#000"/>
<rect x="1958.71" y="1055.60" width="3.80" height="6.50" fill="#000"/>
<rect x="1594.10" y="736.77" width="6.00" height="2.40" fill="#000"/>
<rect x="1965.23" y="1055.60" width="3.80" height="6.50" fill="#000"/>
<rect x="1594.10" y="731.88" width="6.00" height="2.40" fill="#000"/>
<rect x="1970.87" y="1055.60" width="3.80" height="6.50" fill="#000"/>
<rect x="1975.85" y="1055.60" width="3.80" height="6.50" fill="#000"/>
<rect x="1732.80" y="720.80" width="243.80" height="227.80" fill="none" stroke="#000" stroke-width="8.8"/>
<text transform="translate(111.70 462.80) scale(0.9 1)" font-size="23.3" stroke="#000" stroke-width="1.1">10<tspan dx="2.2" dy="-7.6" font-size="16.0" stroke-width="0.4">0</tspan></text>
<text transform="translate(143.00 485.80) scale(0.9 1)" font-size="23.3" stroke="#000" stroke-width="1.1">10<tspan dx="2.2" dy="-7.6" font-size="16.0" stroke-width="0.4">0</tspan></text>
<text transform="translate(111.70 378.75) scale(0.9 1)" font-size="23.3" stroke="#000" stroke-width="1.1">10<tspan dx="2.2" dy="-7.6" font-size="16.0" stroke-width="0.4">1</tspan></text>
<text transform="translate(240.15 485.80) scale(0.9 1)" font-size="23.3" stroke="#000" stroke-width="1.1">10<tspan dx="2.2" dy="-7.6" font-size="16.0" stroke-width="0.4">1</tspan></text>
<text transform="translate(111.70 294.70) scale(0.9 1)" font-size="23.3" stroke="#000" stroke-width="1.1">10<tspan dx="2.2" dy="-7.6" font-size="16.0" stroke-width="0.4">2</tspan></text>
<text transform="translate(337.30 485.80) scale(0.9 1)" font-size="23.3" stroke="#000" stroke-width="1.1">10<tspan dx="2.2" dy="-7.6" font-size="16.0" stroke-width="0.4">2</tspan></text>
<text transform="translate(111.70 210.65) scale(0.9 1)" font-size="23.3" stroke="#000" stroke-width="1.1">10<tspan dx="2.2" dy="-7.6" font-size="16.0" stroke-width="0.4">3</tspan></text>
<text transform="translate(434.45 485.80) scale(0.9 1)" font-size="23.3" stroke="#000" stroke-width="1.1">10<tspan dx="2.2" dy="-7.6" font-size="16.0" stroke-width="0.4">3</tspan></text>
<text transform="translate(111.70 126.60) scale(0.9 1)" font-size="23.3" stroke="#000" stroke-width="1.1">10<tspan dx="2.2" dy="-11.5" font-size="16.0" stroke-width="0.4">4</tspan></text>
<text transform="translate(531.60 485.80) scale(0.9 1)" font-size="23.3" stroke="#000" stroke-width="1.1">10<tspan dx="2.2" dy="-7.6" font-size="16.0" stroke-width="0.4">4</tspan></text>
<text transform="translate(896.20 463.00) scale(0.85 1)" font-size="25" stroke="#000" stroke-width="0.5">10<tspan dx="2" dy="-8.6" font-size="16" stroke-width="0.4">0</tspan></text>
<text transform="translate(927.80 485.80) scale(0.85 1)" font-size="25" stroke="#000" stroke-width="0.5">10<tspan dx="0.6" dy="-7.5" font-size="16" stroke-width="0.4">0</tspan></text>
<text transform="translate(896.20 379.00) scale(0.85 1)" font-size="25" stroke="#000" stroke-width="0.5">10<tspan dx="2" dy="-8.6" font-size="16" stroke-width="0.4">1</tspan></text>
<text transform="translate(1024.95 485.80) scale(0.85 1)" font-size="25" stroke="#000" stroke-width="0.5">10<tspan dx="0.6" dy="-7.5" font-size="16" stroke-width="0.4">1</tspan></text>
<text transform="translate(896.20 295.00) scale(0.85 1)" font-size="25" stroke="#000" stroke-width="0.5">10<tspan dx="2" dy="-8.6" font-size="16" stroke-width="0.4">2</tspan></text>
<text transform="translate(1122.10 485.80) scale(0.85 1)" font-size="25" stroke="#000" stroke-width="0.5">10<tspan dx="0.6" dy="-7.5" font-size="16" stroke-width="0.4">2</tspan></text>
<text transform="translate(896.20 211.00) scale(0.85 1)" font-size="25" stroke="#000" stroke-width="0.5">10<tspan dx="2" dy="-8.6" font-size="16" stroke-width="0.4">3</tspan></text>
<text transform="translate(1219.25 485.80) scale(0.85 1)" font-size="25" stroke="#000" stroke-width="0.5">10<tspan dx="0.6" dy="-7.5" font-size="16" stroke-width="0.4">3</tspan></text>
<text transform="translate(896.20 127.00) scale(0.85 1)" font-size="25" stroke="#000" stroke-width="0.5">10<tspan dx="2" dy="-12.9" font-size="16" stroke-width="0.4">4</tspan></text>
<text transform="translate(1316.40 485.80) scale(0.85 1)" font-size="25" stroke="#000" stroke-width="0.5">10<tspan dx="0.6" dy="-7.5" font-size="16" stroke-width="0.4">4</tspan></text>
<text transform="translate(1542.70 463.00) scale(0.85 1)" font-size="25" stroke="#000" stroke-width="0.9">10<tspan dx="2" dy="-8.6" font-size="16" stroke-width="0.4">0</tspan></text>
<text transform="translate(1575.50 485.80) scale(0.85 1)" font-size="25" stroke="#000" stroke-width="0.9">10<tspan dx="0.6" dy="-7.5" font-size="16" stroke-width="0.4">0</tspan></text>
<text transform="translate(1542.70 379.00) scale(0.85 1)" font-size="25" stroke="#000" stroke-width="0.9">10<tspan dx="2" dy="-8.6" font-size="16" stroke-width="0.4">1</tspan></text>
<text transform="translate(1672.65 485.80) scale(0.85 1)" font-size="25" stroke="#000" stroke-width="0.9">10<tspan dx="0.6" dy="-7.5" font-size="16" stroke-width="0.4">1</tspan></text>
<text transform="translate(1542.70 295.00) scale(0.85 1)" font-size="25" stroke="#000" stroke-width="0.9">10<tspan dx="2" dy="-8.6" font-size="16" stroke-width="0.4">2</tspan></text>
<text transform="translate(1769.80 485.80) scale(0.85 1)" font-size="25" stroke="#000" stroke-width="0.9">10<tspan dx="0.6" dy="-7.5" font-size="16" stroke-width="0.4">2</tspan></text>
<text transform="translate(1542.70 211.00) scale(0.85 1)" font-size="25" stroke="#000" stroke-width="0.9">10<tspan dx="2" dy="-8.6" font-size="16" stroke-width="0.4">3</tspan></text>
<text transform="translate(1866.95 485.80) scale(0.85 1)" font-size="25" stroke="#000" stroke-width="0.9">10<tspan dx="0.6" dy="-7.5" font-size="16" stroke-width="0.4">3</tspan></text>
<text transform="translate(1542.70 127.00) scale(0.85 1)" font-size="25" stroke="#000" stroke-width="0.9">10<tspan dx="2" dy="-12.9" font-size="16" stroke-width="0.4">4</tspan></text>
<text transform="translate(1964.10 485.80) scale(0.85 1)" font-size="25" stroke="#000" stroke-width="0.9">10<tspan dx="0.6" dy="-7.5" font-size="16" stroke-width="0.4">4</tspan></text>
<text transform="translate(111.70 1070.60) scale(0.9 1)" font-size="23.3" stroke="#000" stroke-width="0.6">10<tspan dx="2.2" dy="-7.6" font-size="16.0" stroke-width="0.4">0</tspan></text>
<text transform="translate(143.00 1094.40) scale(0.9 1)" font-size="23.3" stroke="#000" stroke-width="0.6">10<tspan dx="2.2" dy="-7.6" font-size="16.0" stroke-width="0.4">0</tspan></text>
<text transform="translate(111.70 986.55) scale(0.9 1)" font-size="23.3" stroke="#000" stroke-width="0.6">10<tspan dx="2.2" dy="-7.6" font-size="16.0" stroke-width="0.4">1</tspan></text>
<text transform="translate(240.15 1094.40) scale(0.9 1)" font-size="23.3" stroke="#000" stroke-width="0.6">10<tspan dx="2.2" dy="-7.6" font-size="16.0" stroke-width="0.4">1</tspan></text>
<text transform="translate(111.70 902.50) scale(0.9 1)" font-size="23.3" stroke="#000" stroke-width="0.6">10<tspan dx="2.2" dy="-7.6" font-size="16.0" stroke-width="0.4">2</tspan></text>
<text transform="translate(337.30 1094.40) scale(0.9 1)" font-size="23.3" stroke="#000" stroke-width="0.6">10<tspan dx="2.2" dy="-7.6" font-size="16.0" stroke-width="0.4">2</tspan></text>
<text transform="translate(111.70 818.45) scale(0.9 1)" font-size="23.3" stroke="#000" stroke-width="0.6">10<tspan dx="2.2" dy="-7.6" font-size="16.0" stroke-width="0.4">3</tspan></text>
<text transform="translate(434.45 1094.40) scale(0.9 1)" font-size="23.3" stroke="#000" stroke-width="0.6">10<tspan dx="2.2" dy="-7.6" font-size="16.0" stroke-width="0.4">3</tspan></text>
<text transform="translate(111.70 734.40) scale(0.9 1)" font-size="23.3" stroke="#000" stroke-width="0.6">10<tspan dx="2.2" dy="-11.5" font-size="16.0" stroke-width="0.4">4</tspan></text>
<text transform="translate(531.60 1094.40) scale(0.9 1)" font-size="23.3" stroke="#000" stroke-width="0.6">10<tspan dx="2.2" dy="-7.6" font-size="16.0" stroke-width="0.4">4</tspan></text>
<text transform="translate(896.20 1071.00) scale(0.85 1)" font-size="25" stroke="#000" stroke-width="0.9">10<tspan dx="2" dy="-8.6" font-size="16" stroke-width="0.4">0</tspan></text>
<text transform="translate(927.80 1093.80) scale(0.85 1)" font-size="25" stroke="#000" stroke-width="0.9">10<tspan dx="0.6" dy="-7.5" font-size="16" stroke-width="0.4">0</tspan></text>
<text transform="translate(896.20 987.00) scale(0.85 1)" font-size="25" stroke="#000" stroke-width="0.9">10<tspan dx="2" dy="-8.6" font-size="16" stroke-width="0.4">1</tspan></text>
<text transform="translate(1024.95 1093.80) scale(0.85 1)" font-size="25" stroke="#000" stroke-width="0.9">10<tspan dx="0.6" dy="-7.5" font-size="16" stroke-width="0.4">1</tspan></text>
<text transform="translate(896.20 903.00) scale(0.85 1)" font-size="25" stroke="#000" stroke-width="0.9">10<tspan dx="2" dy="-8.6" font-size="16" stroke-width="0.4">2</tspan></text>
<text transform="translate(1122.10 1093.80) scale(0.85 1)" font-size="25" stroke="#000" stroke-width="0.9">10<tspan dx="0.6" dy="-7.5" font-size="16" stroke-width="0.4">2</tspan></text>
<text transform="translate(896.20 819.00) scale(0.85 1)" font-size="25" stroke="#000" stroke-width="0.9">10<tspan dx="2" dy="-8.6" font-size="16" stroke-width="0.4">3</tspan></text>
<text transform="translate(1219.25 1093.80) scale(0.85 1)" font-size="25" stroke="#000" stroke-width="0.9">10<tspan dx="0.6" dy="-7.5" font-size="16" stroke-width="0.4">3</tspan></text>
<text transform="translate(896.20 735.00) scale(0.85 1)" font-size="25" stroke="#000" stroke-width="0.9">10<tspan dx="2" dy="-12.9" font-size="16" stroke-width="0.4">4</tspan></text>
<text transform="translate(1316.40 1093.80) scale(0.85 1)" font-size="25" stroke="#000" stroke-width="0.9">10<tspan dx="0.6" dy="-7.5" font-size="16" stroke-width="0.4">4</tspan></text>
<text transform="translate(1542.80 1071.00) scale(0.85 1)" font-size="25" stroke="#000" stroke-width="0.9">10<tspan dx="2" dy="-8.6" font-size="16" stroke-width="0.4">0</tspan></text>
<text transform="translate(1575.50 1093.80) scale(0.85 1)" font-size="25" stroke="#000" stroke-width="0.9">10<tspan dx="0.6" dy="-7.5" font-size="16" stroke-width="0.4">0</tspan></text>
<text transform="translate(1542.80 987.00) scale(0.85 1)" font-size="25" stroke="#000" stroke-width="0.9">10<tspan dx="2" dy="-8.6" font-size="16" stroke-width="0.4">1</tspan></text>
<text transform="translate(1672.65 1093.80) scale(0.85 1)" font-size="25" stroke="#000" stroke-width="0.9">10<tspan dx="0.6" dy="-7.5" font-size="16" stroke-width="0.4">1</tspan></text>
<text transform="translate(1542.80 903.00) scale(0.85 1)" font-size="25" stroke="#000" stroke-width="0.9">10<tspan dx="2" dy="-8.6" font-size="16" stroke-width="0.4">2</tspan></text>
<text transform="translate(1769.80 1093.80) scale(0.85 1)" font-size="25" stroke="#000" stroke-width="0.9">10<tspan dx="0.6" dy="-7.5" font-size="16" stroke-width="0.4">2</tspan></text>
<text transform="translate(1542.80 819.00) scale(0.85 1)" font-size="25" stroke="#000" stroke-width="0.9">10<tspan dx="2" dy="-8.6" font-size="16" stroke-width="0.4">3</tspan></text>
<text transform="translate(1866.95 1093.80) scale(0.85 1)" font-size="25" stroke="#000" stroke-width="0.9">10<tspan dx="0.6" dy="-7.5" font-size="16" stroke-width="0.4">3</tspan></text>
<text transform="translate(1542.80 735.00) scale(0.85 1)" font-size="25" stroke="#000" stroke-width="0.9">10<tspan dx="2" dy="-12.9" font-size="16" stroke-width="0.4">4</tspan></text>
<text transform="translate(1964.10 1093.80) scale(0.85 1)" font-size="25" stroke="#000" stroke-width="0.9">10<tspan dx="0.6" dy="-7.5" font-size="16" stroke-width="0.4">4</tspan></text>
<text transform="translate(33 282.5) rotate(-90)" font-size="34.2" text-anchor="middle" textLength="125.7" lengthAdjust="spacingAndGlyphs" stroke="#000" stroke-width="0.3">MARCO</text>
<text transform="translate(83 281.8) rotate(-90)" font-size="25.3" text-anchor="middle" textLength="72.4" lengthAdjust="spacingAndGlyphs" stroke="#000" stroke-width="0.5">FL2–H</text>
<text x="346" y="531.7" font-size="25.3" text-anchor="middle" textLength="72.3" lengthAdjust="spacingAndGlyphs" stroke="#000" stroke-width="0.5">FL4–H</text>
<text x="343.6" y="595.0" font-size="34.2" text-anchor="middle" textLength="119.5" lengthAdjust="spacingAndGlyphs" stroke="#000" stroke-width="0.3">SIGNR1</text>
<text transform="translate(33 895.0) rotate(-90)" font-size="34.2" text-anchor="middle" textLength="125.7" lengthAdjust="spacingAndGlyphs" stroke="#000" stroke-width="0.3">MARCO</text>
<text transform="translate(83 890.3) rotate(-90)" font-size="25.3" text-anchor="middle" textLength="72.4" lengthAdjust="spacingAndGlyphs" stroke="#000" stroke-width="0.5">FL2–H</text>
<text x="346" y="1144.2" font-size="25.3" text-anchor="middle" textLength="72.3" lengthAdjust="spacingAndGlyphs" stroke="#000" stroke-width="0.5">FL4–H</text>
<text x="343.6" y="1207.5" font-size="34.2" text-anchor="middle" textLength="119.5" lengthAdjust="spacingAndGlyphs" stroke="#000" stroke-width="0.3">SIGNR1</text>
<text transform="translate(816.5 282.5) rotate(-90)" font-size="34.2" text-anchor="middle" textLength="125.7" lengthAdjust="spacingAndGlyphs" stroke="#000" stroke-width="0.3">MARCO</text>
<text transform="translate(866.7 281.8) rotate(-90)" font-size="25.3" text-anchor="middle" textLength="72.4" lengthAdjust="spacingAndGlyphs" stroke="#000" stroke-width="0.5">FL2–H</text>
<text x="1130.5" y="531.7" font-size="25.3" text-anchor="middle" textLength="72.3" lengthAdjust="spacingAndGlyphs" stroke="#000" stroke-width="0.5">FL1–H</text>
<text x="1137.3" y="595.0" font-size="34.2" text-anchor="middle" textLength="60.5" lengthAdjust="spacingAndGlyphs" stroke="#000" stroke-width="0.3">H–2</text>
<text transform="translate(816.5 895.0) rotate(-90)" font-size="34.2" text-anchor="middle" textLength="125.7" lengthAdjust="spacingAndGlyphs" stroke="#000" stroke-width="0.3">MARCO</text>
<text transform="translate(866.7 890.3) rotate(-90)" font-size="25.3" text-anchor="middle" textLength="72.4" lengthAdjust="spacingAndGlyphs" stroke="#000" stroke-width="0.5">FL2–H</text>
<text x="1130.5" y="1144.2" font-size="25.3" text-anchor="middle" textLength="72.3" lengthAdjust="spacingAndGlyphs" stroke="#000" stroke-width="0.5">FL1–H</text>
<text x="1137.3" y="1207.5" font-size="34.2" text-anchor="middle" textLength="60.5" lengthAdjust="spacingAndGlyphs" stroke="#000" stroke-width="0.3">H–2</text>
<text transform="translate(1467.5 284.0) rotate(-90)" font-size="34.2" text-anchor="middle" textLength="121.5" lengthAdjust="spacingAndGlyphs" stroke="#000" stroke-width="0.3">SIGNR1</text>
<text transform="translate(1513.5 281.8) rotate(-90)" font-size="25.3" text-anchor="middle" textLength="72.4" lengthAdjust="spacingAndGlyphs" stroke="#000" stroke-width="0.5">FL2–H</text>
<text x="1777" y="531.7" font-size="25.3" text-anchor="middle" textLength="72.3" lengthAdjust="spacingAndGlyphs" stroke="#000" stroke-width="0.5">FL1–H</text>
<text x="1786" y="595.0" font-size="34.2" text-anchor="middle" textLength="60.5" lengthAdjust="spacingAndGlyphs" stroke="#000" stroke-width="0.3">H–2</text>
<text transform="translate(1467.5 896.5) rotate(-90)" font-size="34.2" text-anchor="middle" textLength="121.5" lengthAdjust="spacingAndGlyphs" stroke="#000" stroke-width="0.3">SIGNR1</text>
<text transform="translate(1513.5 890.3) rotate(-90)" font-size="25.3" text-anchor="middle" textLength="72.4" lengthAdjust="spacingAndGlyphs" stroke="#000" stroke-width="0.5">FL2–H</text>
<text x="1777" y="1144.2" font-size="25.3" text-anchor="middle" textLength="72.3" lengthAdjust="spacingAndGlyphs" stroke="#000" stroke-width="0.5">FL1–H</text>
<text x="1813" y="1207.5" font-size="34.2" text-anchor="middle" textLength="60.5" lengthAdjust="spacingAndGlyphs" stroke="#000" stroke-width="0.3">H–2</text>
<text x="-0.8" y="58.5" font-size="34.2" textLength="42" lengthAdjust="spacingAndGlyphs" stroke="#000" stroke-width="0.3">(a)</text>
<text x="336" y="59" font-size="34.2" text-anchor="middle" textLength="117" lengthAdjust="spacingAndGlyphs" stroke="#000" stroke-width="0.3">Control</text>
<text x="337.3" y="685.5" font-size="34.2" text-anchor="middle" textLength="100" lengthAdjust="spacingAndGlyphs" stroke="#000" stroke-width="0.3">KB290</text>
<text x="440" y="247.2" font-size="34" text-anchor="middle" textLength="40" lengthAdjust="spacingAndGlyphs" stroke="#000" stroke-width="0.7">R2</text>
<text x="1232" y="247.3" font-size="34" text-anchor="middle" textLength="39.5" lengthAdjust="spacingAndGlyphs" stroke="#000" stroke-width="0.7">R3</text>
<text x="1889" y="247.0" font-size="34" text-anchor="middle" textLength="40.5" lengthAdjust="spacingAndGlyphs" stroke="#000" stroke-width="0.7">R4</text>
<text x="440" y="846.7" font-size="34" text-anchor="middle" textLength="40" lengthAdjust="spacingAndGlyphs" stroke="#000" stroke-width="0.7">R2</text>
<text x="1232" y="846.8" font-size="34" text-anchor="middle" textLength="39.5" lengthAdjust="spacingAndGlyphs" stroke="#000" stroke-width="0.7">R3</text>
<text x="1889" y="846.5" font-size="34" text-anchor="middle" textLength="40.5" lengthAdjust="spacingAndGlyphs" stroke="#000" stroke-width="0.7">R4</text>
<text x="615.1" y="222.3" font-size="34.2" text-anchor="middle" textLength="94" lengthAdjust="spacingAndGlyphs" stroke="#000" stroke-width="0.3">1·32%</text>
<text x="614.6" y="796" font-size="34.2" text-anchor="middle" textLength="92.5" lengthAdjust="spacingAndGlyphs" stroke="#000" stroke-width="0.3">1·74%</text>
<text x="1516" y="25" font-size="34.2" text-anchor="middle" textLength="94" lengthAdjust="spacingAndGlyphs" stroke="#000" stroke-width="0.3">1·30%</text>
<text x="1510.5" y="645.8" font-size="34.2" text-anchor="middle" textLength="95" lengthAdjust="spacingAndGlyphs" stroke="#000" stroke-width="0.3">1·73%</text>
<path d="M506.8 231.25H701.4V219.5L736.6 237.5L701.4 255.5V243.75H506.8Z" fill="#000"/>
<path d="M522.7 832.55H701.8V820.3L736.7 838.3L701.8 856.3V844.05H522.7Z" fill="#000"/>
<line x1="1383.8" y1="39.9" x2="1245.8" y2="160.1" stroke="#000" stroke-width="5.0" stroke-linecap="round"/>
<path d="M1234.5 170.0L1242.1 152.8L1252.6 164.9Z" fill="#000"/>
<line x1="1672.2" y1="37.1" x2="1810.0" y2="156.9" stroke="#000" stroke-width="5.0" stroke-linecap="round"/>
<path d="M1821.3 166.7L1803.2 161.6L1813.7 149.5Z" fill="#000"/>
<line x1="1388.8" y1="652.0" x2="1252.1" y2="772.1" stroke="#000" stroke-width="5.0" stroke-linecap="round"/>
<path d="M1240.8 782.0L1248.3 764.8L1258.9 776.8Z" fill="#000"/>
<line x1="1667.4" y1="651.0" x2="1804.2" y2="771.6" stroke="#000" stroke-width="5.0" stroke-linecap="round"/>
<path d="M1815.4 781.5L1797.4 776.3L1807.9 764.3Z" fill="#000"/>
<rect x="729.70" y="1267.50" width="4.00" height="624.30" fill="#000"/>
<rect x="729.70" y="1887.00" width="816.80" height="4.80" fill="#000"/>
<text x="714.3" y="1901.9" font-size="34.2" text-anchor="end" textLength="46" lengthAdjust="spacingAndGlyphs" stroke="#000" stroke-width="0.3">0·0</text>
<rect x="731.70" y="1761.98" width="15.50" height="4.60" fill="#000"/>
<text x="714.3" y="1777.4800000000002" font-size="34.2" text-anchor="end" textLength="46" lengthAdjust="spacingAndGlyphs" stroke="#000" stroke-width="0.3">0·5</text>
<rect x="731.70" y="1638.36" width="15.50" height="4.60" fill="#000"/>
<text x="714.3" y="1653.8600000000001" font-size="34.2" text-anchor="end" textLength="46" lengthAdjust="spacingAndGlyphs" stroke="#000" stroke-width="0.3">1·0</text>
<rect x="731.70" y="1514.74" width="15.50" height="4.60" fill="#000"/>
<text x="714.3" y="1530.24" font-size="34.2" text-anchor="end" textLength="46" lengthAdjust="spacingAndGlyphs" stroke="#000" stroke-width="0.3">1·5</text>
<rect x="731.70" y="1391.12" width="15.50" height="4.60" fill="#000"/>
<text x="714.3" y="1406.6200000000001" font-size="34.2" text-anchor="end" textLength="46" lengthAdjust="spacingAndGlyphs" stroke="#000" stroke-width="0.3">2·0</text>
<rect x="731.70" y="1267.50" width="15.50" height="4.60" fill="#000"/>
<text x="714.3" y="1283.0000000000002" font-size="34.2" text-anchor="end" textLength="46" lengthAdjust="spacingAndGlyphs" stroke="#000" stroke-width="0.3">2·5</text>
<rect x="855" y="1533.5" width="162" height="355" fill="#fff" stroke="#000" stroke-width="2.1"/>
<rect x="1261" y="1444.5" width="164" height="444" fill="#2f2f2f" stroke="#000" stroke-width="2.4"/>
<rect x="933.30" y="1490.60" width="3.20" height="43.00" fill="#000"/>
<rect x="927.80" y="1488.50" width="14.50" height="4.60" fill="#000"/>
<rect x="1341.70" y="1374.00" width="3.20" height="70.00" fill="#000"/>
<rect x="1336.30" y="1371.80" width="14.50" height="4.60" fill="#000"/>
<text x="1344.2" y="1368" font-size="37" text-anchor="middle" stroke="#000" stroke-width="0.6">*</text>
<text x="593.5" y="1275.5" font-size="32" textLength="44.5" lengthAdjust="spacingAndGlyphs">(b)</text>
<text x="935.3" y="1940.7" font-size="34.2" text-anchor="middle" textLength="116" lengthAdjust="spacingAndGlyphs" stroke="#000" stroke-width="0.3">Control</text>
<text x="1342.7" y="1940.7" font-size="34.2" text-anchor="middle" textLength="100.5" lengthAdjust="spacingAndGlyphs" stroke="#000" stroke-width="0.3">KB290</text>
<text transform="translate(638 1578.5) rotate(-90)" font-size="34" stroke="#000" stroke-width="0.3" text-anchor="middle" textLength="453" lengthAdjust="spacing">Marco<tspan dy="-11" font-size="22">+</tspan><tspan dy="11">SIGNR1</tspan><tspan dy="-11" font-size="22">+</tspan><tspan dy="11">H-2</tspan><tspan dy="-11" font-size="22">+</tspan><tspan dy="11">cells (%)</tspan></text>
</svg></body></html>
